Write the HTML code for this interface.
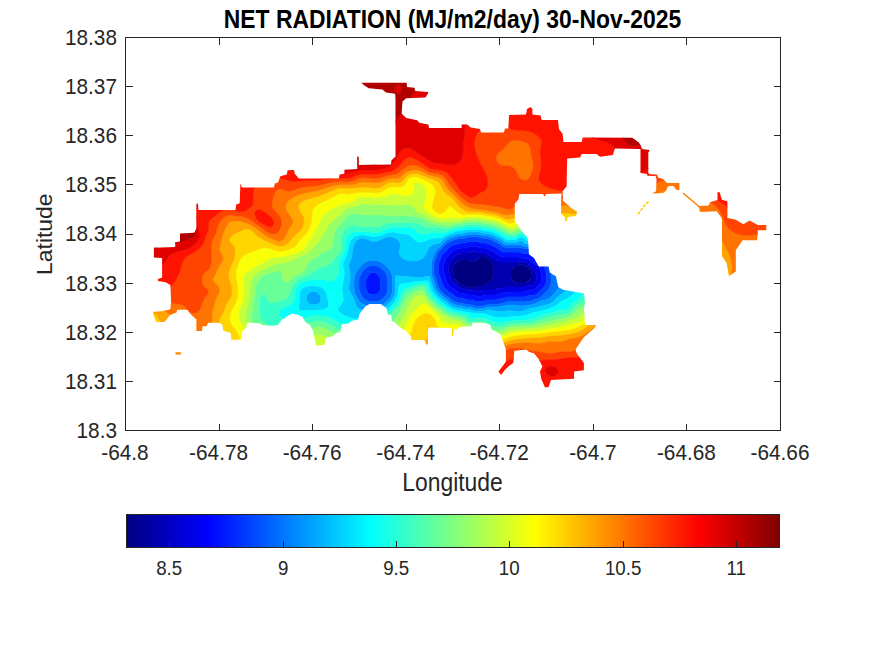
<!DOCTYPE html>
<html><head><meta charset="utf-8"><title>Net Radiation</title><style>html,body{margin:0;padding:0;background:#fff;}svg{display:block;}</style></head><body>
<svg xmlns="http://www.w3.org/2000/svg" width="875" height="656" viewBox="0 0 875 656">
<defs><clipPath id="cp"><path d="M361.4 82.8 406.6 82.8 407.1 86.9 414.4 87.8 415.3 91.0 428.1 91.9 428.1 93.3 425.4 97.4 406.2 98.3 402.5 101.5 401.6 113.4 406.2 118.0 417.2 120.2 419.0 122.5 425.0 124.0 428.4 124.6 429.0 128.0 461.6 128.0 461.6 124.6 467.3 124.6 470.7 127.4 479.9 129.1 481.0 132.6 503.9 132.6 505.0 128.6 508.4 128.6 509.0 114.9 526.0 114.6 527.0 109.1 530.6 107.0 532.4 109.1 532.4 114.6 540.7 115.5 541.6 120.1 558.0 120.1 559.0 129.3 562.6 133.8 563.5 142.1 581.8 142.1 582.7 137.5 632.3 137.7 635.5 140.0 639.1 142.7 641.4 146.9 641.9 149.1 649.7 150.1 648.3 152.8 648.3 172.9 649.7 174.3 657.4 174.8 657.9 177.5 662.9 178.9 666.6 182.5 668.4 183.0 679.4 183.0 679.4 189.9 676.7 189.9 673.0 185.7 668.0 186.2 666.6 189.4 663.9 193.1 652.0 193.5 656.1 191.2 656.5 179.3 655.6 176.1 647.4 175.7 646.9 173.9 640.5 172.9 640.5 149.1 614.7 148.5 612.9 154.9 600.1 156.7 596.5 154.0 581.8 154.0 580.0 157.6 567.2 158.5 566.7 180.0 566.7 186.2 562.6 191.3 563.0 200.6 570.8 207.8 577.0 211.4 576.0 216.0 567.8 217.0 566.7 221.2 565.2 221.2 564.7 217.0 561.1 214.0 561.1 200.6 561.6 193.4 546.2 193.9 544.6 196.5 543.0 194.0 519.4 193.9 518.4 199.5 514.8 203.7 514.8 221.2 517.3 224.2 520.4 229.4 525.6 235.6 527.8 238.5 529.0 254.4 533.9 258.0 538.8 266.6 548.5 266.6 549.8 272.7 555.9 276.3 558.3 287.3 563.2 289.8 583.9 293.4 585.1 303.2 583.9 308.0 585.1 325.1 596.1 325.1 594.9 327.6 583.9 337.3 575.4 349.5 576.6 353.2 583.9 362.9 583.9 370.2 574.1 371.5 574.1 378.8 551.0 380.0 548.5 387.3 544.9 387.3 541.2 378.8 540.0 371.5 542.4 366.6 538.8 359.3 533.9 353.2 529.0 352.0 526.6 349.5 514.4 350.7 513.2 362.9 508.3 366.6 504.6 370.2 501.0 375.1 498.5 371.5 505.9 361.7 505.9 349.5 501.0 334.9 498.3 332.7 491.4 329.3 490.3 324.7 485.7 323.0 472.0 322.4 471.4 325.9 459.4 327.0 457.1 329.3 453.7 329.3 453.1 336.1 452.0 336.1 452.0 328.1 429.7 327.6 428.0 329.3 428.0 344.1 426.3 344.7 425.1 340.7 424.0 340.1 411.4 340.1 410.9 336.1 408.6 333.9 406.9 331.6 403.4 329.3 400.0 327.6 396.8 324.0 392.0 320.8 391.2 315.2 388.0 314.4 386.4 308.0 380.8 304.0 369.6 304.0 366.0 305.8 359.6 313.8 358.0 319.4 351.6 321.0 348.4 323.4 342.0 324.2 340.4 331.4 336.4 333.0 332.4 336.2 326.0 337.8 324.4 345.0 316.4 345.8 314.8 339.4 313.2 331.4 310.0 325.0 305.2 321.8 302.8 317.0 297.2 314.6 291.6 313.8 286.8 316.2 284.4 318.6 282.0 319.4 278.0 325.0 273.2 325.8 262.0 325.0 260.4 323.4 247.6 322.6 246.0 328.2 242.4 330.4 241.7 339.3 231.4 340.0 230.7 333.1 223.2 330.4 222.5 324.9 219.8 322.8 208.1 322.8 206.7 326.2 202.6 326.2 201.9 331.0 196.4 331.0 196.4 319.4 191.6 315.3 187.5 309.8 177.2 309.8 176.5 312.5 170.0 315.0 165.6 320.8 164.2 322.1 156.0 322.1 153.9 316.6 153.2 311.8 161.5 311.2 169.0 309.8 170.4 309.1 171.1 301.6 170.4 285.1 165.6 282.3 158.0 281.0 158.0 278.9 162.1 277.5 162.1 258.1 153.9 257.4 153.9 247.8 175.2 247.1 175.2 242.3 180.0 241.6 180.0 233.4 194.4 232.7 196.4 227.9 196.4 203.9 197.8 203.2 198.5 210.1 235.5 210.1 236.2 204.6 239.7 203.2 240.4 183.4 242.0 187.4 274.0 187.4 274.8 183.4 278.0 182.6 280.4 176.2 286.8 174.6 287.6 170.3 294.0 170.3 294.8 173.8 298.8 178.6 338.8 178.6 339.6 174.6 344.4 173.8 344.4 169.8 357.2 169.0 357.2 156.2 358.8 157.0 358.8 165.0 391.0 164.6 391.4 160.5 395.5 156.4 395.5 100.0 395.2 93.7 386.1 92.4 382.4 89.6 368.7 88.3 363.7 85.1Z"/><path d="M699.0 206.0 708.5 205.5 710.6 202.1 717.5 200.0 717.5 192.2 719.5 192.2 722.0 199.8 727.4 201.4 727.4 218.1 735.8 219.7 743.4 224.2 749.5 220.4 757.9 225.0 766.3 225.0 766.3 230.3 757.9 230.3 757.1 240.3 742.6 240.3 735.8 250.2 735.8 271.5 728.9 276.1 726.6 263.1 722.0 256.3 722.0 219.7 721.3 217.4 716.7 211.3 699.9 212.0Z"/></clipPath>
<linearGradient id="jet" x1="0" y1="0" x2="1" y2="0"><stop offset="0.0000" stop-color="#000080"/><stop offset="0.0156" stop-color="#00008f"/><stop offset="0.0312" stop-color="#00009f"/><stop offset="0.0469" stop-color="#0000af"/><stop offset="0.0625" stop-color="#0000bf"/><stop offset="0.0781" stop-color="#0000cf"/><stop offset="0.0938" stop-color="#0000df"/><stop offset="0.1094" stop-color="#0000ef"/><stop offset="0.1250" stop-color="#0000ff"/><stop offset="0.1406" stop-color="#0010ff"/><stop offset="0.1562" stop-color="#0020ff"/><stop offset="0.1719" stop-color="#0030ff"/><stop offset="0.1875" stop-color="#0040ff"/><stop offset="0.2031" stop-color="#0050ff"/><stop offset="0.2188" stop-color="#0060ff"/><stop offset="0.2344" stop-color="#0070ff"/><stop offset="0.2500" stop-color="#0080ff"/><stop offset="0.2656" stop-color="#008fff"/><stop offset="0.2812" stop-color="#009fff"/><stop offset="0.2969" stop-color="#00afff"/><stop offset="0.3125" stop-color="#00bfff"/><stop offset="0.3281" stop-color="#00cfff"/><stop offset="0.3438" stop-color="#00dfff"/><stop offset="0.3594" stop-color="#00efff"/><stop offset="0.3750" stop-color="#00ffff"/><stop offset="0.3906" stop-color="#10ffef"/><stop offset="0.4062" stop-color="#20ffdf"/><stop offset="0.4219" stop-color="#30ffcf"/><stop offset="0.4375" stop-color="#40ffbf"/><stop offset="0.4531" stop-color="#50ffaf"/><stop offset="0.4688" stop-color="#60ff9f"/><stop offset="0.4844" stop-color="#70ff8f"/><stop offset="0.5000" stop-color="#80ff80"/><stop offset="0.5156" stop-color="#8fff70"/><stop offset="0.5312" stop-color="#9fff60"/><stop offset="0.5469" stop-color="#afff50"/><stop offset="0.5625" stop-color="#bfff40"/><stop offset="0.5781" stop-color="#cfff30"/><stop offset="0.5938" stop-color="#dfff20"/><stop offset="0.6094" stop-color="#efff10"/><stop offset="0.6250" stop-color="#ffff00"/><stop offset="0.6406" stop-color="#ffef00"/><stop offset="0.6562" stop-color="#ffdf00"/><stop offset="0.6719" stop-color="#ffcf00"/><stop offset="0.6875" stop-color="#ffbf00"/><stop offset="0.7031" stop-color="#ffaf00"/><stop offset="0.7188" stop-color="#ff9f00"/><stop offset="0.7344" stop-color="#ff8f00"/><stop offset="0.7500" stop-color="#ff8000"/><stop offset="0.7656" stop-color="#ff7000"/><stop offset="0.7812" stop-color="#ff6000"/><stop offset="0.7969" stop-color="#ff5000"/><stop offset="0.8125" stop-color="#ff4000"/><stop offset="0.8281" stop-color="#ff3000"/><stop offset="0.8438" stop-color="#ff2000"/><stop offset="0.8594" stop-color="#ff1000"/><stop offset="0.8750" stop-color="#ff0000"/><stop offset="0.8906" stop-color="#ef0000"/><stop offset="0.9062" stop-color="#df0000"/><stop offset="0.9219" stop-color="#cf0000"/><stop offset="0.9375" stop-color="#bf0000"/><stop offset="0.9531" stop-color="#af0000"/><stop offset="0.9688" stop-color="#9f0000"/><stop offset="0.9844" stop-color="#8f0000"/><stop offset="1.0000" stop-color="#800000"/></linearGradient></defs>
<rect width="875" height="656" fill="#fff"/>
<g clip-path="url(#cp)">
<path fill="#000080" stroke="#000080" stroke-width="0.6" fill-rule="evenodd" d="M479.0 257.5 480.5 257.0 482.0 257.0 483.5 257.0 485.0 257.0 486.5 257.5 487.0 258.0 488.0 259.0 488.5 259.5 489.5 260.5 490.0 261.0 491.0 262.0 491.5 262.5 492.0 264.0 492.5 264.9 493.0 265.5 493.5 267.0 493.5 268.5 493.5 270.0 493.5 271.5 493.5 273.0 493.5 274.5 493.5 276.0 493.0 277.5 492.5 278.1 492.0 279.0 491.5 280.5 491.0 281.0 490.0 282.0 489.5 282.5 488.0 283.0 487.1 283.5 486.5 284.0 485.0 284.5 484.1 285.0 483.5 285.5 482.0 286.0 480.5 286.0 479.0 286.0 478.1 286.5 477.5 287.0 476.0 287.5 474.5 287.5 473.0 287.5 471.5 287.5 470.0 287.5 468.5 287.5 467.0 287.0 466.4 286.5 465.5 286.0 464.0 286.0 462.5 285.5 461.9 285.0 461.0 284.5 459.5 284.0 459.0 283.5 458.0 282.5 457.5 282.0 456.5 281.0 456.0 280.5 455.0 279.5 454.5 279.0 454.0 277.5 454.0 276.0 454.0 274.5 453.5 273.6 453.0 273.0 452.5 271.5 452.5 270.0 453.0 268.5 453.5 267.9 454.0 267.0 454.0 265.5 454.5 264.0 455.0 263.5 456.0 262.5 456.5 262.0 458.0 261.5 458.9 261.0 459.5 260.5 461.0 260.0 462.5 260.0 464.0 260.0 465.5 260.0 467.0 260.0 468.5 260.0 470.0 260.5 470.6 261.0 471.5 261.5 473.0 262.0 474.5 262.0 475.5 261.0 476.0 260.5 477.0 259.5 477.5 259.0 478.5 258.0ZM519.5 265.0 521.0 264.5 522.5 264.5 524.0 265.0 524.6 265.5 525.5 266.0 527.0 266.5 527.5 267.0 528.5 268.0 529.0 268.5 530.0 269.5 530.5 270.0 531.0 271.5 531.5 272.4 532.0 273.0 532.5 274.5 532.0 276.0 531.5 276.6 531.0 277.5 530.5 279.0 530.0 279.5 529.0 280.5 528.5 281.0 527.5 282.0 527.0 282.5 525.5 283.0 524.0 283.0 522.5 283.0 521.0 283.0 519.5 283.0 518.0 283.0 516.5 283.0 515.0 282.5 514.5 282.0 513.5 281.0 513.0 280.5 512.0 279.5 511.5 279.0 511.0 277.5 511.0 276.0 511.0 274.5 511.0 273.0 511.0 271.5 511.5 270.0 512.0 269.5 513.0 268.5 513.5 268.0 514.5 267.0 515.0 266.5 516.5 266.0 518.0 266.0 518.9 265.5Z"/>
<path fill="#0000b0" stroke="#0000b0" stroke-width="0.6" fill-rule="evenodd" d="M470.0 251.6 471.5 251.6 473.0 251.6 474.5 251.6 476.0 251.6 476.4 252.0 477.5 253.1 479.0 253.1 480.5 253.1 482.0 253.1 483.5 253.1 485.0 253.1 485.4 253.5 486.5 253.9 488.0 254.6 488.4 255.0 489.5 256.1 491.0 256.1 491.4 256.5 492.5 257.6 492.9 258.0 494.0 259.1 495.5 259.1 495.9 259.5 497.0 260.6 498.5 260.6 498.9 261.0 500.0 262.1 501.5 262.1 503.0 262.1 504.5 262.1 506.0 262.1 507.5 262.1 509.0 262.1 510.5 262.1 512.0 262.1 513.5 262.1 515.0 262.1 516.5 262.1 518.0 262.1 519.5 261.6 521.0 261.7 522.5 261.7 524.0 261.7 525.1 262.5 525.5 262.9 527.0 263.1 528.0 264.0 528.5 264.5 529.6 265.5 530.0 265.9 531.1 267.0 531.5 267.4 532.6 268.5 533.0 268.9 534.5 269.6 534.9 270.0 534.9 271.5 535.6 273.0 536.0 274.1 536.4 274.5 536.4 276.0 536.4 277.5 536.4 279.0 536.4 280.5 536.0 280.9 534.9 282.0 534.5 282.4 533.4 283.5 533.0 283.9 531.9 285.0 531.5 285.4 530.0 285.4 528.5 285.4 527.0 286.1 525.5 286.1 524.4 286.5 524.0 286.9 522.5 286.9 521.0 286.9 519.5 286.9 518.0 286.9 516.5 286.9 515.0 286.9 513.5 286.9 512.0 286.9 510.5 286.9 509.0 286.9 507.5 286.9 506.0 286.9 504.5 286.9 503.0 286.9 501.9 288.0 501.5 288.4 500.0 288.4 498.5 288.4 497.0 288.4 495.9 289.5 495.5 289.9 494.0 289.9 492.5 289.9 491.0 289.9 489.5 289.9 488.0 289.9 486.5 289.9 485.0 289.9 483.5 289.9 482.0 289.9 480.9 291.0 480.5 291.4 479.0 291.4 477.5 291.4 477.1 291.0 476.0 290.6 474.5 290.6 473.0 290.6 471.5 290.6 470.0 290.6 468.5 290.6 467.0 290.4 465.9 289.5 465.5 289.1 464.0 289.1 462.5 289.1 461.0 288.4 460.6 288.0 459.5 287.6 458.4 286.5 458.0 286.1 456.9 285.0 456.5 284.6 455.0 283.9 454.6 283.5 453.5 282.4 453.1 282.0 452.0 280.9 451.6 280.5 450.9 279.0 450.9 277.5 450.5 276.4 450.1 276.0 450.1 274.5 449.4 273.0 449.0 271.9 448.6 271.5 448.6 270.0 448.6 268.5 448.6 267.0 448.6 265.5 449.0 265.1 450.1 264.0 450.1 262.5 450.1 261.0 450.5 260.6 451.6 259.5 452.0 259.1 453.1 258.0 453.5 257.6 454.6 256.5 455.0 256.1 456.1 255.0 456.5 254.6 458.0 254.6 459.5 254.6 460.6 253.5 461.0 253.1 462.5 253.1 464.0 253.1 465.5 253.1 467.0 253.1 468.5 253.1 469.6 252.0ZM478.5 258.0 477.5 259.0 477.0 259.5 476.0 260.5 475.5 261.0 474.5 262.0 473.0 262.0 471.5 261.5 470.6 261.0 470.0 260.5 468.5 260.0 467.0 260.0 465.5 260.0 464.0 260.0 462.5 260.0 461.0 260.0 459.5 260.5 458.9 261.0 458.0 261.5 456.5 262.0 456.0 262.5 455.0 263.5 454.5 264.0 454.0 265.5 454.0 267.0 453.5 267.9 453.0 268.5 452.5 270.0 452.5 271.5 453.0 273.0 453.5 273.6 454.0 274.5 454.0 276.0 454.0 277.5 454.5 279.0 455.0 279.5 456.0 280.5 456.5 281.0 457.5 282.0 458.0 282.5 459.0 283.5 459.5 284.0 461.0 284.5 461.9 285.0 462.5 285.5 464.0 286.0 465.5 286.0 466.4 286.5 467.0 287.0 468.5 287.5 470.0 287.5 471.5 287.5 473.0 287.5 474.5 287.5 476.0 287.5 477.5 287.0 478.1 286.5 479.0 286.0 480.5 286.0 482.0 286.0 483.5 285.5 484.1 285.0 485.0 284.5 486.5 284.0 487.1 283.5 488.0 283.0 489.5 282.5 490.0 282.0 491.0 281.0 491.5 280.5 492.0 279.0 492.5 278.1 493.0 277.5 493.5 276.0 493.5 274.5 493.5 273.0 493.5 271.5 493.5 270.0 493.5 268.5 493.5 267.0 493.0 265.5 492.5 264.9 492.0 264.0 491.5 262.5 491.0 262.0 490.0 261.0 489.5 260.5 488.5 259.5 488.0 259.0 487.0 258.0 486.5 257.5 485.0 257.0 483.5 257.0 482.0 257.0 480.5 257.0 479.0 257.5ZM518.9 265.5 518.0 266.0 516.5 266.0 515.0 266.5 514.5 267.0 513.5 268.0 513.0 268.5 512.0 269.5 511.5 270.0 511.0 271.5 511.0 273.0 511.0 274.5 511.0 276.0 511.0 277.5 511.5 279.0 512.0 279.5 513.0 280.5 513.5 281.0 514.5 282.0 515.0 282.5 516.5 283.0 518.0 283.0 519.5 283.0 521.0 283.0 522.5 283.0 524.0 283.0 525.5 283.0 527.0 282.5 527.5 282.0 528.5 281.0 529.0 280.5 530.0 279.5 530.5 279.0 531.0 277.5 531.5 276.6 532.0 276.0 532.5 274.5 532.0 273.0 531.5 272.4 531.0 271.5 530.5 270.0 530.0 269.5 529.0 268.5 528.5 268.0 527.5 267.0 527.0 266.5 525.5 266.0 524.6 265.5 524.0 265.0 522.5 264.5 521.0 264.5 519.5 265.0Z"/>
<path fill="#0000e1" stroke="#0000e1" stroke-width="0.6" fill-rule="evenodd" d="M468.5 246.9 470.0 246.6 471.5 246.6 473.0 246.6 474.5 246.6 476.0 246.6 477.5 246.9 478.9 247.5 479.0 247.6 480.5 248.1 482.0 248.1 483.5 248.1 485.0 248.1 486.5 248.4 487.9 249.0 488.0 249.1 489.5 249.9 490.9 250.5 491.0 250.6 492.5 251.4 493.9 252.0 494.0 252.1 495.4 253.5 495.5 253.6 497.0 254.4 498.4 255.0 498.5 255.1 500.0 255.9 501.4 256.5 501.5 256.6 503.0 257.1 504.5 257.1 506.0 257.1 507.5 257.1 509.0 257.1 510.5 257.1 512.0 257.1 513.5 257.1 515.0 257.1 516.5 257.1 518.0 257.1 519.5 257.4 520.9 258.0 521.0 258.1 522.5 258.6 524.0 258.6 525.5 258.6 527.0 258.9 528.4 259.5 528.5 259.6 529.9 261.0 530.0 261.1 531.5 261.9 532.9 262.5 533.0 262.6 534.4 264.0 534.5 264.1 536.0 264.9 537.4 265.5 537.5 265.6 538.9 267.0 539.0 267.1 539.6 268.5 539.9 270.0 540.4 271.5 540.5 271.6 541.1 273.0 541.4 274.5 541.4 276.0 541.4 277.5 541.4 279.0 541.4 280.5 541.1 282.0 540.5 283.4 540.4 283.5 539.0 284.9 538.9 285.0 537.5 286.4 537.4 286.5 536.0 287.9 535.9 288.0 534.5 289.4 534.4 289.5 533.0 290.1 531.5 290.4 530.0 290.4 528.5 290.4 527.0 290.9 526.9 291.0 525.5 291.6 524.0 291.9 522.5 291.9 521.0 291.9 519.5 291.9 518.0 291.9 516.5 291.9 515.0 291.9 513.5 291.9 512.0 291.9 510.5 291.9 509.0 292.1 507.5 292.3 506.0 292.4 504.5 292.5 504.4 292.5 503.0 293.1 501.5 293.4 500.0 293.4 498.5 293.9 498.4 294.0 497.0 294.6 495.5 294.9 494.0 294.9 492.5 294.9 491.0 294.9 489.5 294.9 488.0 294.9 486.5 294.9 485.0 294.9 483.5 295.4 483.4 295.5 482.0 296.1 480.5 296.4 479.0 296.4 477.5 296.4 476.0 296.1 474.6 295.5 474.5 295.4 473.0 294.9 471.5 294.9 470.0 294.9 468.5 294.9 467.0 294.6 465.6 294.0 465.5 293.9 464.0 293.4 462.5 293.4 461.0 293.4 459.5 293.1 458.1 292.5 458.0 292.4 456.6 291.0 456.5 290.9 455.1 289.5 455.0 289.4 453.5 288.6 452.1 288.0 452.0 287.9 450.6 286.5 450.5 286.4 449.1 285.0 449.0 284.9 447.6 283.5 447.5 283.4 446.9 282.0 446.6 280.5 446.1 279.0 446.0 278.9 445.4 277.5 445.1 276.0 444.6 274.5 444.5 274.4 443.9 273.0 443.6 271.5 443.6 270.0 443.6 268.5 443.6 267.0 443.6 265.5 443.9 264.0 444.5 262.6 444.6 262.5 445.1 261.0 445.4 259.5 446.0 258.1 446.1 258.0 447.5 256.6 447.6 256.5 449.0 255.1 449.1 255.0 450.5 253.6 450.6 253.5 452.0 252.1 452.1 252.0 453.5 250.6 453.6 250.5 455.0 249.9 456.5 249.6 458.0 249.1 458.1 249.0 459.5 248.4 461.0 248.1 462.5 248.1 464.0 248.1 465.5 248.1 467.0 247.6 467.1 247.5ZM469.6 252.0 468.5 253.1 467.0 253.1 465.5 253.1 464.0 253.1 462.5 253.1 461.0 253.1 460.6 253.5 459.5 254.6 458.0 254.6 456.5 254.6 456.1 255.0 455.0 256.1 454.6 256.5 453.5 257.6 453.1 258.0 452.0 259.1 451.6 259.5 450.5 260.6 450.1 261.0 450.1 262.5 450.1 264.0 449.0 265.1 448.6 265.5 448.6 267.0 448.6 268.5 448.6 270.0 448.6 271.5 449.0 271.9 449.4 273.0 450.1 274.5 450.1 276.0 450.5 276.4 450.9 277.5 450.9 279.0 451.6 280.5 452.0 280.9 453.1 282.0 453.5 282.4 454.6 283.5 455.0 283.9 456.5 284.6 456.9 285.0 458.0 286.1 458.4 286.5 459.5 287.6 460.6 288.0 461.0 288.4 462.5 289.1 464.0 289.1 465.5 289.1 465.9 289.5 467.0 290.4 468.5 290.6 470.0 290.6 471.5 290.6 473.0 290.6 474.5 290.6 476.0 290.6 477.1 291.0 477.5 291.4 479.0 291.4 480.5 291.4 480.9 291.0 482.0 289.9 483.5 289.9 485.0 289.9 486.5 289.9 488.0 289.9 489.5 289.9 491.0 289.9 492.5 289.9 494.0 289.9 495.5 289.9 495.9 289.5 497.0 288.4 498.5 288.4 500.0 288.4 501.5 288.4 501.9 288.0 503.0 286.9 504.5 286.9 506.0 286.9 507.5 286.9 509.0 286.9 510.5 286.9 512.0 286.9 513.5 286.9 515.0 286.9 516.5 286.9 518.0 286.9 519.5 286.9 521.0 286.9 522.5 286.9 524.0 286.9 524.4 286.5 525.5 286.1 527.0 286.1 528.5 285.4 530.0 285.4 531.5 285.4 531.9 285.0 533.0 283.9 533.4 283.5 534.5 282.4 534.9 282.0 536.0 280.9 536.4 280.5 536.4 279.0 536.4 277.5 536.4 276.0 536.4 274.5 536.0 274.1 535.6 273.0 534.9 271.5 534.9 270.0 534.5 269.6 533.0 268.9 532.6 268.5 531.5 267.4 531.1 267.0 530.0 265.9 529.6 265.5 528.5 264.5 528.0 264.0 527.0 263.1 525.5 262.9 525.1 262.5 524.0 261.7 522.5 261.7 521.0 261.7 519.5 261.6 518.0 262.1 516.5 262.1 515.0 262.1 513.5 262.1 512.0 262.1 510.5 262.1 509.0 262.1 507.5 262.1 506.0 262.1 504.5 262.1 503.0 262.1 501.5 262.1 500.0 262.1 498.9 261.0 498.5 260.6 497.0 260.6 495.9 259.5 495.5 259.1 494.0 259.1 492.9 258.0 492.5 257.6 491.4 256.5 491.0 256.1 489.5 256.1 488.4 255.0 488.0 254.6 486.5 253.9 485.4 253.5 485.0 253.1 483.5 253.1 482.0 253.1 480.5 253.1 479.0 253.1 477.5 253.1 476.4 252.0 476.0 251.6 474.5 251.6 473.0 251.6 471.5 251.6 470.0 251.6Z"/>
<path fill="#0012ff" stroke="#0012ff" stroke-width="0.6" fill-rule="evenodd" d="M465.5 242.7 467.0 242.1 468.5 241.7 470.0 241.6 471.5 241.6 473.0 241.6 474.5 241.6 476.0 241.6 477.5 241.7 479.0 242.1 480.5 242.7 481.5 243.0 482.0 243.1 483.5 243.1 485.0 243.1 486.5 243.2 488.0 243.6 489.5 244.2 490.1 244.5 491.0 245.0 492.5 245.7 493.1 246.0 494.0 246.5 495.5 247.2 496.1 247.5 497.0 248.1 498.1 249.0 498.5 249.3 500.0 250.2 500.6 250.5 501.5 251.0 503.0 251.7 504.0 252.0 504.5 252.1 506.0 252.1 507.5 252.1 509.0 252.1 510.5 252.1 512.0 252.1 513.5 252.1 515.0 252.1 516.5 252.1 518.0 252.1 519.5 252.2 521.0 252.6 522.5 253.2 523.5 253.5 524.0 253.6 525.5 253.6 527.0 253.7 528.5 254.1 530.0 254.7 530.6 255.0 531.5 255.6 532.6 256.5 533.0 256.8 534.5 257.7 535.1 258.0 536.0 258.6 537.1 259.5 537.5 259.8 539.0 260.7 539.6 261.0 540.5 261.6 541.6 262.5 542.0 262.9 542.9 264.0 543.5 264.9 543.8 265.5 544.4 267.0 544.8 268.5 545.0 269.2 545.3 270.0 545.9 271.5 546.3 273.0 546.4 274.5 546.4 276.0 546.4 277.5 546.4 279.0 546.4 280.5 546.3 282.0 545.9 283.5 545.3 285.0 545.0 285.6 544.4 286.5 543.5 287.6 543.1 288.0 542.0 289.1 541.6 289.5 540.5 290.6 540.1 291.0 539.0 292.1 538.6 292.5 537.5 293.4 536.6 294.0 536.0 294.3 534.5 294.9 533.0 295.3 531.5 295.4 530.0 295.4 529.5 295.5 528.5 295.8 527.0 296.4 525.5 296.8 524.0 296.9 522.5 296.9 521.0 296.9 519.5 296.9 518.0 296.9 516.5 296.9 515.0 296.9 513.5 296.9 512.0 296.9 510.5 296.9 509.0 296.9 507.5 296.9 507.0 297.0 506.0 297.3 504.5 297.9 503.0 298.3 501.5 298.4 501.0 298.5 500.0 298.8 498.5 299.4 497.0 299.8 495.5 299.9 494.0 299.9 492.5 299.9 491.0 299.9 489.5 299.9 488.0 299.9 486.5 299.9 486.0 300.0 485.0 300.3 483.5 300.9 482.0 301.3 480.5 301.4 479.0 301.4 477.5 301.4 476.0 301.3 474.5 300.9 473.0 300.3 472.0 300.0 471.5 299.9 470.0 299.9 468.5 299.9 467.0 299.8 465.5 299.4 464.0 298.8 463.0 298.5 462.5 298.4 461.0 298.4 459.5 298.3 458.0 297.9 456.5 297.3 455.9 297.0 455.0 296.4 453.9 295.5 453.5 295.1 452.4 294.0 452.0 293.7 450.5 292.8 449.9 292.5 449.0 291.9 447.9 291.0 447.5 290.6 446.4 289.5 446.0 289.1 444.9 288.0 444.5 287.6 443.6 286.5 443.0 285.6 442.7 285.0 442.1 283.5 441.7 282.0 441.5 281.3 441.2 280.5 440.6 279.0 440.2 277.5 440.0 276.8 439.7 276.0 439.1 274.5 438.7 273.0 438.6 271.5 438.6 270.0 438.6 268.5 438.6 267.0 438.6 265.5 438.7 264.0 439.1 262.5 439.7 261.0 440.0 260.2 440.2 259.5 440.6 258.0 441.2 256.5 441.5 255.9 442.1 255.0 443.0 253.9 443.4 253.5 444.5 252.4 444.9 252.0 446.0 250.9 446.4 250.5 447.5 249.4 447.9 249.0 449.0 247.9 449.4 247.5 450.5 246.6 451.4 246.0 452.0 245.7 453.5 245.1 455.0 244.7 455.7 244.5 456.5 244.2 458.0 243.6 459.5 243.2 461.0 243.1 462.5 243.1 464.0 243.1 464.5 243.0ZM467.1 247.5 467.0 247.6 465.5 248.1 464.0 248.1 462.5 248.1 461.0 248.1 459.5 248.4 458.1 249.0 458.0 249.1 456.5 249.6 455.0 249.9 453.6 250.5 453.5 250.6 452.1 252.0 452.0 252.1 450.6 253.5 450.5 253.6 449.1 255.0 449.0 255.1 447.6 256.5 447.5 256.6 446.1 258.0 446.0 258.1 445.4 259.5 445.1 261.0 444.6 262.5 444.5 262.6 443.9 264.0 443.6 265.5 443.6 267.0 443.6 268.5 443.6 270.0 443.6 271.5 443.9 273.0 444.5 274.4 444.6 274.5 445.1 276.0 445.4 277.5 446.0 278.9 446.1 279.0 446.6 280.5 446.9 282.0 447.5 283.4 447.6 283.5 449.0 284.9 449.1 285.0 450.5 286.4 450.6 286.5 452.0 287.9 452.1 288.0 453.5 288.6 455.0 289.4 455.1 289.5 456.5 290.9 456.6 291.0 458.0 292.4 458.1 292.5 459.5 293.1 461.0 293.4 462.5 293.4 464.0 293.4 465.5 293.9 465.6 294.0 467.0 294.6 468.5 294.9 470.0 294.9 471.5 294.9 473.0 294.9 474.5 295.4 474.6 295.5 476.0 296.1 477.5 296.4 479.0 296.4 480.5 296.4 482.0 296.1 483.4 295.5 483.5 295.4 485.0 294.9 486.5 294.9 488.0 294.9 489.5 294.9 491.0 294.9 492.5 294.9 494.0 294.9 495.5 294.9 497.0 294.6 498.4 294.0 498.5 293.9 500.0 293.4 501.5 293.4 503.0 293.1 504.4 292.5 504.5 292.5 506.0 292.4 507.5 292.3 509.0 292.1 510.5 291.9 512.0 291.9 513.5 291.9 515.0 291.9 516.5 291.9 518.0 291.9 519.5 291.9 521.0 291.9 522.5 291.9 524.0 291.9 525.5 291.6 526.9 291.0 527.0 290.9 528.5 290.4 530.0 290.4 531.5 290.4 533.0 290.1 534.4 289.5 534.5 289.4 535.9 288.0 536.0 287.9 537.4 286.5 537.5 286.4 538.9 285.0 539.0 284.9 540.4 283.5 540.5 283.4 541.1 282.0 541.4 280.5 541.4 279.0 541.4 277.5 541.4 276.0 541.4 274.5 541.1 273.0 540.5 271.6 540.4 271.5 539.9 270.0 539.6 268.5 539.0 267.1 538.9 267.0 537.5 265.6 537.4 265.5 536.0 264.9 534.5 264.1 534.4 264.0 533.0 262.6 532.9 262.5 531.5 261.9 530.0 261.1 529.9 261.0 528.5 259.6 528.4 259.5 527.0 258.9 525.5 258.6 524.0 258.6 522.5 258.6 521.0 258.1 520.9 258.0 519.5 257.4 518.0 257.1 516.5 257.1 515.0 257.1 513.5 257.1 512.0 257.1 510.5 257.1 509.0 257.1 507.5 257.1 506.0 257.1 504.5 257.1 503.0 257.1 501.5 256.6 501.4 256.5 500.0 255.9 498.5 255.1 498.4 255.0 497.0 254.4 495.5 253.6 495.4 253.5 494.0 252.1 493.9 252.0 492.5 251.4 491.0 250.6 490.9 250.5 489.5 249.9 488.0 249.1 487.9 249.0 486.5 248.4 485.0 248.1 483.5 248.1 482.0 248.1 480.5 248.1 479.0 247.6 478.9 247.5 477.5 246.9 476.0 246.6 474.5 246.6 473.0 246.6 471.5 246.6 470.0 246.6 468.5 246.9ZM371.0 272.8 372.5 272.5 374.0 272.5 375.5 272.8 375.7 273.0 377.0 274.3 377.2 274.5 378.5 275.8 378.7 276.0 380.0 277.3 380.2 277.5 380.5 279.0 380.5 280.5 380.5 282.0 380.5 283.5 380.5 285.0 380.5 286.5 380.5 288.0 380.5 289.5 380.2 291.0 380.0 291.2 378.7 292.5 378.5 292.7 377.2 294.0 377.0 294.2 375.5 294.5 374.0 294.5 372.5 294.5 371.0 294.5 369.5 294.2 369.3 294.0 368.0 292.7 367.8 292.5 367.4 291.0 366.5 289.7 366.3 289.5 366.0 288.0 366.0 286.5 366.0 285.0 366.0 283.5 366.0 282.0 366.0 280.5 366.3 279.0 366.5 278.8 367.4 277.5 367.8 276.0 368.0 275.8 369.3 274.5 369.5 274.3 370.8 273.0Z"/>
<path fill="#0043ff" stroke="#0043ff" stroke-width="0.6" fill-rule="evenodd" d="M468.5 236.9 470.0 236.8 471.5 236.8 473.0 236.8 474.5 236.8 476.0 236.8 477.5 236.9 478.2 237.0 479.0 237.2 480.5 237.7 482.0 238.1 483.5 238.3 485.0 238.3 486.5 238.4 487.2 238.5 488.0 238.7 489.5 239.2 491.0 239.6 491.8 240.0 492.5 240.5 494.0 241.1 494.8 241.5 495.5 242.0 497.0 242.6 497.8 243.0 498.5 243.5 500.0 244.3 500.3 244.5 501.5 245.6 502.3 246.0 503.0 246.5 504.5 247.1 506.0 247.3 507.5 247.3 509.0 247.3 510.5 247.3 512.0 247.3 513.5 247.3 515.0 247.3 516.5 247.3 518.0 247.3 519.5 247.4 520.2 247.5 521.0 247.7 522.5 248.2 524.0 248.6 525.5 248.8 527.0 248.9 527.7 249.0 528.5 249.2 530.0 249.7 531.5 250.1 532.3 250.5 533.0 251.0 534.5 251.8 534.8 252.0 536.0 253.1 536.0 253.5 537.5 255.0 539.0 256.5 540.5 258.0 542.0 259.5 543.5 259.5 545.0 259.5 545.4 259.5 546.5 260.7 546.7 261.0 547.5 262.5 548.0 263.2 548.4 264.0 548.8 265.5 549.3 267.0 549.5 267.4 549.9 268.5 550.3 270.0 550.8 271.5 551.0 272.3 551.1 273.0 551.2 274.5 551.2 276.0 551.2 277.5 551.3 279.0 551.3 280.5 551.2 282.0 551.0 282.7 550.8 283.5 550.7 285.0 550.3 286.5 549.5 287.9 549.4 288.0 548.6 289.5 548.0 290.1 547.3 291.0 546.5 291.6 545.6 292.5 545.0 293.0 544.0 294.0 543.5 294.4 542.4 295.5 542.0 295.9 540.8 297.0 540.5 297.2 539.0 298.0 538.3 298.5 537.5 298.9 536.0 299.3 534.5 299.8 533.7 300.0 533.0 300.2 531.5 301.0 530.0 301.5 530.0 301.5 528.5 301.5 528.4 301.5 527.0 301.3 526.2 301.5 525.5 301.6 524.0 301.7 522.5 301.7 521.0 301.7 519.5 301.7 518.0 301.7 516.5 301.7 515.0 301.7 513.5 301.7 512.0 301.7 510.5 301.7 509.0 301.7 507.5 301.9 506.0 302.3 504.5 302.8 503.7 303.0 503.0 303.1 501.5 303.4 500.0 303.8 498.5 304.3 497.7 304.5 497.0 304.6 495.5 304.7 494.0 304.7 492.5 304.7 491.0 304.7 489.5 304.7 488.0 304.7 486.5 304.9 485.0 305.3 483.5 305.8 482.7 306.0 482.0 306.1 480.5 306.2 479.0 306.2 477.5 306.2 476.0 306.1 475.3 306.0 474.5 305.8 473.0 305.3 471.5 304.9 470.0 304.7 468.5 304.7 467.0 304.6 466.3 304.5 465.5 304.3 464.0 303.8 462.5 303.4 461.0 303.2 459.5 303.1 458.8 303.0 458.0 302.8 456.5 302.3 455.0 301.9 454.2 301.5 453.5 301.0 452.0 300.2 451.7 300.0 450.5 298.9 450.1 298.5 449.0 297.4 448.2 297.0 447.5 296.5 446.0 295.7 445.7 295.5 444.5 294.4 444.1 294.0 443.0 292.9 442.6 292.5 441.5 291.4 441.1 291.0 440.0 289.8 439.8 289.5 439.0 288.0 438.5 287.3 438.1 286.5 437.7 285.0 437.2 283.5 437.0 283.1 436.6 282.0 436.2 280.5 435.7 279.0 435.5 278.6 435.1 277.5 434.7 276.0 434.2 274.5 434.0 273.7 433.9 273.0 433.8 271.5 433.8 270.0 433.8 268.5 433.8 267.0 433.8 265.5 433.9 264.0 434.0 263.3 434.2 262.5 434.7 261.0 435.1 259.5 435.5 258.4 435.7 258.0 436.2 256.5 436.6 255.0 437.0 254.2 437.5 253.5 438.3 252.0 438.5 251.7 439.6 250.5 440.0 250.1 441.1 249.0 441.5 248.6 442.6 247.5 443.0 247.1 444.1 246.0 444.5 245.6 445.6 244.5 446.0 244.1 447.2 243.0 447.5 242.8 449.0 242.0 449.7 241.5 450.5 241.1 452.0 240.7 453.5 240.2 453.9 240.0 455.0 239.6 456.5 239.2 458.0 238.7 458.8 238.5 459.5 238.4 461.0 238.3 462.5 238.3 464.0 238.1 465.5 237.7 467.0 237.2 467.8 237.0ZM464.5 243.0 464.0 243.1 462.5 243.1 461.0 243.1 459.5 243.2 458.0 243.6 456.5 244.2 455.7 244.5 455.0 244.7 453.5 245.1 452.0 245.7 451.4 246.0 450.5 246.6 449.4 247.5 449.0 247.9 447.9 249.0 447.5 249.4 446.4 250.5 446.0 250.9 444.9 252.0 444.5 252.4 443.4 253.5 443.0 253.9 442.1 255.0 441.5 255.9 441.2 256.5 440.6 258.0 440.2 259.5 440.0 260.2 439.7 261.0 439.1 262.5 438.7 264.0 438.6 265.5 438.6 267.0 438.6 268.5 438.6 270.0 438.6 271.5 438.7 273.0 439.1 274.5 439.7 276.0 440.0 276.8 440.2 277.5 440.6 279.0 441.2 280.5 441.5 281.3 441.7 282.0 442.1 283.5 442.7 285.0 443.0 285.6 443.6 286.5 444.5 287.6 444.9 288.0 446.0 289.1 446.4 289.5 447.5 290.6 447.9 291.0 449.0 291.9 449.9 292.5 450.5 292.8 452.0 293.7 452.4 294.0 453.5 295.1 453.9 295.5 455.0 296.4 455.9 297.0 456.5 297.3 458.0 297.9 459.5 298.3 461.0 298.4 462.5 298.4 463.0 298.5 464.0 298.8 465.5 299.4 467.0 299.8 468.5 299.9 470.0 299.9 471.5 299.9 472.0 300.0 473.0 300.3 474.5 300.9 476.0 301.3 477.5 301.4 479.0 301.4 480.5 301.4 482.0 301.3 483.5 300.9 485.0 300.3 486.0 300.0 486.5 299.9 488.0 299.9 489.5 299.9 491.0 299.9 492.5 299.9 494.0 299.9 495.5 299.9 497.0 299.8 498.5 299.4 500.0 298.8 501.0 298.5 501.5 298.4 503.0 298.3 504.5 297.9 506.0 297.3 507.0 297.0 507.5 296.9 509.0 296.9 510.5 296.9 512.0 296.9 513.5 296.9 515.0 296.9 516.5 296.9 518.0 296.9 519.5 296.9 521.0 296.9 522.5 296.9 524.0 296.9 525.5 296.8 527.0 296.4 528.5 295.8 529.5 295.5 530.0 295.4 531.5 295.4 533.0 295.3 534.5 294.9 536.0 294.3 536.6 294.0 537.5 293.4 538.6 292.5 539.0 292.1 540.1 291.0 540.5 290.6 541.6 289.5 542.0 289.1 543.1 288.0 543.5 287.6 544.4 286.5 545.0 285.6 545.3 285.0 545.9 283.5 546.3 282.0 546.4 280.5 546.4 279.0 546.4 277.5 546.4 276.0 546.4 274.5 546.3 273.0 545.9 271.5 545.3 270.0 545.0 269.2 544.8 268.5 544.4 267.0 543.8 265.5 543.5 264.9 542.9 264.0 542.0 262.9 541.6 262.5 540.5 261.6 539.6 261.0 539.0 260.7 537.5 259.8 537.1 259.5 536.0 258.6 535.1 258.0 534.5 257.7 533.0 256.8 532.6 256.5 531.5 255.6 530.6 255.0 530.0 254.7 528.5 254.1 527.0 253.7 525.5 253.6 524.0 253.6 523.5 253.5 522.5 253.2 521.0 252.6 519.5 252.2 518.0 252.1 516.5 252.1 515.0 252.1 513.5 252.1 512.0 252.1 510.5 252.1 509.0 252.1 507.5 252.1 506.0 252.1 504.5 252.1 504.0 252.0 503.0 251.7 501.5 251.0 500.6 250.5 500.0 250.2 498.5 249.3 498.1 249.0 497.0 248.1 496.1 247.5 495.5 247.2 494.0 246.5 493.1 246.0 492.5 245.7 491.0 245.0 490.1 244.5 489.5 244.2 488.0 243.6 486.5 243.2 485.0 243.1 483.5 243.1 482.0 243.1 481.5 243.0 480.5 242.7 479.0 242.1 477.5 241.7 476.0 241.6 474.5 241.6 473.0 241.6 471.5 241.6 470.0 241.6 468.5 241.7 467.0 242.1 465.5 242.7ZM372.5 265.5 374.0 265.5 374.0 265.5 375.5 265.6 377.0 265.9 378.5 266.5 379.4 267.0 380.0 267.4 381.3 268.5 381.5 268.7 382.8 270.0 383.0 270.2 384.3 271.5 384.5 271.7 385.6 273.0 386.0 273.6 386.5 274.5 387.1 276.0 387.4 277.5 387.5 279.0 387.5 279.0 387.5 280.5 387.5 282.0 387.5 283.5 387.5 285.0 387.5 286.5 387.5 288.0 387.5 289.5 387.5 289.5 387.4 291.0 387.1 292.5 386.5 294.0 386.0 294.9 385.6 295.5 384.5 296.8 384.3 297.0 383.0 298.3 382.8 298.5 381.5 299.6 380.9 300.0 380.0 300.5 378.5 301.1 377.0 301.4 375.5 301.5 375.5 301.5 374.0 301.5 372.5 301.5 371.0 301.5 371.0 301.5 369.5 301.4 368.0 301.1 366.5 300.5 365.6 300.0 365.0 299.6 363.7 298.5 363.5 298.3 362.4 297.0 362.0 296.4 361.5 295.5 360.9 294.0 360.5 293.4 360.0 292.5 359.4 291.0 359.1 289.5 359.0 288.0 359.0 288.0 359.0 286.5 359.0 285.0 359.0 283.5 359.0 282.0 359.0 280.5 359.0 280.5 359.1 279.0 359.4 277.5 360.0 276.0 360.5 275.1 360.9 274.5 361.5 273.0 362.0 272.1 362.4 271.5 363.5 270.2 363.7 270.0 365.0 268.7 365.2 268.5 366.5 267.4 367.1 267.0 368.0 266.5 369.5 265.9 371.0 265.6ZM370.8 273.0 369.5 274.3 369.3 274.5 368.0 275.8 367.8 276.0 367.4 277.5 366.5 278.8 366.3 279.0 366.0 280.5 366.0 282.0 366.0 283.5 366.0 285.0 366.0 286.5 366.0 288.0 366.3 289.5 366.5 289.7 367.4 291.0 367.8 292.5 368.0 292.7 369.3 294.0 369.5 294.2 371.0 294.5 372.5 294.5 374.0 294.5 375.5 294.5 377.0 294.2 377.2 294.0 378.5 292.7 378.7 292.5 380.0 291.2 380.2 291.0 380.5 289.5 380.5 288.0 380.5 286.5 380.5 285.0 380.5 283.5 380.5 282.0 380.5 280.5 380.5 279.0 380.2 277.5 380.0 277.3 378.7 276.0 378.5 275.8 377.2 274.5 377.0 274.3 375.7 273.0 375.5 272.8 374.0 272.5 372.5 272.5 371.0 272.8Z"/>
<path fill="#0073ff" stroke="#0073ff" stroke-width="0.6" fill-rule="evenodd" d="M464.0 235.4 465.5 234.9 467.0 234.6 468.5 234.4 470.0 234.3 471.5 234.3 473.0 234.3 474.5 234.3 476.0 234.3 477.5 234.4 479.0 234.6 480.5 234.9 482.0 235.4 482.4 235.5 483.5 235.8 485.0 235.8 486.5 235.9 488.0 236.1 489.5 236.4 491.0 236.9 491.3 237.0 492.5 237.5 494.0 238.3 494.5 238.5 495.5 239.0 497.0 239.8 497.5 240.0 498.5 240.5 500.0 241.3 500.3 241.5 501.5 242.3 502.4 243.0 503.0 243.4 504.5 244.3 505.1 244.5 506.0 244.8 507.5 244.8 509.0 244.8 510.5 244.8 512.0 244.8 513.5 244.8 515.0 244.8 516.5 244.8 518.0 244.8 519.5 244.9 521.0 245.1 522.5 245.4 524.0 245.9 524.4 246.0 525.5 246.3 527.0 246.4 528.5 246.6 530.0 246.9 531.5 247.4 531.8 247.5 533.0 248.0 534.5 248.8 534.8 249.0 536.0 249.8 536.0 250.5 536.0 252.0 536.0 253.1 534.8 252.0 534.5 251.8 533.0 251.0 532.3 250.5 531.5 250.1 530.0 249.7 528.5 249.2 527.7 249.0 527.0 248.9 525.5 248.8 524.0 248.6 522.5 248.2 521.0 247.7 520.2 247.5 519.5 247.4 518.0 247.3 516.5 247.3 515.0 247.3 513.5 247.3 512.0 247.3 510.5 247.3 509.0 247.3 507.5 247.3 506.0 247.3 504.5 247.1 503.0 246.5 502.3 246.0 501.5 245.6 500.3 244.5 500.0 244.3 498.5 243.5 497.8 243.0 497.0 242.6 495.5 242.0 494.8 241.5 494.0 241.1 492.5 240.5 491.8 240.0 491.0 239.6 489.5 239.2 488.0 238.7 487.2 238.5 486.5 238.4 485.0 238.3 483.5 238.3 482.0 238.1 480.5 237.7 479.0 237.2 478.2 237.0 477.5 236.9 476.0 236.8 474.5 236.8 473.0 236.8 471.5 236.8 470.0 236.8 468.5 236.9 467.8 237.0 467.0 237.2 465.5 237.7 464.0 238.1 462.5 238.3 461.0 238.3 459.5 238.4 458.8 238.5 458.0 238.7 456.5 239.2 455.0 239.6 453.9 240.0 453.5 240.2 452.0 240.7 450.5 241.1 449.7 241.5 449.0 242.0 447.5 242.8 447.2 243.0 446.0 244.1 445.6 244.5 444.5 245.6 444.1 246.0 443.0 247.1 442.6 247.5 441.5 248.6 441.1 249.0 440.0 250.1 439.6 250.5 438.5 251.7 438.3 252.0 437.5 253.5 437.0 254.2 436.6 255.0 436.2 256.5 435.7 258.0 435.5 258.4 435.1 259.5 434.7 261.0 434.2 262.5 434.0 263.3 433.9 264.0 433.8 265.5 433.8 267.0 433.8 268.5 433.8 270.0 433.8 271.5 433.9 273.0 434.0 273.7 434.2 274.5 434.7 276.0 435.1 277.5 435.5 278.6 435.7 279.0 436.2 280.5 436.6 282.0 437.0 283.1 437.2 283.5 437.7 285.0 438.1 286.5 438.5 287.3 439.0 288.0 439.8 289.5 440.0 289.8 441.1 291.0 441.5 291.4 442.6 292.5 443.0 292.9 444.1 294.0 444.5 294.4 445.7 295.5 446.0 295.7 447.5 296.5 448.2 297.0 449.0 297.4 450.1 298.5 450.5 298.9 451.7 300.0 452.0 300.2 453.5 301.0 454.2 301.5 455.0 301.9 456.5 302.3 458.0 302.8 458.8 303.0 459.5 303.1 461.0 303.2 462.5 303.4 464.0 303.8 465.5 304.3 466.3 304.5 467.0 304.6 468.5 304.7 470.0 304.7 471.5 304.9 473.0 305.3 474.5 305.8 475.3 306.0 476.0 306.1 477.5 306.2 479.0 306.2 480.5 306.2 482.0 306.1 482.7 306.0 483.5 305.8 485.0 305.3 486.5 304.9 488.0 304.7 489.5 304.7 491.0 304.7 492.5 304.7 494.0 304.7 495.5 304.7 497.0 304.6 497.7 304.5 498.5 304.3 500.0 303.8 501.5 303.4 503.0 303.1 503.7 303.0 504.5 302.8 506.0 302.3 507.5 301.9 509.0 301.7 510.5 301.7 512.0 301.7 513.5 301.7 515.0 301.7 516.5 301.7 518.0 301.7 519.5 301.7 521.0 301.7 522.5 301.7 524.0 301.7 525.5 301.6 526.2 301.5 527.0 301.3 528.4 301.5 528.5 301.5 530.0 301.5 530.0 301.5 531.5 301.0 533.0 300.2 533.7 300.0 534.5 299.8 536.0 299.3 537.5 298.9 538.3 298.5 539.0 298.0 540.5 297.2 540.8 297.0 542.0 295.9 542.4 295.5 543.5 294.4 544.0 294.0 545.0 293.0 545.6 292.5 546.5 291.6 547.3 291.0 548.0 290.1 548.6 289.5 549.4 288.0 549.5 287.9 550.3 286.5 550.7 285.0 550.8 283.5 551.0 282.7 551.2 282.0 551.3 280.5 551.3 279.0 551.2 277.5 551.2 276.0 551.2 274.5 551.1 273.0 551.0 272.3 550.8 271.5 550.3 270.0 549.9 268.5 549.5 267.4 549.3 267.0 548.8 265.5 548.4 264.0 548.0 263.2 547.5 262.5 546.7 261.0 546.5 260.7 545.4 259.5 546.5 259.5 548.0 259.5 549.5 261.0 550.0 261.5 550.5 262.5 551.0 263.7 551.1 264.0 551.6 265.5 552.0 267.0 552.5 268.2 552.7 268.5 553.2 270.0 553.7 271.5 554.0 272.5 554.4 273.0 555.5 274.4 555.6 274.5 556.6 276.0 557.0 276.8 557.4 277.5 558.2 279.0 558.5 279.9 558.7 280.5 559.1 282.0 559.3 283.5 559.3 285.0 559.1 286.5 558.6 288.0 558.5 288.1 557.7 289.5 557.0 290.3 556.5 291.0 555.5 292.1 555.1 292.5 554.0 293.7 553.7 294.0 552.5 295.4 552.4 295.5 551.0 296.9 550.9 297.0 549.5 298.2 549.0 298.5 548.0 299.0 546.5 299.5 545.0 299.9 544.4 300.0 543.5 300.2 542.0 300.6 540.5 301.1 539.7 301.5 539.0 301.8 537.5 302.6 536.8 303.0 536.0 303.3 534.5 304.0 533.0 304.5 532.8 304.5 531.5 304.8 530.0 305.1 528.5 305.3 527.0 305.5 525.5 305.6 524.0 305.7 522.5 305.8 521.0 305.9 519.5 305.8 518.0 305.6 516.5 305.5 515.0 305.3 513.5 305.1 512.0 305.1 510.5 305.1 509.0 305.2 507.5 305.3 506.0 305.5 504.5 305.8 503.0 305.9 502.3 306.0 501.5 306.2 500.0 306.7 498.5 306.9 497.0 307.1 495.5 307.2 494.0 307.2 492.5 307.2 491.0 307.2 489.5 307.2 488.0 307.2 486.9 307.5 486.5 307.6 485.0 308.1 483.5 308.4 482.0 308.6 480.5 308.7 479.0 308.7 477.5 308.7 476.0 308.6 474.5 308.4 473.0 308.1 471.5 307.6 471.1 307.5 470.0 307.2 468.5 307.2 467.0 307.1 465.5 306.9 464.0 306.6 462.5 306.1 462.1 306.0 461.0 305.7 459.5 305.6 458.0 305.4 456.5 305.1 455.0 304.6 454.7 304.5 453.5 304.0 452.0 303.2 451.7 303.0 450.5 302.2 449.6 301.5 449.0 301.0 448.0 300.0 447.5 299.6 446.0 298.7 445.7 298.5 444.5 297.7 443.6 297.0 443.0 296.5 442.0 295.5 441.5 295.0 440.5 294.0 440.0 293.5 439.0 292.5 438.5 291.9 437.8 291.0 437.0 289.8 436.8 289.5 436.0 288.0 435.5 286.8 435.4 286.5 434.9 285.0 434.5 283.5 434.0 282.3 433.9 282.0 433.4 280.5 433.0 279.0 432.5 277.8 432.4 277.5 431.9 276.0 431.6 274.5 431.4 273.0 431.3 271.5 431.3 270.0 431.3 268.5 431.3 267.0 431.3 265.5 431.4 264.0 431.6 262.5 431.9 261.0 432.3 259.5 432.5 259.2 433.0 258.0 433.4 256.5 433.8 255.0 434.0 254.7 434.5 253.5 435.1 252.0 435.5 251.6 436.2 250.5 437.0 249.6 437.5 249.0 438.5 248.0 439.0 247.5 440.0 246.5 440.5 246.0 441.5 245.0 442.0 244.5 443.0 243.5 443.5 243.0 444.5 242.0 445.1 241.5 446.0 240.8 447.2 240.0 447.5 239.8 449.0 239.0 450.2 238.5 450.5 238.4 452.0 237.9 453.5 237.5 454.7 237.0 455.0 236.9 456.5 236.4 458.0 236.1 459.5 235.9 461.0 235.8 462.5 235.8 463.6 235.5ZM369.5 260.4 371.0 260.2 372.5 260.2 374.0 260.3 375.5 260.4 377.0 260.7 377.8 261.0 378.5 261.2 380.0 261.7 381.5 262.4 381.6 262.5 383.0 263.4 383.8 264.0 384.5 264.6 385.4 265.5 386.0 266.1 386.9 267.0 387.5 267.6 388.4 268.5 389.0 269.2 389.6 270.0 390.5 271.4 390.6 271.5 391.3 273.0 391.8 274.5 392.0 275.2 392.2 276.0 392.4 277.5 392.5 279.0 392.5 280.5 392.5 282.0 392.5 283.5 392.5 285.0 392.5 286.5 392.5 288.0 392.5 289.5 392.4 291.0 392.2 292.5 392.0 293.3 391.8 294.0 391.3 295.5 390.6 297.0 390.5 297.1 389.6 298.5 389.0 299.3 388.4 300.0 387.5 300.9 386.9 301.5 386.0 302.4 385.3 303.0 384.5 303.6 383.1 304.5 383.0 304.6 381.5 305.3 380.0 305.8 379.3 306.0 378.5 306.2 377.0 306.4 375.5 306.5 374.0 306.5 372.5 306.5 371.0 306.5 369.5 306.4 368.0 306.2 367.2 306.0 366.5 305.8 365.0 305.3 363.5 304.6 363.4 304.5 362.0 303.6 361.2 303.0 360.5 302.4 359.6 301.5 359.0 300.8 358.4 300.0 357.5 298.6 357.4 298.5 356.7 297.0 356.0 295.6 355.9 295.5 355.2 294.0 354.7 292.5 354.5 291.8 354.3 291.0 354.1 289.5 354.0 288.0 354.0 286.5 354.0 285.0 354.0 283.5 354.0 282.0 354.0 280.5 354.1 279.0 354.3 277.5 354.5 276.7 354.7 276.0 355.2 274.5 355.9 273.0 356.0 272.9 356.7 271.5 357.4 270.0 357.5 269.9 358.4 268.5 359.0 267.7 359.6 267.0 360.5 266.1 361.1 265.5 362.0 264.6 362.7 264.0 363.5 263.3 364.9 262.5 365.0 262.3 366.5 261.5 368.0 261.2 368.7 261.0ZM372.5 265.5 371.0 265.6 369.5 265.9 368.0 266.5 367.1 267.0 366.5 267.4 365.2 268.5 365.0 268.7 363.7 270.0 363.5 270.2 362.4 271.5 362.0 272.1 361.5 273.0 360.9 274.5 360.5 275.1 360.0 276.0 359.4 277.5 359.1 279.0 359.0 280.5 359.0 280.5 359.0 282.0 359.0 283.5 359.0 285.0 359.0 286.5 359.0 288.0 359.0 288.0 359.1 289.5 359.4 291.0 360.0 292.5 360.5 293.4 360.9 294.0 361.5 295.5 362.0 296.4 362.4 297.0 363.5 298.3 363.7 298.5 365.0 299.6 365.6 300.0 366.5 300.5 368.0 301.1 369.5 301.4 371.0 301.5 371.0 301.5 372.5 301.5 374.0 301.5 375.5 301.5 375.5 301.5 377.0 301.4 378.5 301.1 380.0 300.5 380.9 300.0 381.5 299.6 382.8 298.5 383.0 298.3 384.3 297.0 384.5 296.8 385.6 295.5 386.0 294.9 386.5 294.0 387.1 292.5 387.4 291.0 387.5 289.5 387.5 289.5 387.5 288.0 387.5 286.5 387.5 285.0 387.5 283.5 387.5 282.0 387.5 280.5 387.5 279.0 387.5 279.0 387.4 277.5 387.1 276.0 386.5 274.5 386.0 273.6 385.6 273.0 384.5 271.7 384.3 271.5 383.0 270.2 382.8 270.0 381.5 268.7 381.3 268.5 380.0 267.4 379.4 267.0 378.5 266.5 377.0 265.9 375.5 265.6 374.0 265.5 374.0 265.5Z"/>
<path fill="#00a4ff" stroke="#00a4ff" stroke-width="0.6" fill-rule="evenodd" d="M465.5 232.3 467.0 232.0 468.5 231.9 470.0 231.8 471.5 231.8 473.0 231.8 474.5 231.8 476.0 231.8 477.5 231.9 479.0 232.0 480.5 232.3 481.2 232.5 482.0 232.7 483.5 233.3 485.0 233.3 486.5 233.4 488.0 233.5 489.5 233.8 490.2 234.0 491.0 234.2 492.5 234.8 494.0 235.4 494.1 235.5 495.5 236.2 497.0 236.9 497.1 237.0 498.5 237.7 500.0 238.4 500.1 238.5 501.5 239.3 502.6 240.0 503.0 240.3 504.5 241.4 504.6 241.5 506.0 242.2 507.5 242.3 509.0 242.3 510.5 242.3 512.0 242.3 513.5 242.3 515.0 242.3 516.5 242.3 518.0 241.9 518.5 241.5 519.5 240.5 521.0 240.2 522.5 241.0 523.1 241.5 524.0 242.6 524.3 243.0 525.5 243.7 527.0 243.9 528.5 244.0 530.0 244.3 530.7 244.5 531.5 244.7 533.0 245.3 534.5 245.9 534.5 246.0 534.5 247.5 536.0 249.0 536.0 249.8 534.8 249.0 534.5 248.8 533.0 248.0 531.8 247.5 531.5 247.4 530.0 246.9 528.5 246.6 527.0 246.4 525.5 246.3 524.4 246.0 524.0 245.9 522.5 245.4 521.0 245.1 519.5 244.9 518.0 244.8 516.5 244.8 515.0 244.8 513.5 244.8 512.0 244.8 510.5 244.8 509.0 244.8 507.5 244.8 506.0 244.8 505.1 244.5 504.5 244.3 503.0 243.4 502.4 243.0 501.5 242.3 500.3 241.5 500.0 241.3 498.5 240.5 497.5 240.0 497.0 239.8 495.5 239.0 494.5 238.5 494.0 238.3 492.5 237.5 491.3 237.0 491.0 236.9 489.5 236.4 488.0 236.1 486.5 235.9 485.0 235.8 483.5 235.8 482.4 235.5 482.0 235.4 480.5 234.9 479.0 234.6 477.5 234.4 476.0 234.3 474.5 234.3 473.0 234.3 471.5 234.3 470.0 234.3 468.5 234.4 467.0 234.6 465.5 234.9 464.0 235.4 463.6 235.5 462.5 235.8 461.0 235.8 459.5 235.9 458.0 236.1 456.5 236.4 455.0 236.9 454.7 237.0 453.5 237.5 452.0 237.9 450.5 238.4 450.2 238.5 449.0 239.0 447.5 239.8 447.2 240.0 446.0 240.8 445.1 241.5 444.5 242.0 443.5 243.0 443.0 243.5 442.0 244.5 441.5 245.0 440.5 246.0 440.0 246.5 439.0 247.5 438.5 248.0 437.5 249.0 437.0 249.6 436.2 250.5 435.5 251.6 435.1 252.0 434.5 253.5 434.0 254.7 433.8 255.0 433.4 256.5 433.0 258.0 432.5 259.2 432.3 259.5 431.9 261.0 431.6 262.5 431.4 264.0 431.3 265.5 431.3 267.0 431.3 268.5 431.3 270.0 431.3 271.5 431.4 273.0 431.6 274.5 431.9 276.0 432.4 277.5 432.5 277.8 433.0 279.0 433.4 280.5 433.9 282.0 434.0 282.3 434.5 283.5 434.9 285.0 435.4 286.5 435.5 286.8 436.0 288.0 436.8 289.5 437.0 289.8 437.8 291.0 438.5 291.9 439.0 292.5 440.0 293.5 440.5 294.0 441.5 295.0 442.0 295.5 443.0 296.5 443.6 297.0 444.5 297.7 445.7 298.5 446.0 298.7 447.5 299.6 448.0 300.0 449.0 301.0 449.6 301.5 450.5 302.2 451.7 303.0 452.0 303.2 453.5 304.0 454.7 304.5 455.0 304.6 456.5 305.1 458.0 305.4 459.5 305.6 461.0 305.7 462.1 306.0 462.5 306.1 464.0 306.6 465.5 306.9 467.0 307.1 468.5 307.2 470.0 307.2 471.1 307.5 471.5 307.6 473.0 308.1 474.5 308.4 476.0 308.6 477.5 308.7 479.0 308.7 480.5 308.7 482.0 308.6 483.5 308.4 485.0 308.1 486.5 307.6 486.9 307.5 488.0 307.2 489.5 307.2 491.0 307.2 492.5 307.2 494.0 307.2 495.5 307.2 497.0 307.1 498.5 306.9 500.0 306.7 501.5 306.2 502.3 306.0 503.0 305.9 504.5 305.8 506.0 305.5 507.5 305.3 509.0 305.2 510.5 305.1 512.0 305.1 513.5 305.1 515.0 305.3 516.5 305.5 518.0 305.6 519.5 305.8 521.0 305.9 522.5 305.8 524.0 305.7 525.5 305.6 527.0 305.5 528.5 305.3 530.0 305.1 531.5 304.8 532.8 304.5 533.0 304.5 534.5 304.0 536.0 303.3 536.8 303.0 537.5 302.6 539.0 301.8 539.7 301.5 540.5 301.1 542.0 300.6 543.5 300.2 544.4 300.0 545.0 299.9 546.5 299.5 548.0 299.0 549.0 298.5 549.5 298.2 550.9 297.0 551.0 296.9 552.4 295.5 552.5 295.4 553.7 294.0 554.0 293.7 555.1 292.5 555.5 292.1 556.5 291.0 557.0 290.3 557.7 289.5 558.5 288.1 558.6 288.0 559.1 286.5 559.3 285.0 559.3 283.5 559.1 282.0 558.7 280.5 558.5 279.9 558.2 279.0 557.4 277.5 557.0 276.8 556.6 276.0 555.6 274.5 555.5 274.4 554.4 273.0 554.0 272.5 553.7 271.5 553.2 270.0 552.7 268.5 552.5 268.2 552.0 267.0 551.6 265.5 551.1 264.0 551.0 263.7 550.5 262.5 550.0 261.5 551.0 262.5 552.5 264.0 554.0 265.5 555.5 267.0 555.5 268.5 555.5 270.0 557.0 271.5 558.5 273.0 560.0 274.5 561.5 276.0 563.0 277.5 563.0 279.0 563.0 280.5 564.5 282.0 566.0 283.5 567.5 283.5 568.5 283.5 568.4 285.0 568.0 286.5 567.5 287.8 567.4 288.0 566.6 289.5 566.0 290.2 565.4 291.0 564.5 291.8 563.8 292.5 563.0 293.1 561.8 294.0 561.5 294.2 560.0 295.3 559.7 295.5 558.5 296.4 557.8 297.0 557.0 297.7 556.3 298.5 555.5 299.3 554.9 300.0 554.0 300.9 553.4 301.5 552.5 302.2 551.4 303.0 551.0 303.2 549.5 303.9 548.0 304.4 547.8 304.5 546.5 304.9 545.0 305.2 543.5 305.6 542.0 306.0 542.0 306.0 540.5 306.4 539.0 306.8 537.5 307.2 536.2 307.5 536.0 307.6 534.5 307.8 533.0 308.1 531.5 308.3 530.0 308.5 528.5 308.9 528.2 309.0 527.0 309.5 525.5 310.1 524.5 310.5 524.0 310.7 522.5 311.2 521.0 311.6 519.5 311.8 518.0 311.8 516.5 311.6 515.0 311.4 513.5 311.2 512.0 311.0 510.5 310.8 509.0 310.8 507.5 311.0 506.0 311.2 504.5 311.4 503.0 311.5 501.5 311.6 500.0 311.6 498.5 311.6 497.0 311.4 495.5 311.2 494.0 310.9 492.5 310.5 492.3 310.5 491.0 310.2 489.5 310.0 488.0 309.8 486.5 310.3 485.7 310.5 485.0 310.7 483.5 311.0 482.0 311.1 480.5 311.2 479.0 311.2 477.5 311.2 476.0 311.1 474.5 311.0 473.0 310.7 472.3 310.5 471.5 310.3 470.0 309.7 468.5 309.7 467.0 309.6 465.5 309.5 464.0 309.2 463.3 309.0 462.5 308.8 461.0 308.2 459.5 308.1 458.0 308.0 456.5 307.7 455.8 307.5 455.0 307.3 453.5 306.7 452.0 306.1 451.9 306.0 450.5 305.2 449.4 304.5 449.0 304.2 447.5 303.0 447.5 303.0 446.0 301.6 445.9 301.5 444.5 300.7 443.4 300.0 443.0 299.7 441.5 298.5 441.5 298.5 440.0 297.0 440.0 297.0 438.5 295.5 438.5 295.5 437.0 294.0 437.0 294.0 435.8 292.5 435.5 292.1 434.8 291.0 434.0 289.6 433.9 289.5 433.3 288.0 432.7 286.5 432.5 285.7 432.3 285.0 431.8 283.5 431.2 282.0 431.0 281.2 430.8 280.5 430.3 279.0 429.7 277.5 429.5 276.7 428.0 276.2 426.5 276.3 425.0 276.5 423.5 276.9 422.0 277.3 421.4 277.5 420.5 277.7 419.0 277.8 417.5 277.7 416.0 277.5 415.8 277.5 414.5 277.3 413.0 277.1 411.5 277.0 410.0 276.8 408.5 276.8 407.0 276.7 405.5 276.6 404.0 276.5 402.5 276.3 401.0 276.1 400.1 276.0 399.5 275.9 398.0 275.7 396.5 275.7 396.0 276.0 395.5 277.5 395.5 279.0 395.5 280.5 395.5 282.0 395.5 283.5 395.5 285.0 395.5 286.5 395.5 288.0 395.5 289.5 395.4 291.0 395.3 292.5 395.0 293.7 394.9 294.0 394.5 295.5 393.9 297.0 393.5 297.8 393.2 298.5 392.2 300.0 392.0 300.3 391.1 301.5 390.5 302.1 389.6 303.0 389.0 303.6 388.1 304.5 387.5 305.1 386.3 306.0 386.0 306.2 384.5 307.2 383.8 307.5 383.0 307.9 381.5 308.5 380.0 308.9 379.7 309.0 378.5 309.3 377.0 309.4 375.5 309.5 374.0 309.5 372.5 309.5 371.0 309.5 369.5 309.4 368.0 309.3 366.8 309.0 366.5 308.9 366.0 309.0 365.0 309.3 363.5 309.7 362.0 309.8 360.5 309.7 359.0 309.2 358.7 309.0 357.5 307.9 357.2 307.5 356.3 306.0 356.0 305.3 355.7 304.5 355.2 303.0 354.8 301.5 354.5 300.7 354.3 300.0 353.6 298.5 353.0 297.2 352.9 297.0 352.0 295.5 351.5 294.6 351.2 294.0 350.3 292.5 350.0 291.9 349.6 291.0 349.1 289.5 348.9 288.0 348.9 286.5 349.1 285.0 349.3 283.5 349.5 282.0 349.7 280.5 349.9 279.0 350.0 277.5 350.0 277.5 350.1 276.0 350.1 274.5 350.0 273.2 350.0 273.0 349.8 271.5 349.6 270.0 349.3 268.5 348.9 267.0 348.8 265.5 349.0 264.0 349.6 262.5 350.0 261.6 350.3 261.0 350.9 259.5 351.4 258.0 351.5 257.6 351.8 256.5 352.0 255.0 352.2 253.5 352.4 252.0 352.5 250.5 352.8 249.0 353.0 247.8 353.1 247.5 353.5 246.0 354.0 244.5 354.5 243.4 354.7 243.0 355.7 241.5 356.0 241.1 357.1 240.0 357.5 239.7 359.0 238.9 359.8 238.5 360.5 238.3 362.0 238.1 363.5 238.2 364.9 238.5 365.0 238.5 366.5 239.1 368.0 239.7 368.6 240.0 369.5 240.4 371.0 241.0 372.5 241.4 373.6 241.5 374.0 241.5 374.6 241.5 375.5 241.5 377.0 241.1 378.5 240.6 379.7 240.0 380.0 239.9 381.5 239.1 382.6 238.5 383.0 238.3 384.5 237.7 386.0 237.3 387.4 237.0 387.5 237.0 389.0 236.8 390.5 236.9 391.5 237.0 392.0 237.1 393.5 237.5 395.0 238.1 395.6 238.5 396.5 239.0 397.7 240.0 398.0 240.3 399.2 241.5 399.5 242.1 400.1 243.0 400.5 244.5 400.5 246.0 400.2 247.5 399.8 249.0 399.5 250.4 399.5 250.5 399.3 252.0 399.3 253.5 399.5 254.1 399.8 255.0 400.7 256.5 401.0 256.8 402.3 258.0 402.5 258.1 404.0 259.0 405.0 259.5 405.5 259.7 407.0 260.3 408.5 260.6 410.0 260.9 411.3 261.0 411.5 261.0 413.0 261.0 413.4 261.0 414.5 260.9 416.0 260.7 417.5 260.4 419.0 260.0 420.5 259.5 420.5 259.5 422.0 258.7 423.1 258.0 423.5 257.6 424.6 256.5 425.0 255.9 425.5 255.0 426.2 253.5 426.5 252.7 426.8 252.0 427.4 250.5 428.0 249.3 428.2 249.0 429.3 247.5 429.5 247.3 430.9 246.0 431.0 245.9 432.5 245.0 433.5 244.5 434.0 244.3 435.5 243.9 437.0 243.6 438.5 243.4 440.0 243.0 440.0 243.0 441.5 241.5 441.5 241.5 443.0 240.0 443.0 240.0 444.5 238.8 444.9 238.5 446.0 237.8 447.4 237.0 447.5 236.9 449.0 236.3 450.5 235.7 451.3 235.5 452.0 235.3 453.5 234.8 455.0 234.2 455.8 234.0 456.5 233.8 458.0 233.5 459.5 233.4 461.0 233.3 462.5 233.3 464.0 232.7 464.8 232.5ZM368.7 261.0 368.0 261.2 366.5 261.5 365.0 262.3 364.9 262.5 363.5 263.3 362.7 264.0 362.0 264.6 361.1 265.5 360.5 266.1 359.6 267.0 359.0 267.7 358.4 268.5 357.5 269.9 357.4 270.0 356.7 271.5 356.0 272.9 355.9 273.0 355.2 274.5 354.7 276.0 354.5 276.7 354.3 277.5 354.1 279.0 354.0 280.5 354.0 282.0 354.0 283.5 354.0 285.0 354.0 286.5 354.0 288.0 354.1 289.5 354.3 291.0 354.5 291.8 354.7 292.5 355.2 294.0 355.9 295.5 356.0 295.6 356.7 297.0 357.4 298.5 357.5 298.6 358.4 300.0 359.0 300.8 359.6 301.5 360.5 302.4 361.2 303.0 362.0 303.6 363.4 304.5 363.5 304.6 365.0 305.3 366.5 305.8 367.2 306.0 368.0 306.2 369.5 306.4 371.0 306.5 372.5 306.5 374.0 306.5 375.5 306.5 377.0 306.4 378.5 306.2 379.3 306.0 380.0 305.8 381.5 305.3 383.0 304.6 383.1 304.5 384.5 303.6 385.3 303.0 386.0 302.4 386.9 301.5 387.5 300.9 388.4 300.0 389.0 299.3 389.6 298.5 390.5 297.1 390.6 297.0 391.3 295.5 391.8 294.0 392.0 293.3 392.2 292.5 392.4 291.0 392.5 289.5 392.5 288.0 392.5 286.5 392.5 285.0 392.5 283.5 392.5 282.0 392.5 280.5 392.5 279.0 392.4 277.5 392.2 276.0 392.0 275.2 391.8 274.5 391.3 273.0 390.6 271.5 390.5 271.4 389.6 270.0 389.0 269.2 388.4 268.5 387.5 267.6 386.9 267.0 386.0 266.1 385.4 265.5 384.5 264.6 383.8 264.0 383.0 263.4 381.6 262.5 381.5 262.4 380.0 261.7 378.5 261.2 377.8 261.0 377.0 260.7 375.5 260.4 374.0 260.3 372.5 260.2 371.0 260.2 369.5 260.4ZM311.0 291.9 312.5 291.6 314.0 291.5 315.5 291.7 317.0 292.3 317.5 292.5 318.5 293.2 319.3 294.0 320.0 295.1 320.2 295.5 320.7 297.0 320.9 298.5 320.8 300.0 320.3 301.5 320.0 302.1 319.3 303.0 318.5 303.6 317.0 304.4 316.5 304.5 315.5 304.7 314.0 304.8 312.5 304.7 311.3 304.5 311.0 304.4 309.5 303.7 308.5 303.0 308.0 302.5 307.2 301.5 306.5 300.0 306.5 299.9 306.3 298.5 306.4 297.0 306.5 296.7 306.9 295.5 307.9 294.0 308.0 293.9 309.5 292.6 309.7 292.5Z"/>
<path fill="#00d4ff" stroke="#00d4ff" stroke-width="0.6" fill-rule="evenodd" d="M468.5 229.4 470.0 229.3 471.5 229.3 473.0 229.3 474.5 229.3 476.0 229.3 477.5 229.4 478.8 229.5 479.0 229.5 480.5 229.8 482.0 230.1 483.5 230.6 485.0 230.8 486.5 230.9 487.8 231.0 488.0 231.0 489.5 231.3 491.0 231.6 492.5 232.1 493.6 232.5 494.0 232.7 495.5 233.4 496.6 234.0 497.0 234.2 498.5 234.9 499.6 235.5 500.0 235.7 501.5 236.4 502.6 237.0 503.0 237.3 504.5 238.3 504.8 238.5 506.0 239.4 507.5 239.8 509.0 239.8 510.5 239.8 512.0 239.8 513.5 239.8 515.0 239.8 516.5 239.6 517.6 238.5 518.0 238.2 519.5 237.5 521.0 237.2 522.5 237.4 524.0 238.0 524.7 238.5 525.5 239.1 526.4 240.0 527.0 240.7 528.4 241.5 528.5 241.5 530.0 241.8 531.5 242.1 533.0 242.6 534.1 243.0 534.5 243.2 534.5 244.5 534.5 245.9 533.0 245.3 531.5 244.7 530.7 244.5 530.0 244.3 528.5 244.0 527.0 243.9 525.5 243.7 524.3 243.0 524.0 242.6 523.1 241.5 522.5 241.0 521.0 240.2 519.5 240.5 518.5 241.5 518.0 241.9 516.5 242.3 515.0 242.3 513.5 242.3 512.0 242.3 510.5 242.3 509.0 242.3 507.5 242.3 506.0 242.2 504.6 241.5 504.5 241.4 503.0 240.3 502.6 240.0 501.5 239.3 500.1 238.5 500.0 238.4 498.5 237.7 497.1 237.0 497.0 236.9 495.5 236.2 494.1 235.5 494.0 235.4 492.5 234.8 491.0 234.2 490.2 234.0 489.5 233.8 488.0 233.5 486.5 233.4 485.0 233.3 483.5 233.3 482.0 232.7 481.2 232.5 480.5 232.3 479.0 232.0 477.5 231.9 476.0 231.8 474.5 231.8 473.0 231.8 471.5 231.8 470.0 231.8 468.5 231.9 467.0 232.0 465.5 232.3 464.8 232.5 464.0 232.7 462.5 233.3 461.0 233.3 459.5 233.4 458.0 233.5 456.5 233.8 455.8 234.0 455.0 234.2 453.5 234.8 452.0 235.3 451.3 235.5 450.5 235.7 449.0 236.3 447.5 236.9 447.4 237.0 446.0 237.8 444.9 238.5 444.5 238.8 443.0 240.0 443.0 240.0 441.5 241.5 441.5 241.5 440.0 243.0 440.0 243.0 438.5 243.4 437.0 243.6 435.5 243.9 434.0 244.3 433.5 244.5 432.5 245.0 431.0 245.9 430.9 246.0 429.5 247.3 429.3 247.5 428.2 249.0 428.0 249.3 427.4 250.5 426.8 252.0 426.5 252.7 426.2 253.5 425.5 255.0 425.0 255.9 424.6 256.5 423.5 257.6 423.1 258.0 422.0 258.7 420.5 259.5 420.5 259.5 419.0 260.0 417.5 260.4 416.0 260.7 414.5 260.9 413.4 261.0 413.0 261.0 411.5 261.0 411.3 261.0 410.0 260.9 408.5 260.6 407.0 260.3 405.5 259.7 405.0 259.5 404.0 259.0 402.5 258.1 402.3 258.0 401.0 256.8 400.7 256.5 399.8 255.0 399.5 254.1 399.3 253.5 399.3 252.0 399.5 250.5 399.5 250.4 399.8 249.0 400.2 247.5 400.5 246.0 400.5 244.5 400.1 243.0 399.5 242.1 399.2 241.5 398.0 240.3 397.7 240.0 396.5 239.0 395.6 238.5 395.0 238.1 393.5 237.5 392.0 237.1 391.5 237.0 390.5 236.9 389.0 236.8 387.5 237.0 387.4 237.0 386.0 237.3 384.5 237.7 383.0 238.3 382.6 238.5 381.5 239.1 380.0 239.9 379.7 240.0 378.5 240.6 377.0 241.1 375.5 241.5 374.6 241.5 374.0 241.5 373.6 241.5 372.5 241.4 371.0 241.0 369.5 240.4 368.6 240.0 368.0 239.7 366.5 239.1 365.0 238.5 364.9 238.5 363.5 238.2 362.0 238.1 360.5 238.3 359.8 238.5 359.0 238.9 357.5 239.7 357.1 240.0 356.0 241.1 355.7 241.5 354.7 243.0 354.5 243.4 354.0 244.5 353.5 246.0 353.1 247.5 353.0 247.8 352.8 249.0 352.5 250.5 352.4 252.0 352.2 253.5 352.0 255.0 351.8 256.5 351.5 257.6 351.4 258.0 350.9 259.5 350.3 261.0 350.0 261.6 349.6 262.5 349.0 264.0 348.8 265.5 348.9 267.0 349.3 268.5 349.6 270.0 349.8 271.5 350.0 273.0 350.0 273.2 350.1 274.5 350.1 276.0 350.0 277.5 350.0 277.5 349.9 279.0 349.7 280.5 349.5 282.0 349.3 283.5 349.1 285.0 348.9 286.5 348.9 288.0 349.1 289.5 349.6 291.0 350.0 291.9 350.3 292.5 351.2 294.0 351.5 294.6 352.0 295.5 352.9 297.0 353.0 297.2 353.6 298.5 354.3 300.0 354.5 300.7 354.8 301.5 355.2 303.0 355.7 304.5 356.0 305.3 356.3 306.0 357.2 307.5 357.5 307.9 358.7 309.0 359.0 309.2 360.5 309.7 362.0 309.8 363.5 309.7 365.0 309.3 366.0 309.0 366.5 308.9 366.8 309.0 368.0 309.3 369.5 309.4 371.0 309.5 372.5 309.5 374.0 309.5 375.5 309.5 377.0 309.4 378.5 309.3 379.7 309.0 380.0 308.9 381.5 308.5 383.0 307.9 383.8 307.5 384.5 307.2 386.0 306.2 386.3 306.0 387.5 305.1 388.1 304.5 389.0 303.6 389.6 303.0 390.5 302.1 391.1 301.5 392.0 300.3 392.2 300.0 393.2 298.5 393.5 297.8 393.9 297.0 394.5 295.5 394.9 294.0 395.0 293.7 395.3 292.5 395.4 291.0 395.5 289.5 395.5 288.0 395.5 286.5 395.5 285.0 395.5 283.5 395.5 282.0 395.5 280.5 395.5 279.0 395.5 277.5 396.0 276.0 396.5 275.7 398.0 275.7 399.5 275.9 400.1 276.0 401.0 276.1 402.5 276.3 404.0 276.5 405.5 276.6 407.0 276.7 408.5 276.8 410.0 276.8 411.5 277.0 413.0 277.1 414.5 277.3 415.8 277.5 416.0 277.5 417.5 277.7 419.0 277.8 420.5 277.7 421.4 277.5 422.0 277.3 423.5 276.9 425.0 276.5 426.5 276.3 428.0 276.2 429.5 276.7 429.7 277.5 430.3 279.0 430.8 280.5 431.0 281.2 431.2 282.0 431.8 283.5 432.3 285.0 432.5 285.7 432.7 286.5 433.3 288.0 433.9 289.5 434.0 289.6 434.8 291.0 435.5 292.1 435.8 292.5 437.0 294.0 437.0 294.0 438.5 295.5 438.5 295.5 440.0 297.0 440.0 297.0 441.5 298.5 441.5 298.5 443.0 299.7 443.4 300.0 444.5 300.7 445.9 301.5 446.0 301.6 447.5 303.0 447.5 303.0 449.0 304.2 449.4 304.5 450.5 305.2 451.9 306.0 452.0 306.1 453.5 306.7 455.0 307.3 455.8 307.5 456.5 307.7 458.0 308.0 459.5 308.1 461.0 308.2 462.5 308.8 463.3 309.0 464.0 309.2 465.5 309.5 467.0 309.6 468.5 309.7 470.0 309.7 471.5 310.3 472.3 310.5 473.0 310.7 474.5 311.0 476.0 311.1 477.5 311.2 479.0 311.2 480.5 311.2 482.0 311.1 483.5 311.0 485.0 310.7 485.7 310.5 486.5 310.3 488.0 309.8 489.5 310.0 491.0 310.2 492.3 310.5 492.5 310.5 494.0 310.9 495.5 311.2 497.0 311.4 498.5 311.6 500.0 311.6 501.5 311.6 503.0 311.5 504.5 311.4 506.0 311.2 507.5 311.0 509.0 310.8 510.5 310.8 512.0 311.0 513.5 311.2 515.0 311.4 516.5 311.6 518.0 311.8 519.5 311.8 521.0 311.6 522.5 311.2 524.0 310.7 524.5 310.5 525.5 310.1 527.0 309.5 528.2 309.0 528.5 308.9 530.0 308.5 531.5 308.3 533.0 308.1 534.5 307.8 536.0 307.6 536.2 307.5 537.5 307.2 539.0 306.8 540.5 306.4 542.0 306.0 542.0 306.0 543.5 305.6 545.0 305.2 546.5 304.9 547.8 304.5 548.0 304.4 549.5 303.9 551.0 303.2 551.4 303.0 552.5 302.2 553.4 301.5 554.0 300.9 554.9 300.0 555.5 299.3 556.3 298.5 557.0 297.7 557.8 297.0 558.5 296.4 559.7 295.5 560.0 295.3 561.5 294.2 561.8 294.0 563.0 293.1 563.8 292.5 564.5 291.8 565.4 291.0 566.0 290.2 566.6 289.5 567.4 288.0 567.5 287.8 568.0 286.5 568.4 285.0 568.5 283.5 569.0 283.5 570.5 285.0 572.0 285.0 573.5 285.0 575.0 285.0 576.5 285.0 578.0 285.0 578.1 285.1 578.0 286.1 577.9 286.5 577.5 288.0 576.9 289.5 576.5 290.4 576.2 291.0 575.1 292.5 575.0 292.6 573.7 294.0 573.5 294.2 572.0 295.4 571.9 295.5 570.5 296.5 569.8 297.0 569.0 297.5 567.5 298.4 567.3 298.5 566.0 299.2 564.5 299.9 564.3 300.0 563.0 300.6 561.5 301.3 561.2 301.5 560.0 302.5 559.5 303.0 558.5 303.8 557.8 304.5 557.0 305.1 555.6 306.0 555.5 306.0 554.0 306.8 552.6 307.5 552.5 307.5 551.0 308.1 549.5 308.6 548.2 309.0 548.0 309.1 546.5 309.5 545.0 309.9 543.5 310.3 542.7 310.5 542.0 310.7 540.5 311.1 539.0 311.4 537.5 311.8 536.4 312.0 536.0 312.1 534.5 312.4 533.0 312.7 531.5 313.1 530.5 313.5 530.0 313.7 528.5 314.4 527.0 315.0 527.0 315.0 525.5 315.5 524.0 315.8 522.5 316.0 521.0 316.2 519.5 316.4 518.0 316.5 517.1 316.5 516.5 316.5 515.0 316.6 513.5 316.7 512.0 316.8 510.5 317.0 509.0 317.2 507.5 317.3 506.0 317.4 504.5 317.5 503.0 317.6 501.5 317.7 500.0 317.7 498.5 317.6 497.0 317.4 495.5 317.2 494.0 316.9 492.7 316.5 492.5 316.4 491.0 316.0 489.5 315.5 488.2 315.0 488.0 314.9 486.5 314.4 485.0 313.9 483.5 313.5 482.0 313.7 480.5 313.7 479.0 313.7 477.5 313.7 476.0 313.7 474.7 313.5 474.5 313.5 473.0 313.2 471.5 312.9 470.0 312.4 468.5 312.2 467.0 312.1 465.7 312.0 465.5 312.0 464.0 311.7 462.5 311.4 461.0 310.9 459.5 310.6 458.2 310.5 458.0 310.5 456.5 310.2 455.0 309.9 453.5 309.4 452.4 309.0 452.0 308.8 450.5 308.1 449.4 307.5 449.0 307.2 447.5 306.2 447.2 306.0 446.0 305.0 445.4 304.5 444.5 303.7 443.4 303.0 443.0 302.7 441.5 301.7 441.2 301.5 440.0 300.5 439.4 300.0 438.5 299.1 437.9 298.5 437.0 297.6 436.4 297.0 435.5 296.1 435.0 295.5 434.0 294.3 433.8 294.0 432.8 292.5 432.5 292.1 431.9 291.0 431.2 289.5 431.0 289.1 430.6 288.0 430.1 286.5 429.7 285.0 429.5 284.6 429.1 283.5 428.6 282.0 428.0 281.0 426.5 280.8 425.0 280.9 423.5 281.0 422.0 281.1 420.5 281.3 419.0 281.4 417.5 281.5 416.0 281.6 414.5 281.8 413.1 282.0 413.0 282.0 411.5 282.3 410.0 282.6 408.5 282.9 407.0 283.2 405.5 283.4 404.8 283.5 404.0 283.6 402.5 283.9 401.0 284.2 399.5 284.9 399.5 285.0 398.9 286.5 398.6 288.0 398.5 289.5 398.4 291.0 398.3 292.5 398.0 294.0 398.0 294.1 397.6 295.5 397.1 297.0 396.5 298.5 396.5 298.6 395.8 300.0 395.0 301.2 394.8 301.5 393.7 303.0 393.5 303.3 392.4 304.5 392.0 304.9 390.9 306.0 390.5 306.4 389.3 307.5 389.0 307.7 387.5 308.8 387.2 309.0 386.0 309.8 384.6 310.5 384.5 310.5 383.0 311.1 381.5 311.6 380.1 312.0 380.0 312.0 380.0 312.0 378.5 310.5 377.0 310.5 375.5 310.5 374.0 310.5 372.5 310.5 371.0 310.5 369.5 310.5 368.0 312.0 366.5 313.5 366.5 315.0 365.0 316.5 365.0 317.7 364.2 318.0 363.5 318.2 362.0 318.6 360.5 318.8 359.0 319.0 357.5 319.0 356.0 318.9 354.5 318.8 353.0 318.5 351.5 318.2 350.9 318.0 350.0 317.7 348.5 317.2 347.0 316.7 346.6 316.5 345.5 316.0 344.0 315.3 343.4 315.0 342.5 314.4 341.0 313.5 341.0 313.5 339.5 312.3 339.2 312.0 338.2 310.5 338.0 309.5 337.9 309.0 338.0 308.7 338.4 307.5 339.5 306.2 339.6 306.0 341.0 304.5 341.0 304.5 342.1 303.0 342.5 302.3 342.9 301.5 343.2 300.0 343.3 298.5 343.1 297.0 342.8 295.5 342.6 294.0 342.5 293.6 342.3 292.5 342.2 291.0 342.1 289.5 342.1 288.0 342.2 286.5 342.4 285.0 342.5 284.4 342.6 283.5 342.9 282.0 343.3 280.5 343.6 279.0 343.8 277.5 344.0 276.5 344.1 276.0 344.2 274.5 344.2 273.0 344.1 271.5 344.0 271.0 343.8 270.0 343.5 268.5 343.1 267.0 342.9 265.5 342.9 264.0 343.3 262.5 343.9 261.0 344.0 260.7 344.6 259.5 345.3 258.0 345.5 257.7 346.1 256.5 346.7 255.0 347.0 254.0 347.2 253.5 347.6 252.0 347.9 250.5 348.2 249.0 348.5 247.5 348.5 247.5 348.9 246.0 349.3 244.5 349.7 243.0 350.0 242.3 350.3 241.5 351.2 240.0 351.5 239.5 352.3 238.5 353.0 237.9 354.1 237.0 354.5 236.8 356.0 236.1 357.5 235.6 357.8 235.5 359.0 235.3 360.5 235.0 362.0 234.9 363.5 235.0 365.0 235.1 366.5 235.3 367.4 235.5 368.0 235.6 369.5 235.9 371.0 236.2 372.5 236.5 374.0 236.6 375.5 236.5 377.0 236.3 378.5 236.0 380.0 235.6 380.2 235.5 381.5 235.1 383.0 234.5 384.2 234.0 384.5 233.9 386.0 233.3 387.5 232.8 388.7 232.5 389.0 232.4 390.5 232.2 392.0 232.1 393.5 232.1 395.0 232.3 396.2 232.5 396.5 232.6 398.0 232.9 399.5 233.3 401.0 233.6 402.5 233.8 404.0 233.9 405.5 234.0 405.7 234.0 407.0 234.2 408.5 234.6 409.9 235.5 410.0 235.6 411.5 236.9 411.6 237.0 413.0 238.4 413.1 238.5 414.5 239.8 414.8 240.0 416.0 240.9 417.2 241.5 417.5 241.7 419.0 242.1 420.5 242.2 422.0 242.0 423.5 241.5 423.6 241.5 425.0 241.0 426.5 240.4 427.6 240.0 428.0 239.8 429.5 239.3 431.0 238.8 432.0 238.5 432.5 238.4 434.0 238.0 435.5 237.8 437.0 237.7 438.5 237.7 440.0 237.8 441.5 237.8 442.6 237.0 443.0 236.8 444.5 235.8 444.9 235.5 446.0 234.9 447.5 234.2 447.9 234.0 449.0 233.6 450.5 233.1 452.0 232.7 452.4 232.5 453.5 232.1 455.0 231.6 456.5 231.3 458.0 231.0 458.2 231.0 459.5 230.9 461.0 230.8 462.5 230.6 464.0 230.1 465.5 229.8 467.0 229.5 467.2 229.5ZM308.0 286.2 309.5 286.0 311.0 285.8 312.5 285.8 314.0 285.8 315.5 285.9 317.0 286.0 318.5 286.3 319.3 286.5 320.0 286.7 321.5 287.4 322.5 288.0 323.0 288.4 324.2 289.5 324.5 289.8 325.3 291.0 326.0 292.3 326.1 292.5 326.6 294.0 327.0 295.5 327.3 297.0 327.5 297.9 327.6 298.5 327.9 300.0 328.3 301.5 328.6 303.0 328.7 304.5 328.5 306.0 327.5 307.4 327.4 307.5 326.0 308.5 325.0 309.0 324.5 309.2 323.0 309.6 321.5 309.9 320.0 310.1 318.5 310.3 317.0 310.3 315.5 310.4 314.0 310.4 312.5 310.5 311.6 310.5 311.0 310.5 309.5 310.6 308.0 310.7 306.5 310.7 305.0 310.7 303.5 310.8 302.0 310.7 300.5 310.6 300.4 310.5 299.0 309.3 298.8 309.0 298.7 307.5 298.8 306.0 299.0 304.5 299.0 304.4 299.2 303.0 299.3 301.5 299.4 300.0 299.5 298.5 299.6 297.0 299.8 295.5 299.9 294.0 300.1 292.5 300.5 291.0 300.5 291.0 301.5 289.5 302.0 289.0 303.3 288.0 303.5 287.9 305.0 287.2 306.5 286.6 306.9 286.5ZM309.7 292.5 309.5 292.6 308.0 293.9 307.9 294.0 306.9 295.5 306.5 296.7 306.4 297.0 306.3 298.5 306.5 299.9 306.5 300.0 307.2 301.5 308.0 302.5 308.5 303.0 309.5 303.7 311.0 304.4 311.3 304.5 312.5 304.7 314.0 304.8 315.5 304.7 316.5 304.5 317.0 304.4 318.5 303.6 319.3 303.0 320.0 302.1 320.3 301.5 320.8 300.0 320.9 298.5 320.7 297.0 320.2 295.5 320.0 295.1 319.3 294.0 318.5 293.2 317.5 292.5 317.0 292.3 315.5 291.7 314.0 291.5 312.5 291.6 311.0 291.9Z"/>
<path fill="#06fff9" stroke="#06fff9" stroke-width="0.6" fill-rule="evenodd" d="M390.5 227.7 392.0 227.6 393.5 227.5 395.0 227.4 396.5 227.4 398.0 227.4 399.5 227.4 401.0 227.4 402.5 227.4 404.0 227.3 405.5 227.2 407.0 227.1 408.5 227.1 410.0 227.3 411.5 227.7 412.2 228.0 413.0 228.4 414.5 229.5 414.5 229.5 416.0 231.0 416.0 231.0 417.5 232.4 417.7 232.5 419.0 233.4 420.5 233.9 421.1 234.0 422.0 234.1 423.5 234.1 424.0 234.0 425.0 233.9 426.5 233.6 428.0 233.3 429.5 233.0 431.0 232.7 432.5 232.5 432.9 232.5 434.0 232.4 435.5 232.3 437.0 232.2 438.5 232.2 440.0 232.3 441.5 232.5 441.5 232.5 443.0 232.8 444.5 232.8 445.2 232.5 446.0 232.1 447.5 231.5 448.9 231.0 449.0 231.0 450.5 230.5 452.0 230.0 453.4 229.5 453.5 229.5 455.0 229.0 456.5 228.7 458.0 228.5 459.5 228.4 461.0 228.3 462.3 228.0 462.5 228.0 464.0 227.5 465.5 227.2 467.0 227.0 468.5 226.9 470.0 226.8 471.5 226.8 473.0 226.8 474.5 226.8 476.0 226.8 477.5 226.9 479.0 227.0 480.5 227.2 482.0 227.5 483.5 228.0 483.7 228.0 485.0 228.3 486.5 228.4 488.0 228.5 489.5 228.7 491.0 229.0 492.5 229.5 492.6 229.5 494.0 230.0 495.5 230.6 496.3 231.0 497.0 231.4 498.5 232.1 499.3 232.5 500.0 232.9 501.5 233.6 502.3 234.0 503.0 234.4 504.5 235.2 504.9 235.5 506.0 236.3 507.0 237.0 507.5 237.3 509.0 237.3 510.5 237.3 512.0 237.3 513.5 237.3 515.0 237.3 515.7 237.0 516.5 236.7 518.0 235.7 518.4 235.5 519.5 235.1 521.0 234.7 522.5 234.7 524.0 235.0 525.3 235.5 525.5 235.6 527.0 236.5 527.7 237.0 528.5 237.8 529.3 238.5 530.0 239.0 531.5 239.5 533.0 240.0 533.1 240.0 534.5 240.5 534.5 241.5 534.5 243.0 534.5 243.2 534.1 243.0 533.0 242.6 531.5 242.1 530.0 241.8 528.5 241.5 528.4 241.5 527.0 240.7 526.4 240.0 525.5 239.1 524.7 238.5 524.0 238.0 522.5 237.4 521.0 237.2 519.5 237.5 518.0 238.2 517.6 238.5 516.5 239.6 515.0 239.8 513.5 239.8 512.0 239.8 510.5 239.8 509.0 239.8 507.5 239.8 506.0 239.4 504.8 238.5 504.5 238.3 503.0 237.3 502.6 237.0 501.5 236.4 500.0 235.7 499.6 235.5 498.5 234.9 497.0 234.2 496.6 234.0 495.5 233.4 494.0 232.7 493.6 232.5 492.5 232.1 491.0 231.6 489.5 231.3 488.0 231.0 487.8 231.0 486.5 230.9 485.0 230.8 483.5 230.6 482.0 230.1 480.5 229.8 479.0 229.5 478.8 229.5 477.5 229.4 476.0 229.3 474.5 229.3 473.0 229.3 471.5 229.3 470.0 229.3 468.5 229.4 467.2 229.5 467.0 229.5 465.5 229.8 464.0 230.1 462.5 230.6 461.0 230.8 459.5 230.9 458.2 231.0 458.0 231.0 456.5 231.3 455.0 231.6 453.5 232.1 452.4 232.5 452.0 232.7 450.5 233.1 449.0 233.6 447.9 234.0 447.5 234.2 446.0 234.9 444.9 235.5 444.5 235.8 443.0 236.8 442.6 237.0 441.5 237.8 440.0 237.8 438.5 237.7 437.0 237.7 435.5 237.8 434.0 238.0 432.5 238.4 432.0 238.5 431.0 238.8 429.5 239.3 428.0 239.8 427.6 240.0 426.5 240.4 425.0 241.0 423.6 241.5 423.5 241.5 422.0 242.0 420.5 242.2 419.0 242.1 417.5 241.7 417.2 241.5 416.0 240.9 414.8 240.0 414.5 239.8 413.1 238.5 413.0 238.4 411.6 237.0 411.5 236.9 410.0 235.6 409.9 235.5 408.5 234.6 407.0 234.2 405.7 234.0 405.5 234.0 404.0 233.9 402.5 233.8 401.0 233.6 399.5 233.3 398.0 232.9 396.5 232.6 396.2 232.5 395.0 232.3 393.5 232.1 392.0 232.1 390.5 232.2 389.0 232.4 388.7 232.5 387.5 232.8 386.0 233.3 384.5 233.9 384.2 234.0 383.0 234.5 381.5 235.1 380.2 235.5 380.0 235.6 378.5 236.0 377.0 236.3 375.5 236.5 374.0 236.6 372.5 236.5 371.0 236.2 369.5 235.9 368.0 235.6 367.4 235.5 366.5 235.3 365.0 235.1 363.5 235.0 362.0 234.9 360.5 235.0 359.0 235.3 357.8 235.5 357.5 235.6 356.0 236.1 354.5 236.8 354.1 237.0 353.0 237.9 352.3 238.5 351.5 239.5 351.2 240.0 350.3 241.5 350.0 242.3 349.7 243.0 349.3 244.5 348.9 246.0 348.5 247.5 348.5 247.5 348.2 249.0 347.9 250.5 347.6 252.0 347.2 253.5 347.0 254.0 346.7 255.0 346.1 256.5 345.5 257.7 345.3 258.0 344.6 259.5 344.0 260.7 343.9 261.0 343.3 262.5 342.9 264.0 342.9 265.5 343.1 267.0 343.5 268.5 343.8 270.0 344.0 271.0 344.1 271.5 344.2 273.0 344.2 274.5 344.1 276.0 344.0 276.5 343.8 277.5 343.6 279.0 343.3 280.5 342.9 282.0 342.6 283.5 342.5 284.4 342.4 285.0 342.2 286.5 342.1 288.0 342.1 289.5 342.2 291.0 342.3 292.5 342.5 293.6 342.6 294.0 342.8 295.5 343.1 297.0 343.3 298.5 343.2 300.0 342.9 301.5 342.5 302.3 342.1 303.0 341.0 304.5 341.0 304.5 339.6 306.0 339.5 306.2 338.4 307.5 338.0 308.7 337.9 309.0 338.0 309.5 338.2 310.5 339.2 312.0 339.5 312.3 341.0 313.5 341.0 313.5 342.5 314.4 343.4 315.0 344.0 315.3 345.5 316.0 346.6 316.5 347.0 316.7 348.5 317.2 350.0 317.7 350.9 318.0 351.5 318.2 353.0 318.5 354.5 318.8 356.0 318.9 357.5 319.0 359.0 319.0 360.5 318.8 362.0 318.6 363.5 318.2 364.2 318.0 365.0 317.7 365.0 318.0 365.0 319.5 363.5 321.0 362.0 322.5 360.5 324.0 359.0 325.5 357.9 326.6 357.5 326.6 356.0 326.6 354.5 326.6 353.0 326.5 351.5 326.3 350.0 326.1 348.5 325.8 347.1 325.5 347.0 325.5 345.5 325.1 344.0 324.6 342.5 324.1 342.3 324.0 341.0 323.5 339.5 322.8 338.8 322.5 338.0 322.1 336.5 321.3 336.0 321.0 335.0 320.4 333.5 319.6 333.3 319.5 332.0 318.8 330.5 318.1 330.1 318.0 329.0 317.5 327.5 317.1 326.0 316.7 325.0 316.5 324.5 316.4 323.0 316.2 321.5 316.0 320.0 315.9 318.5 315.8 317.0 315.8 315.5 315.8 314.0 315.9 312.5 316.1 311.0 316.5 310.8 316.5 309.5 316.8 308.0 317.3 306.5 317.7 305.7 318.0 305.0 318.2 303.5 318.7 302.0 319.1 300.7 319.5 300.5 319.6 299.0 319.9 297.5 320.2 296.0 320.5 294.5 320.7 293.0 320.8 291.5 320.8 290.0 320.8 288.5 320.6 287.0 320.2 285.5 319.8 284.8 319.5 284.0 319.1 282.5 318.3 282.1 318.0 281.0 317.1 280.3 316.5 279.5 315.3 279.3 315.0 278.9 313.5 279.0 312.0 279.5 310.8 279.7 310.5 281.0 309.5 281.8 309.0 282.5 308.7 284.0 308.0 285.1 307.5 285.5 307.3 287.0 306.6 288.1 306.0 288.5 305.8 290.0 304.8 290.4 304.5 291.5 303.5 292.0 303.0 293.0 301.5 293.0 301.5 293.7 300.0 294.1 298.5 294.4 297.0 294.5 296.2 294.6 295.5 294.8 294.0 295.1 292.5 295.4 291.0 295.9 289.5 296.0 289.3 296.5 288.0 297.4 286.5 297.5 286.4 298.5 285.0 299.0 284.4 300.0 283.5 300.5 283.1 302.0 282.1 302.3 282.0 303.5 281.6 305.0 281.1 306.5 280.8 308.0 280.5 308.2 280.5 309.5 280.3 311.0 280.1 312.5 279.9 314.0 279.7 315.5 279.5 317.0 279.3 318.5 279.2 320.0 279.1 321.5 279.2 323.0 279.4 324.5 279.7 326.0 280.1 327.4 280.5 327.5 280.5 329.0 280.9 330.5 281.1 332.0 281.1 333.3 280.5 333.5 280.4 335.0 279.1 335.1 279.0 336.2 277.5 336.5 277.2 337.1 276.0 338.0 274.5 338.0 274.4 338.5 273.0 338.9 271.5 339.1 270.0 338.9 268.5 338.6 267.0 338.5 265.5 338.5 264.0 338.8 262.5 339.3 261.0 339.5 260.6 339.9 259.5 340.7 258.0 341.0 257.6 341.6 256.5 342.4 255.0 342.5 254.9 343.2 253.5 343.8 252.0 344.0 251.2 344.2 250.5 344.5 249.0 344.8 247.5 345.0 246.0 345.2 244.5 345.4 243.0 345.5 242.4 345.7 241.5 346.1 240.0 346.6 238.5 347.0 237.6 347.3 237.0 348.3 235.5 348.5 235.2 349.7 234.0 350.0 233.8 351.5 232.9 352.5 232.5 353.0 232.3 354.5 232.0 356.0 231.9 357.5 231.9 359.0 231.9 360.5 231.9 362.0 231.8 363.5 231.7 365.0 231.7 366.5 231.8 368.0 231.9 369.5 232.1 371.0 232.3 372.5 232.5 373.2 232.5 374.0 232.5 375.5 232.6 377.0 232.5 377.1 232.5 378.5 232.3 380.0 232.0 381.5 231.5 382.5 231.0 383.0 230.7 384.5 229.9 385.4 229.5 386.0 229.2 387.5 228.6 389.0 228.1 389.4 228.0ZM306.9 286.5 306.5 286.6 305.0 287.2 303.5 287.9 303.3 288.0 302.0 289.0 301.5 289.5 300.5 291.0 300.5 291.0 300.1 292.5 299.9 294.0 299.8 295.5 299.6 297.0 299.5 298.5 299.4 300.0 299.3 301.5 299.2 303.0 299.0 304.4 299.0 304.5 298.8 306.0 298.7 307.5 298.8 309.0 299.0 309.3 300.4 310.5 300.5 310.6 302.0 310.7 303.5 310.8 305.0 310.7 306.5 310.7 308.0 310.7 309.5 310.6 311.0 310.5 311.6 310.5 312.5 310.5 314.0 310.4 315.5 310.4 317.0 310.3 318.5 310.3 320.0 310.1 321.5 309.9 323.0 309.6 324.5 309.2 325.0 309.0 326.0 308.5 327.4 307.5 327.5 307.4 328.5 306.0 328.7 304.5 328.6 303.0 328.3 301.5 327.9 300.0 327.6 298.5 327.5 297.9 327.3 297.0 327.0 295.5 326.6 294.0 326.1 292.5 326.0 292.3 325.3 291.0 324.5 289.8 324.2 289.5 323.0 288.4 322.5 288.0 321.5 287.4 320.0 286.7 319.3 286.5 318.5 286.3 317.0 286.0 315.5 285.9 314.0 285.8 312.5 285.8 311.0 285.8 309.5 286.0 308.0 286.2ZM414.5 281.8 416.0 281.6 417.5 281.5 419.0 281.4 420.5 281.3 422.0 281.1 423.5 281.0 425.0 280.9 426.5 280.8 428.0 281.0 428.6 282.0 429.1 283.5 429.5 284.6 429.7 285.0 430.1 286.5 430.6 288.0 431.0 289.1 431.2 289.5 431.9 291.0 432.5 292.1 432.8 292.5 433.8 294.0 434.0 294.3 435.0 295.5 435.5 296.1 436.4 297.0 437.0 297.6 437.9 298.5 438.5 299.1 439.4 300.0 440.0 300.5 441.2 301.5 441.5 301.7 443.0 302.7 443.4 303.0 444.5 303.7 445.4 304.5 446.0 305.0 447.2 306.0 447.5 306.2 449.0 307.2 449.4 307.5 450.5 308.1 452.0 308.8 452.4 309.0 453.5 309.4 455.0 309.9 456.5 310.2 458.0 310.5 458.2 310.5 459.5 310.6 461.0 310.9 462.5 311.4 464.0 311.7 465.5 312.0 465.7 312.0 467.0 312.1 468.5 312.2 470.0 312.4 471.5 312.9 473.0 313.2 474.5 313.5 474.7 313.5 476.0 313.7 477.5 313.7 479.0 313.7 480.5 313.7 482.0 313.7 483.5 313.5 485.0 313.9 486.5 314.4 488.0 314.9 488.2 315.0 489.5 315.5 491.0 316.0 492.5 316.4 492.7 316.5 494.0 316.9 495.5 317.2 497.0 317.4 498.5 317.6 500.0 317.7 501.5 317.7 503.0 317.6 504.5 317.5 506.0 317.4 507.5 317.3 509.0 317.2 510.5 317.0 512.0 316.8 513.5 316.7 515.0 316.6 516.5 316.5 517.1 316.5 518.0 316.5 519.5 316.4 521.0 316.2 522.5 316.0 524.0 315.8 525.5 315.5 527.0 315.0 527.0 315.0 528.5 314.4 530.0 313.7 530.5 313.5 531.5 313.1 533.0 312.7 534.5 312.4 536.0 312.1 536.4 312.0 537.5 311.8 539.0 311.4 540.5 311.1 542.0 310.7 542.7 310.5 543.5 310.3 545.0 309.9 546.5 309.5 548.0 309.1 548.2 309.0 549.5 308.6 551.0 308.1 552.5 307.5 552.6 307.5 554.0 306.8 555.5 306.0 555.6 306.0 557.0 305.1 557.8 304.5 558.5 303.8 559.5 303.0 560.0 302.5 561.2 301.5 561.5 301.3 563.0 300.6 564.3 300.0 564.5 299.9 566.0 299.2 567.3 298.5 567.5 298.4 569.0 297.5 569.8 297.0 570.5 296.5 571.9 295.5 572.0 295.4 573.5 294.2 573.7 294.0 575.0 292.6 575.1 292.5 576.2 291.0 576.5 290.4 576.9 289.5 577.5 288.0 577.9 286.5 578.0 286.1 578.1 285.1 579.5 286.5 581.0 286.5 582.5 286.5 584.0 288.0 585.5 289.5 585.8 289.8 585.5 290.4 585.3 291.0 584.5 292.5 584.0 293.4 583.6 294.0 582.6 295.5 582.5 295.6 581.4 297.0 581.0 297.4 579.8 298.5 579.5 298.8 578.0 299.7 577.6 300.0 576.5 300.6 575.0 301.5 575.0 301.5 573.5 302.6 573.0 303.0 572.0 304.0 571.5 304.5 570.5 306.0 570.5 306.0 569.5 307.5 569.0 308.2 567.9 309.0 567.5 309.2 566.0 309.6 564.5 309.8 563.0 310.0 561.5 310.2 560.0 310.5 559.9 310.5 558.5 310.8 557.0 311.1 555.5 311.5 554.0 311.9 553.6 312.0 552.5 312.3 551.0 312.7 549.5 313.1 548.0 313.5 548.0 313.5 546.5 313.9 545.0 314.3 543.5 314.8 542.7 315.0 542.0 315.2 540.5 315.7 539.0 316.1 538.0 316.5 537.5 316.7 536.0 317.2 534.5 317.9 534.2 318.0 533.0 318.5 531.5 319.1 530.5 319.5 530.0 319.6 528.5 319.8 527.0 319.9 525.5 320.0 524.0 320.0 522.5 320.0 521.0 320.1 519.5 320.2 518.0 320.2 516.5 320.3 515.0 320.5 513.5 320.7 512.0 320.9 511.7 321.0 510.5 321.2 509.0 321.4 507.5 321.6 506.0 321.9 504.5 322.2 503.0 322.5 502.7 322.5 501.5 322.7 500.0 322.8 498.5 322.9 497.0 322.7 495.8 322.5 495.5 322.4 494.0 322.0 492.5 321.6 491.0 321.0 490.9 321.0 489.5 320.4 488.0 319.8 487.2 319.5 486.5 319.2 485.0 318.7 483.5 318.3 482.1 318.0 482.0 318.0 480.5 317.8 479.0 317.8 477.5 317.9 476.5 318.0 476.0 318.1 474.5 318.3 473.0 318.4 471.5 318.4 470.3 318.0 470.0 317.8 468.8 316.5 468.5 316.1 467.8 315.0 467.0 314.7 465.5 314.5 464.0 314.3 462.5 314.0 461.0 313.5 460.9 313.5 459.5 313.1 458.0 313.0 456.5 312.8 455.0 312.5 453.5 312.0 453.4 312.0 452.0 311.5 450.5 310.9 449.7 310.5 449.0 310.1 447.5 309.3 447.1 309.0 446.0 308.2 445.1 307.5 444.5 307.0 443.4 306.0 443.0 305.7 441.5 304.8 441.1 304.5 440.0 303.7 439.1 303.0 438.5 302.5 437.4 301.5 437.0 301.1 435.9 300.0 435.5 299.6 434.4 298.5 434.0 298.1 433.0 297.0 432.5 296.4 431.8 295.5 431.0 294.4 430.7 294.0 429.9 292.5 429.5 291.8 429.1 291.0 428.5 289.5 428.0 288.1 428.0 288.0 427.5 286.5 427.0 285.0 426.5 284.3 425.0 284.0 423.5 283.8 422.0 283.7 420.5 283.7 419.0 283.9 417.5 284.2 416.0 284.6 414.8 285.0 414.5 285.1 413.0 285.7 411.5 286.3 411.1 286.5 410.0 287.0 408.5 287.6 407.5 288.0 407.0 288.2 405.5 289.0 404.6 289.5 404.0 289.9 402.6 291.0 402.5 291.1 401.5 292.5 401.1 294.0 401.0 294.4 400.8 295.5 400.3 297.0 399.8 298.5 399.5 299.2 399.1 300.0 398.4 301.5 398.0 302.1 397.4 303.0 396.5 304.3 396.4 304.5 395.1 306.0 395.0 306.1 393.6 307.5 393.5 307.6 392.1 309.0 392.0 309.1 390.5 310.4 390.3 310.5 389.0 311.4 388.1 312.0 387.5 312.4 386.0 313.1 385.2 313.5 384.5 313.8 383.0 314.3 382.5 314.5 381.5 313.5 380.0 312.0 380.1 312.0 381.5 311.6 383.0 311.1 384.5 310.5 384.6 310.5 386.0 309.8 387.2 309.0 387.5 308.8 389.0 307.7 389.3 307.5 390.5 306.4 390.9 306.0 392.0 304.9 392.4 304.5 393.5 303.3 393.7 303.0 394.8 301.5 395.0 301.2 395.8 300.0 396.5 298.6 396.5 298.5 397.1 297.0 397.6 295.5 398.0 294.1 398.0 294.0 398.3 292.5 398.4 291.0 398.5 289.5 398.6 288.0 398.9 286.5 399.5 285.0 399.5 284.9 401.0 284.2 402.5 283.9 404.0 283.6 404.8 283.5 405.5 283.4 407.0 283.2 408.5 282.9 410.0 282.6 411.5 282.3 413.0 282.0 413.1 282.0Z"/>
<path fill="#37ffc8" stroke="#37ffc8" stroke-width="0.6" fill-rule="evenodd" d="M387.5 223.4 389.0 223.1 390.5 223.0 392.0 222.8 393.5 222.7 395.0 222.7 396.5 222.7 398.0 222.7 399.5 222.7 401.0 222.6 402.5 222.6 404.0 222.5 405.5 222.5 407.0 222.5 408.5 222.5 410.0 222.6 411.5 222.6 413.0 222.6 414.5 222.7 416.0 222.9 417.5 223.2 418.6 223.5 419.0 223.6 420.5 224.5 421.4 225.0 422.0 225.3 423.5 226.0 425.0 226.4 425.2 226.5 426.5 226.8 428.0 227.0 429.5 227.2 431.0 227.4 432.5 227.6 434.0 227.7 435.5 227.9 437.0 228.0 437.9 228.0 438.5 228.0 440.0 228.1 441.5 228.3 443.0 228.5 444.5 228.6 446.0 228.8 447.5 228.7 449.0 228.4 450.1 228.0 450.5 227.9 452.0 227.3 453.5 226.9 454.9 226.5 455.0 226.5 456.5 226.2 458.0 226.0 459.5 225.9 461.0 225.8 462.5 225.4 463.9 225.0 464.0 225.0 465.5 224.7 467.0 224.5 468.5 224.4 470.0 224.3 471.5 224.3 473.0 224.3 474.5 224.3 476.0 224.3 477.5 224.4 479.0 224.5 480.5 224.7 482.0 225.0 482.1 225.0 483.5 225.4 485.0 225.8 486.5 225.9 488.0 226.0 489.5 226.2 491.0 226.5 491.1 226.5 492.5 226.9 494.0 227.3 495.5 227.9 495.8 228.0 497.0 228.6 498.5 229.3 498.8 229.5 500.0 230.1 501.5 230.8 501.8 231.0 503.0 231.6 504.5 232.3 504.8 232.5 506.0 233.2 507.1 234.0 507.5 234.3 509.0 234.8 510.5 234.8 512.0 234.8 513.5 234.8 515.0 234.8 516.5 234.1 516.6 234.0 518.0 233.2 519.5 232.6 520.1 232.5 521.0 232.3 522.5 232.2 524.0 232.2 525.4 232.5 525.5 232.5 527.0 233.0 528.5 233.7 529.1 234.0 530.0 234.6 531.4 235.5 531.5 235.6 533.0 236.6 533.0 237.0 534.5 238.5 534.5 240.0 534.5 240.5 533.1 240.0 533.0 240.0 531.5 239.5 530.0 239.0 529.3 238.5 528.5 237.8 527.7 237.0 527.0 236.5 525.5 235.6 525.3 235.5 524.0 235.0 522.5 234.7 521.0 234.7 519.5 235.1 518.4 235.5 518.0 235.7 516.5 236.7 515.7 237.0 515.0 237.3 513.5 237.3 512.0 237.3 510.5 237.3 509.0 237.3 507.5 237.3 507.0 237.0 506.0 236.3 504.9 235.5 504.5 235.2 503.0 234.4 502.3 234.0 501.5 233.6 500.0 232.9 499.3 232.5 498.5 232.1 497.0 231.4 496.3 231.0 495.5 230.6 494.0 230.0 492.6 229.5 492.5 229.5 491.0 229.0 489.5 228.7 488.0 228.5 486.5 228.4 485.0 228.3 483.7 228.0 483.5 228.0 482.0 227.5 480.5 227.2 479.0 227.0 477.5 226.9 476.0 226.8 474.5 226.8 473.0 226.8 471.5 226.8 470.0 226.8 468.5 226.9 467.0 227.0 465.5 227.2 464.0 227.5 462.5 228.0 462.3 228.0 461.0 228.3 459.5 228.4 458.0 228.5 456.5 228.7 455.0 229.0 453.5 229.5 453.4 229.5 452.0 230.0 450.5 230.5 449.0 231.0 448.9 231.0 447.5 231.5 446.0 232.1 445.2 232.5 444.5 232.8 443.0 232.8 441.5 232.5 441.5 232.5 440.0 232.3 438.5 232.2 437.0 232.2 435.5 232.3 434.0 232.4 432.9 232.5 432.5 232.5 431.0 232.7 429.5 233.0 428.0 233.3 426.5 233.6 425.0 233.9 424.0 234.0 423.5 234.1 422.0 234.1 421.1 234.0 420.5 233.9 419.0 233.4 417.7 232.5 417.5 232.4 416.0 231.0 416.0 231.0 414.5 229.5 414.5 229.5 413.0 228.4 412.2 228.0 411.5 227.7 410.0 227.3 408.5 227.1 407.0 227.1 405.5 227.2 404.0 227.3 402.5 227.4 401.0 227.4 399.5 227.4 398.0 227.4 396.5 227.4 395.0 227.4 393.5 227.5 392.0 227.6 390.5 227.7 389.4 228.0 389.0 228.1 387.5 228.6 386.0 229.2 385.4 229.5 384.5 229.9 383.0 230.7 382.5 231.0 381.5 231.5 380.0 232.0 378.5 232.3 377.1 232.5 377.0 232.5 375.5 232.6 374.0 232.5 373.2 232.5 372.5 232.5 371.0 232.3 369.5 232.1 368.0 231.9 366.5 231.8 365.0 231.7 363.5 231.7 362.0 231.8 360.5 231.9 359.0 231.9 357.5 231.9 356.0 231.9 354.5 232.0 353.0 232.3 352.5 232.5 351.5 232.9 350.0 233.8 349.7 234.0 348.5 235.2 348.3 235.5 347.3 237.0 347.0 237.6 346.6 238.5 346.1 240.0 345.7 241.5 345.5 242.4 345.4 243.0 345.2 244.5 345.0 246.0 344.8 247.5 344.5 249.0 344.2 250.5 344.0 251.2 343.8 252.0 343.2 253.5 342.5 254.9 342.4 255.0 341.6 256.5 341.0 257.6 340.7 258.0 339.9 259.5 339.5 260.6 339.3 261.0 338.8 262.5 338.5 264.0 338.5 265.5 338.6 267.0 338.9 268.5 339.1 270.0 338.9 271.5 338.5 273.0 338.0 274.4 338.0 274.5 337.1 276.0 336.5 277.2 336.2 277.5 335.1 279.0 335.0 279.1 333.5 280.4 333.3 280.5 332.0 281.1 330.5 281.1 329.0 280.9 327.5 280.5 327.4 280.5 326.0 280.1 324.5 279.7 323.0 279.4 321.5 279.2 320.0 279.1 318.5 279.2 317.0 279.3 315.5 279.5 314.0 279.7 312.5 279.9 311.0 280.1 309.5 280.3 308.2 280.5 308.0 280.5 306.5 280.8 305.0 281.1 303.5 281.6 302.3 282.0 302.0 282.1 300.5 283.1 300.0 283.5 299.0 284.4 298.5 285.0 297.5 286.4 297.4 286.5 296.5 288.0 296.0 289.3 295.9 289.5 295.4 291.0 295.1 292.5 294.8 294.0 294.6 295.5 294.5 296.2 294.4 297.0 294.1 298.5 293.7 300.0 293.0 301.5 293.0 301.5 292.0 303.0 291.5 303.5 290.4 304.5 290.0 304.8 288.5 305.8 288.1 306.0 287.0 306.6 285.5 307.3 285.1 307.5 284.0 308.0 282.5 308.7 281.8 309.0 281.0 309.5 279.7 310.5 279.5 310.8 279.0 312.0 278.9 313.5 279.3 315.0 279.5 315.3 280.3 316.5 281.0 317.1 282.1 318.0 282.5 318.3 284.0 319.1 284.8 319.5 285.5 319.8 287.0 320.2 288.5 320.6 290.0 320.8 291.5 320.8 293.0 320.8 294.5 320.7 296.0 320.5 297.5 320.2 299.0 319.9 300.5 319.6 300.7 319.5 302.0 319.1 303.5 318.7 305.0 318.2 305.7 318.0 306.5 317.7 308.0 317.3 309.5 316.8 310.8 316.5 311.0 316.5 312.5 316.1 314.0 315.9 315.5 315.8 317.0 315.8 318.5 315.8 320.0 315.9 321.5 316.0 323.0 316.2 324.5 316.4 325.0 316.5 326.0 316.7 327.5 317.1 329.0 317.5 330.1 318.0 330.5 318.1 332.0 318.8 333.3 319.5 333.5 319.6 335.0 320.4 336.0 321.0 336.5 321.3 338.0 322.1 338.8 322.5 339.5 322.8 341.0 323.5 342.3 324.0 342.5 324.1 344.0 324.6 345.5 325.1 347.0 325.5 347.1 325.5 348.5 325.8 350.0 326.1 351.5 326.3 353.0 326.5 354.5 326.6 356.0 326.6 357.5 326.6 357.9 326.6 357.5 327.0 356.0 327.0 354.5 327.0 353.0 327.0 351.5 328.5 350.0 328.5 348.5 330.0 347.0 331.5 346.3 332.2 345.5 331.9 344.1 331.5 344.0 331.5 342.5 330.9 341.0 330.3 340.2 330.0 339.5 329.7 338.0 329.0 337.0 328.5 336.5 328.2 335.0 327.4 334.2 327.0 333.5 326.6 332.0 325.8 331.5 325.5 330.5 325.0 329.0 324.2 328.5 324.0 327.5 323.6 326.0 323.0 324.6 322.5 324.5 322.5 323.0 322.1 321.5 321.8 320.0 321.6 318.5 321.5 317.0 321.5 315.5 321.6 314.0 321.9 312.5 322.2 311.4 322.5 311.0 322.6 309.5 323.1 308.0 323.6 307.0 324.0 306.5 324.2 305.0 324.8 303.5 325.4 303.2 325.5 302.3 325.8 302.0 325.5 300.5 324.0 299.0 322.5 297.5 321.0 296.0 321.0 294.5 321.0 293.0 321.0 291.5 321.0 290.0 321.0 288.5 322.5 287.0 322.5 285.5 324.0 284.0 325.5 282.5 327.0 281.0 328.5 280.3 329.2 279.5 329.0 278.0 328.8 276.6 328.5 276.5 328.5 275.0 328.1 273.5 327.7 272.0 327.2 271.6 327.0 270.5 326.6 269.0 325.9 268.2 325.5 267.5 325.1 266.0 324.2 265.7 324.0 264.5 323.1 263.7 322.5 263.0 321.8 262.2 321.0 261.5 320.1 261.1 319.5 260.4 318.0 260.0 316.7 259.9 316.5 259.7 315.0 259.6 313.5 259.5 312.0 259.5 310.5 259.6 309.0 259.7 307.5 259.7 306.0 259.7 304.5 259.6 303.0 259.6 301.5 259.6 300.0 260.0 298.7 260.1 298.5 261.1 297.0 261.5 296.3 262.3 295.5 263.0 294.6 264.1 294.0 264.5 293.7 265.3 294.0 266.0 294.5 266.4 295.5 266.7 297.0 267.1 298.5 267.5 299.7 267.6 300.0 268.6 301.5 269.0 301.9 270.5 302.5 272.0 302.6 273.5 302.4 275.0 302.1 276.5 301.8 278.0 301.5 278.1 301.5 279.5 301.2 281.0 300.8 282.5 300.3 283.3 300.0 284.0 299.7 285.5 298.9 286.1 298.5 287.0 297.7 287.5 297.0 288.3 295.5 288.5 295.1 288.9 294.0 289.5 292.5 290.0 291.6 290.2 291.0 290.9 289.5 291.5 288.3 291.6 288.0 292.4 286.5 293.0 285.6 293.3 285.0 294.4 283.5 294.5 283.3 295.5 282.0 296.0 281.4 296.8 280.5 297.5 279.9 298.6 279.0 299.0 278.7 300.5 277.9 301.6 277.5 302.0 277.3 303.5 276.8 305.0 276.2 305.6 276.0 306.5 275.6 308.0 274.9 308.9 274.5 309.5 274.1 311.0 273.3 311.5 273.0 312.5 272.3 313.7 271.5 314.0 271.3 315.5 270.2 315.9 270.0 317.0 269.2 318.3 268.5 318.5 268.4 320.0 267.7 321.5 267.2 322.4 267.0 323.0 266.8 324.5 266.5 326.0 266.0 327.4 265.5 327.5 265.5 329.0 264.6 329.7 264.0 330.5 263.3 331.1 262.5 332.0 261.5 332.4 261.0 333.5 259.5 333.5 259.5 334.7 258.0 335.0 257.6 335.9 256.5 336.5 255.8 337.2 255.0 338.0 254.0 338.4 253.5 339.5 252.0 339.5 252.0 340.2 250.5 340.6 249.0 340.8 247.5 340.8 246.0 340.8 244.5 340.7 243.0 340.7 241.5 340.8 240.0 340.9 238.5 341.0 238.1 341.2 237.0 341.5 235.5 342.0 234.0 342.5 232.9 342.7 232.5 343.6 231.0 344.0 230.5 344.8 229.5 345.5 228.8 346.4 228.0 347.0 227.5 348.5 226.5 348.5 226.5 350.0 225.7 351.5 225.3 353.0 225.1 354.5 225.3 356.0 225.6 357.5 226.0 359.0 226.4 359.8 226.5 360.5 226.6 362.0 226.6 363.5 226.5 364.3 226.5 365.0 226.5 366.5 226.4 368.0 226.5 368.3 226.5 369.5 226.6 371.0 226.7 372.5 226.8 374.0 226.9 375.5 227.0 377.0 227.0 378.5 226.8 379.6 226.5 380.0 226.4 381.5 225.6 382.7 225.0 383.0 224.8 384.5 224.2 386.0 223.7 387.1 223.5ZM416.0 284.6 417.5 284.2 419.0 283.9 420.5 283.7 422.0 283.7 423.5 283.8 425.0 284.0 426.5 284.3 427.0 285.0 427.5 286.5 428.0 288.0 428.0 288.1 428.5 289.5 429.1 291.0 429.5 291.8 429.9 292.5 430.7 294.0 431.0 294.4 431.8 295.5 432.5 296.4 433.0 297.0 434.0 298.1 434.4 298.5 435.5 299.6 435.9 300.0 437.0 301.1 437.4 301.5 438.5 302.5 439.1 303.0 440.0 303.7 441.1 304.5 441.5 304.8 443.0 305.7 443.4 306.0 444.5 307.0 445.1 307.5 446.0 308.2 447.1 309.0 447.5 309.3 449.0 310.1 449.7 310.5 450.5 310.9 452.0 311.5 453.4 312.0 453.5 312.0 455.0 312.5 456.5 312.8 458.0 313.0 459.5 313.1 460.9 313.5 461.0 313.5 462.5 314.0 464.0 314.3 465.5 314.5 467.0 314.7 467.8 315.0 468.5 316.1 468.8 316.5 470.0 317.8 470.3 318.0 471.5 318.4 473.0 318.4 474.5 318.3 476.0 318.1 476.5 318.0 477.5 317.9 479.0 317.8 480.5 317.8 482.0 318.0 482.1 318.0 483.5 318.3 485.0 318.7 486.5 319.2 487.2 319.5 488.0 319.8 489.5 320.4 490.9 321.0 491.0 321.0 492.5 321.6 494.0 322.0 495.5 322.4 495.8 322.5 497.0 322.7 498.5 322.9 500.0 322.8 501.5 322.7 502.7 322.5 503.0 322.5 504.5 322.2 506.0 321.9 507.5 321.6 509.0 321.4 510.5 321.2 511.7 321.0 512.0 320.9 513.5 320.7 515.0 320.5 516.5 320.3 518.0 320.2 519.5 320.2 521.0 320.1 522.5 320.0 524.0 320.0 525.5 320.0 527.0 319.9 528.5 319.8 530.0 319.6 530.5 319.5 531.5 319.1 533.0 318.5 534.2 318.0 534.5 317.9 536.0 317.2 537.5 316.7 538.0 316.5 539.0 316.1 540.5 315.7 542.0 315.2 542.7 315.0 543.5 314.8 545.0 314.3 546.5 313.9 548.0 313.5 548.0 313.5 549.5 313.1 551.0 312.7 552.5 312.3 553.6 312.0 554.0 311.9 555.5 311.5 557.0 311.1 558.5 310.8 559.9 310.5 560.0 310.5 561.5 310.2 563.0 310.0 564.5 309.8 566.0 309.6 567.5 309.2 567.9 309.0 569.0 308.2 569.5 307.5 570.5 306.0 570.5 306.0 571.5 304.5 572.0 304.0 573.0 303.0 573.5 302.6 575.0 301.5 575.0 301.5 576.5 300.6 577.6 300.0 578.0 299.7 579.5 298.8 579.8 298.5 581.0 297.4 581.4 297.0 582.5 295.6 582.6 295.5 583.6 294.0 584.0 293.4 584.5 292.5 585.3 291.0 585.5 290.4 585.8 289.8 587.0 291.0 588.5 292.5 590.0 294.0 590.7 294.7 590.2 295.5 590.0 295.7 589.0 297.0 588.5 297.5 587.6 298.5 587.0 299.1 586.1 300.0 585.5 300.5 584.3 301.5 584.0 301.7 582.5 302.7 582.0 303.0 581.0 303.5 579.5 304.3 579.0 304.5 578.0 305.0 576.5 305.8 576.2 306.0 575.0 306.8 574.3 307.5 573.5 308.4 573.1 309.0 572.1 310.5 572.0 310.6 570.8 312.0 570.5 312.2 569.0 313.1 567.8 313.5 567.5 313.6 566.0 314.0 564.5 314.3 563.0 314.6 561.5 314.9 560.9 315.0 560.0 315.2 558.5 315.4 557.0 315.7 555.5 316.0 554.0 316.3 553.1 316.5 552.5 316.6 551.0 317.0 549.5 317.3 548.0 317.7 546.9 318.0 546.5 318.1 545.0 318.5 543.5 319.0 542.0 319.4 541.8 319.5 540.5 319.9 539.0 320.4 537.5 320.9 537.3 321.0 536.0 321.4 534.5 321.9 533.0 322.4 532.6 322.5 531.5 322.8 530.0 323.0 528.5 323.2 527.0 323.2 525.5 323.3 524.0 323.3 522.5 323.3 521.0 323.3 519.5 323.4 518.0 323.4 516.5 323.5 515.0 323.6 513.5 323.8 512.1 324.0 512.0 324.0 510.5 324.3 509.0 324.6 507.5 324.9 506.0 325.4 505.7 325.5 504.5 325.9 503.0 326.4 501.5 327.0 501.3 327.0 500.0 327.3 498.5 327.4 497.0 327.3 495.7 327.0 495.5 327.0 494.0 326.5 492.5 326.0 491.4 325.5 491.0 325.3 489.5 324.7 488.1 324.0 488.0 324.0 486.5 323.3 485.0 322.6 484.6 322.5 483.5 322.1 482.0 321.7 480.5 321.5 479.0 321.5 477.5 321.7 476.0 321.9 474.5 322.1 473.0 322.3 471.5 322.3 470.0 322.0 468.5 321.4 467.9 321.0 467.0 320.2 466.2 319.5 465.5 318.7 464.8 318.0 464.0 317.1 462.5 316.5 462.4 316.5 461.0 316.1 459.5 315.7 458.0 315.5 456.5 315.3 455.0 315.0 454.9 315.0 453.5 314.6 452.0 314.2 450.5 313.6 450.2 313.5 449.0 312.9 447.5 312.2 447.2 312.0 446.0 311.3 444.9 310.5 444.5 310.2 443.0 309.0 443.0 309.0 441.5 307.7 441.2 307.5 440.0 306.8 438.9 306.0 438.5 305.7 437.0 304.5 437.0 304.5 435.5 303.1 435.4 303.0 434.0 301.6 433.9 301.5 432.5 300.1 432.4 300.0 431.0 298.5 431.0 298.5 429.8 297.0 429.5 296.6 428.7 295.5 428.0 294.3 427.8 294.0 427.1 292.5 426.5 291.3 426.4 291.0 425.8 289.5 425.4 288.0 425.0 287.3 423.5 286.8 422.0 286.6 420.5 286.5 419.0 286.8 417.5 287.3 416.0 287.9 415.7 288.0 414.5 288.6 413.0 289.3 412.6 289.5 411.5 290.0 410.0 290.8 409.7 291.0 408.5 291.7 407.4 292.5 407.0 292.8 405.5 294.0 405.5 294.0 404.0 295.5 404.0 295.5 403.5 297.0 403.0 298.5 402.5 299.8 402.4 300.0 401.7 301.5 401.0 302.9 401.0 303.0 400.0 304.5 399.5 305.3 399.0 306.0 398.0 307.3 397.8 307.5 396.5 308.9 396.4 309.0 395.0 310.4 394.9 310.5 393.5 311.8 393.3 312.0 392.0 313.1 391.4 313.5 390.5 314.5 389.9 315.0 389.0 316.0 388.5 316.5 387.5 317.6 387.1 318.0 386.0 319.2 385.7 319.5 385.1 320.1 384.5 319.5 384.5 318.0 384.5 316.5 383.0 315.0 382.5 314.5 383.0 314.3 384.5 313.8 385.2 313.5 386.0 313.1 387.5 312.4 388.1 312.0 389.0 311.4 390.3 310.5 390.5 310.4 392.0 309.1 392.1 309.0 393.5 307.6 393.6 307.5 395.0 306.1 395.1 306.0 396.4 304.5 396.5 304.3 397.4 303.0 398.0 302.1 398.4 301.5 399.1 300.0 399.5 299.2 399.8 298.5 400.3 297.0 400.8 295.5 401.0 294.4 401.1 294.0 401.5 292.5 402.5 291.1 402.6 291.0 404.0 289.9 404.6 289.5 405.5 289.0 407.0 288.2 407.5 288.0 408.5 287.6 410.0 287.0 411.1 286.5 411.5 286.3 413.0 285.7 414.5 285.1 414.8 285.0Z"/>
<path fill="#67ff98" stroke="#67ff98" stroke-width="0.6" fill-rule="evenodd" d="M350.0 214.4 351.5 213.8 353.0 213.6 354.5 213.6 356.0 213.8 357.5 214.1 359.0 214.4 359.8 214.5 360.5 214.6 362.0 214.8 363.5 214.9 365.0 214.9 366.5 214.9 368.0 214.9 369.5 214.9 371.0 214.9 372.5 214.9 374.0 214.9 375.5 214.9 377.0 214.9 378.5 214.9 380.0 215.0 381.5 215.0 383.0 215.1 384.5 215.2 386.0 215.3 387.5 215.5 389.0 215.6 390.5 215.7 392.0 215.7 393.5 215.8 395.0 215.8 396.5 215.9 398.0 215.9 399.5 215.9 401.0 215.8 402.5 215.7 404.0 215.6 405.5 215.6 407.0 215.6 408.5 215.8 410.0 216.0 410.2 216.0 411.5 216.2 413.0 216.4 414.5 216.6 416.0 216.8 417.5 217.0 419.0 217.3 419.6 217.5 420.5 217.8 422.0 218.4 423.3 219.0 423.5 219.1 425.0 219.9 426.2 220.5 426.5 220.7 428.0 221.4 429.3 222.0 429.5 222.1 431.0 222.7 432.5 223.3 433.3 223.5 434.0 223.7 435.5 224.1 437.0 224.4 438.5 224.7 440.0 224.8 441.5 225.0 441.7 225.0 443.0 225.1 444.5 225.2 446.0 225.3 447.5 225.4 449.0 225.5 450.5 225.2 451.1 225.0 452.0 224.7 453.5 224.3 455.0 223.9 456.5 223.7 457.7 223.5 458.0 223.5 459.5 223.4 461.0 223.2 462.5 222.8 464.0 222.4 465.5 222.2 466.7 222.0 467.0 222.0 468.5 221.9 470.0 221.8 471.5 221.8 473.0 221.8 474.5 221.8 476.0 221.8 477.5 221.9 479.0 222.0 479.3 222.0 480.5 222.2 482.0 222.4 483.5 222.8 485.0 223.2 486.5 223.4 488.0 223.5 488.3 223.5 489.5 223.7 491.0 223.9 492.5 224.3 494.0 224.7 494.9 225.0 495.5 225.2 497.0 225.8 498.5 226.5 498.5 226.5 500.0 227.3 501.5 228.0 501.5 228.0 503.0 228.8 504.5 229.5 504.5 229.5 506.0 230.3 507.1 231.0 507.5 231.2 509.0 232.3 510.5 232.3 512.0 232.3 513.5 232.3 515.0 232.3 516.5 231.4 517.3 231.0 518.0 230.6 519.5 230.1 521.0 229.7 522.3 229.5 522.5 229.5 524.0 229.4 525.5 229.5 525.6 229.5 527.0 229.7 527.3 229.8 528.5 231.0 530.0 232.5 531.5 234.0 533.0 235.5 533.0 236.6 531.5 235.6 531.4 235.5 530.0 234.6 529.1 234.0 528.5 233.7 527.0 233.0 525.5 232.5 525.4 232.5 524.0 232.2 522.5 232.2 521.0 232.3 520.1 232.5 519.5 232.6 518.0 233.2 516.6 234.0 516.5 234.1 515.0 234.8 513.5 234.8 512.0 234.8 510.5 234.8 509.0 234.8 507.5 234.3 507.1 234.0 506.0 233.2 504.8 232.5 504.5 232.3 503.0 231.6 501.8 231.0 501.5 230.8 500.0 230.1 498.8 229.5 498.5 229.3 497.0 228.6 495.8 228.0 495.5 227.9 494.0 227.3 492.5 226.9 491.1 226.5 491.0 226.5 489.5 226.2 488.0 226.0 486.5 225.9 485.0 225.8 483.5 225.4 482.1 225.0 482.0 225.0 480.5 224.7 479.0 224.5 477.5 224.4 476.0 224.3 474.5 224.3 473.0 224.3 471.5 224.3 470.0 224.3 468.5 224.4 467.0 224.5 465.5 224.7 464.0 225.0 463.9 225.0 462.5 225.4 461.0 225.8 459.5 225.9 458.0 226.0 456.5 226.2 455.0 226.5 454.9 226.5 453.5 226.9 452.0 227.3 450.5 227.9 450.1 228.0 449.0 228.4 447.5 228.7 446.0 228.8 444.5 228.6 443.0 228.5 441.5 228.3 440.0 228.1 438.5 228.0 437.9 228.0 437.0 228.0 435.5 227.9 434.0 227.7 432.5 227.6 431.0 227.4 429.5 227.2 428.0 227.0 426.5 226.8 425.2 226.5 425.0 226.4 423.5 226.0 422.0 225.3 421.4 225.0 420.5 224.5 419.0 223.6 418.6 223.5 417.5 223.2 416.0 222.9 414.5 222.7 413.0 222.6 411.5 222.6 410.0 222.6 408.5 222.5 407.0 222.5 405.5 222.5 404.0 222.5 402.5 222.6 401.0 222.6 399.5 222.7 398.0 222.7 396.5 222.7 395.0 222.7 393.5 222.7 392.0 222.8 390.5 223.0 389.0 223.1 387.5 223.4 387.1 223.5 386.0 223.7 384.5 224.2 383.0 224.8 382.7 225.0 381.5 225.6 380.0 226.4 379.6 226.5 378.5 226.8 377.0 227.0 375.5 227.0 374.0 226.9 372.5 226.8 371.0 226.7 369.5 226.6 368.3 226.5 368.0 226.5 366.5 226.4 365.0 226.5 364.3 226.5 363.5 226.5 362.0 226.6 360.5 226.6 359.8 226.5 359.0 226.4 357.5 226.0 356.0 225.6 354.5 225.3 353.0 225.1 351.5 225.3 350.0 225.7 348.5 226.5 348.5 226.5 347.0 227.5 346.4 228.0 345.5 228.8 344.8 229.5 344.0 230.5 343.6 231.0 342.7 232.5 342.5 232.9 342.0 234.0 341.5 235.5 341.2 237.0 341.0 238.1 340.9 238.5 340.8 240.0 340.7 241.5 340.7 243.0 340.8 244.5 340.8 246.0 340.8 247.5 340.6 249.0 340.2 250.5 339.5 252.0 339.5 252.0 338.4 253.5 338.0 254.0 337.2 255.0 336.5 255.8 335.9 256.5 335.0 257.6 334.7 258.0 333.5 259.5 333.5 259.5 332.4 261.0 332.0 261.5 331.1 262.5 330.5 263.3 329.7 264.0 329.0 264.6 327.5 265.5 327.4 265.5 326.0 266.0 324.5 266.5 323.0 266.8 322.4 267.0 321.5 267.2 320.0 267.7 318.5 268.4 318.3 268.5 317.0 269.2 315.9 270.0 315.5 270.2 314.0 271.3 313.7 271.5 312.5 272.3 311.5 273.0 311.0 273.3 309.5 274.1 308.9 274.5 308.0 274.9 306.5 275.6 305.6 276.0 305.0 276.2 303.5 276.8 302.0 277.3 301.6 277.5 300.5 277.9 299.0 278.7 298.6 279.0 297.5 279.9 296.8 280.5 296.0 281.4 295.5 282.0 294.5 283.3 294.4 283.5 293.3 285.0 293.0 285.6 292.4 286.5 291.6 288.0 291.5 288.3 290.9 289.5 290.2 291.0 290.0 291.6 289.5 292.5 288.9 294.0 288.5 295.1 288.3 295.5 287.5 297.0 287.0 297.7 286.1 298.5 285.5 298.9 284.0 299.7 283.3 300.0 282.5 300.3 281.0 300.8 279.5 301.2 278.1 301.5 278.0 301.5 276.5 301.8 275.0 302.1 273.5 302.4 272.0 302.6 270.5 302.5 269.0 301.9 268.6 301.5 267.6 300.0 267.5 299.7 267.1 298.5 266.7 297.0 266.4 295.5 266.0 294.5 265.3 294.0 264.5 293.7 264.1 294.0 263.0 294.6 262.3 295.5 261.5 296.3 261.1 297.0 260.1 298.5 260.0 298.7 259.6 300.0 259.6 301.5 259.6 303.0 259.7 304.5 259.7 306.0 259.7 307.5 259.6 309.0 259.5 310.5 259.5 312.0 259.6 313.5 259.7 315.0 259.9 316.5 260.0 316.7 260.4 318.0 261.1 319.5 261.5 320.1 262.2 321.0 263.0 321.8 263.7 322.5 264.5 323.1 265.7 324.0 266.0 324.2 267.5 325.1 268.2 325.5 269.0 325.9 270.5 326.6 271.6 327.0 272.0 327.2 273.5 327.7 275.0 328.1 276.5 328.5 276.6 328.5 278.0 328.8 279.5 329.0 280.3 329.2 279.5 330.0 278.0 331.5 276.5 331.5 275.0 333.0 273.5 333.0 272.0 333.0 270.5 333.0 269.0 333.0 267.5 331.5 266.0 331.5 264.5 331.5 263.0 331.5 261.5 331.5 260.0 330.0 259.4 330.0 258.5 329.2 257.8 328.5 257.0 327.7 256.4 327.0 255.5 326.0 255.1 325.5 254.0 324.0 254.0 324.0 253.0 322.5 252.5 321.4 252.3 321.0 251.8 319.5 251.6 318.0 251.5 316.5 251.6 315.0 251.8 313.5 252.1 312.0 252.4 310.5 252.5 309.5 252.6 309.0 252.8 307.5 253.0 306.0 253.2 304.5 253.4 303.0 253.6 301.5 253.8 300.0 253.9 298.5 254.0 298.1 254.2 297.0 254.4 295.5 254.7 294.0 254.9 292.5 255.2 291.0 255.4 289.5 255.5 288.9 255.7 288.0 255.9 286.5 256.3 285.0 256.8 283.5 257.0 282.9 257.4 282.0 258.2 280.5 258.5 280.1 259.4 279.0 260.0 278.4 261.1 277.5 261.5 277.2 263.0 276.2 263.3 276.0 264.5 275.3 266.0 274.6 266.2 274.5 267.5 274.0 269.0 273.5 270.4 273.0 270.5 273.0 272.0 272.5 273.5 272.1 275.0 271.7 275.8 271.5 276.5 271.3 278.0 271.0 279.5 270.9 281.0 271.5 281.0 271.5 281.8 273.0 282.1 274.5 282.2 276.0 282.3 277.5 282.5 278.3 282.7 279.0 283.8 280.5 284.0 280.6 285.5 281.5 287.0 281.7 288.5 281.3 290.0 280.6 290.1 280.5 291.4 279.0 291.5 278.9 292.7 277.5 293.0 277.2 294.5 276.1 294.6 276.0 296.0 275.2 297.5 274.6 297.8 274.5 299.0 274.0 300.5 273.4 301.4 273.0 302.0 272.7 303.5 271.6 303.6 271.5 304.9 270.0 305.0 269.8 305.8 268.5 306.4 267.0 306.5 266.7 307.0 265.5 307.7 264.0 308.0 263.5 308.8 262.5 309.5 261.9 310.5 261.0 311.0 260.6 312.5 259.5 312.5 259.5 314.0 258.4 314.6 258.0 315.5 257.4 316.7 256.5 317.0 256.3 318.5 255.2 318.8 255.0 320.0 254.1 321.1 253.5 321.5 253.2 323.0 252.5 324.0 252.0 324.5 251.8 326.0 251.2 327.5 250.5 327.5 250.5 329.0 249.7 330.1 249.0 330.5 248.6 331.5 247.5 332.0 246.8 332.3 246.0 332.7 244.5 333.0 243.0 333.1 241.5 333.2 240.0 333.4 238.5 333.5 237.5 333.6 237.0 333.8 235.5 334.2 234.0 334.7 232.5 335.0 231.8 335.3 231.0 336.1 229.5 336.5 228.9 337.1 228.0 338.0 226.8 338.3 226.5 339.5 225.2 339.7 225.0 341.0 223.7 341.2 223.5 342.5 222.1 342.6 222.0 343.9 220.5 344.0 220.4 345.2 219.0 345.5 218.6 346.5 217.5 347.0 217.0 348.0 216.0 348.5 215.5 349.9 214.5ZM416.0 287.9 417.5 287.3 419.0 286.8 420.5 286.5 422.0 286.6 423.5 286.8 425.0 287.3 425.4 288.0 425.8 289.5 426.4 291.0 426.5 291.3 427.1 292.5 427.8 294.0 428.0 294.3 428.7 295.5 429.5 296.6 429.8 297.0 431.0 298.5 431.0 298.5 432.4 300.0 432.5 300.1 433.9 301.5 434.0 301.6 435.4 303.0 435.5 303.1 437.0 304.5 437.0 304.5 438.5 305.7 438.9 306.0 440.0 306.8 441.2 307.5 441.5 307.7 443.0 309.0 443.0 309.0 444.5 310.2 444.9 310.5 446.0 311.3 447.2 312.0 447.5 312.2 449.0 312.9 450.2 313.5 450.5 313.6 452.0 314.2 453.5 314.6 454.9 315.0 455.0 315.0 456.5 315.3 458.0 315.5 459.5 315.7 461.0 316.1 462.4 316.5 462.5 316.5 464.0 317.1 464.8 318.0 465.5 318.7 466.2 319.5 467.0 320.2 467.9 321.0 468.5 321.4 470.0 322.0 471.5 322.3 473.0 322.3 474.5 322.1 476.0 321.9 477.5 321.7 479.0 321.5 480.5 321.5 482.0 321.7 483.5 322.1 484.6 322.5 485.0 322.6 486.5 323.3 488.0 324.0 488.1 324.0 489.5 324.7 491.0 325.3 491.4 325.5 492.5 326.0 494.0 326.5 495.5 327.0 495.7 327.0 497.0 327.3 498.5 327.4 500.0 327.3 501.3 327.0 501.5 327.0 503.0 326.4 504.5 325.9 505.7 325.5 506.0 325.4 507.5 324.9 509.0 324.6 510.5 324.3 512.0 324.0 512.1 324.0 513.5 323.8 515.0 323.6 516.5 323.5 518.0 323.4 519.5 323.4 521.0 323.3 522.5 323.3 524.0 323.3 525.5 323.3 527.0 323.2 528.5 323.2 530.0 323.0 531.5 322.8 532.6 322.5 533.0 322.4 534.5 321.9 536.0 321.4 537.3 321.0 537.5 320.9 539.0 320.4 540.5 319.9 541.8 319.5 542.0 319.4 543.5 319.0 545.0 318.5 546.5 318.1 546.9 318.0 548.0 317.7 549.5 317.3 551.0 317.0 552.5 316.6 553.1 316.5 554.0 316.3 555.5 316.0 557.0 315.7 558.5 315.4 560.0 315.2 560.9 315.0 561.5 314.9 563.0 314.6 564.5 314.3 566.0 314.0 567.5 313.6 567.8 313.5 569.0 313.1 570.5 312.2 570.8 312.0 572.0 310.6 572.1 310.5 573.1 309.0 573.5 308.4 574.3 307.5 575.0 306.8 576.2 306.0 576.5 305.8 578.0 305.0 579.0 304.5 579.5 304.3 581.0 303.5 582.0 303.0 582.5 302.7 584.0 301.7 584.3 301.5 585.5 300.5 586.1 300.0 587.0 299.1 587.6 298.5 588.5 297.5 589.0 297.0 590.0 295.7 590.2 295.5 590.7 294.7 591.5 295.5 591.5 297.0 591.5 298.5 591.5 300.0 591.5 301.5 591.5 302.0 590.3 303.0 590.0 303.2 588.5 304.3 588.2 304.5 587.0 305.3 585.9 306.0 585.5 306.2 584.0 307.0 583.0 307.5 582.5 307.8 581.0 308.4 579.6 309.0 579.5 309.0 578.0 309.7 576.6 310.5 576.5 310.6 575.2 312.0 575.0 312.3 574.0 313.5 573.5 314.0 572.3 315.0 572.0 315.2 570.5 316.0 569.2 316.5 569.0 316.6 567.5 317.1 566.0 317.6 564.7 318.0 564.5 318.1 563.0 318.5 561.5 318.8 560.0 319.2 558.5 319.5 558.5 319.5 557.0 319.8 555.5 320.1 554.0 320.4 552.5 320.7 551.2 321.0 551.0 321.0 549.5 321.4 548.0 321.8 546.5 322.1 545.0 322.5 545.0 322.5 543.5 322.9 542.0 323.3 540.5 323.7 539.2 324.0 539.0 324.1 537.5 324.4 536.0 324.8 534.5 325.1 533.0 325.4 532.5 325.5 531.5 325.7 530.0 325.8 528.5 326.0 527.0 326.1 525.5 326.1 524.0 326.2 522.5 326.2 521.0 326.2 519.5 326.3 518.0 326.3 516.5 326.4 515.0 326.5 513.5 326.6 512.0 326.8 510.8 327.0 510.5 327.0 509.0 327.4 507.5 328.0 506.2 328.5 506.0 328.6 504.5 329.3 503.1 330.0 503.0 330.0 501.5 330.6 500.0 331.0 498.5 331.1 497.0 331.0 495.5 330.8 494.0 330.4 492.6 330.0 492.5 330.0 491.0 329.4 489.5 328.7 489.0 328.5 488.0 328.0 486.5 327.3 486.0 327.0 485.0 326.5 483.5 325.9 482.6 325.5 482.0 325.3 480.5 324.9 479.0 324.8 477.5 325.0 476.0 325.1 474.5 325.3 473.0 325.3 471.5 325.2 470.0 324.9 468.5 324.4 467.8 324.0 467.0 323.6 465.5 322.5 465.5 322.5 464.0 321.3 463.7 321.0 462.5 320.0 461.8 319.5 461.0 318.9 459.5 318.3 458.0 318.0 457.7 318.0 456.5 317.8 455.0 317.6 453.5 317.2 452.0 316.8 451.1 316.5 450.5 316.3 449.0 315.7 447.5 315.0 447.5 315.0 446.0 314.2 444.9 313.5 444.5 313.3 443.0 312.2 442.7 312.0 441.5 311.0 440.9 310.5 440.0 309.8 438.9 309.0 438.5 308.8 437.0 307.7 436.7 307.5 435.5 306.5 434.9 306.0 434.0 305.2 433.3 304.5 432.5 303.7 431.8 303.0 431.0 302.2 430.3 301.5 429.5 300.6 429.0 300.0 428.0 298.8 427.8 298.5 426.7 297.0 426.5 296.6 425.8 295.5 425.0 294.0 425.0 294.0 424.3 292.5 423.7 291.0 423.5 290.6 422.0 290.3 420.5 290.4 419.0 290.7 417.9 291.0 417.5 291.1 416.0 291.8 414.5 292.5 414.5 292.5 413.0 293.3 411.8 294.0 411.5 294.2 410.0 295.2 409.6 295.5 408.5 296.5 408.0 297.0 407.0 298.2 406.8 298.5 405.8 300.0 405.5 300.6 405.2 301.5 404.5 303.0 404.0 303.8 403.7 304.5 402.9 306.0 402.5 306.8 402.2 307.5 401.5 309.0 401.0 310.0 400.8 310.5 399.9 312.0 399.5 312.6 398.9 313.5 398.0 314.9 397.9 315.0 396.9 316.5 396.5 317.1 395.8 318.0 395.0 319.1 394.7 319.5 393.5 321.0 393.5 321.0 392.2 322.5 392.0 322.8 390.9 324.0 390.5 324.4 390.0 325.0 389.0 324.0 387.5 322.5 386.0 321.0 385.1 320.1 385.7 319.5 386.0 319.2 387.1 318.0 387.5 317.6 388.5 316.5 389.0 316.0 389.9 315.0 390.5 314.5 391.4 313.5 392.0 313.1 393.3 312.0 393.5 311.8 394.9 310.5 395.0 310.4 396.4 309.0 396.5 308.9 397.8 307.5 398.0 307.3 399.0 306.0 399.5 305.3 400.0 304.5 401.0 303.0 401.0 302.9 401.7 301.5 402.4 300.0 402.5 299.8 403.0 298.5 403.5 297.0 404.0 295.5 404.0 295.5 405.5 294.0 405.5 294.0 407.0 292.8 407.4 292.5 408.5 291.7 409.7 291.0 410.0 290.8 411.5 290.0 412.6 289.5 413.0 289.3 414.5 288.6 415.7 288.0ZM312.5 322.2 314.0 321.9 315.5 321.6 317.0 321.5 318.5 321.5 320.0 321.6 321.5 321.8 323.0 322.1 324.5 322.5 324.6 322.5 326.0 323.0 327.5 323.6 328.5 324.0 329.0 324.2 330.5 325.0 331.5 325.5 332.0 325.8 333.5 326.6 334.2 327.0 335.0 327.4 336.5 328.2 337.0 328.5 338.0 329.0 339.5 329.7 340.2 330.0 341.0 330.3 342.5 330.9 344.0 331.5 344.1 331.5 345.5 331.9 346.3 332.2 345.5 333.0 344.0 334.5 342.5 336.0 341.2 337.3 341.0 337.2 339.5 336.6 338.3 336.0 338.0 335.9 336.5 335.1 335.3 334.5 335.0 334.3 333.5 333.5 332.7 333.0 332.0 332.6 330.5 331.7 330.1 331.5 329.0 330.9 327.5 330.0 327.5 330.0 326.0 329.2 324.5 328.5 324.4 328.5 323.0 328.0 321.5 327.6 320.0 327.3 318.5 327.3 317.0 327.4 315.5 327.7 314.0 328.0 312.5 328.5 312.5 328.5 311.0 329.1 309.5 329.7 308.8 330.0 308.0 330.4 306.5 331.1 306.2 331.2 305.0 330.0 305.0 328.5 303.5 327.0 302.3 325.8 303.2 325.5 303.5 325.4 305.0 324.8 306.5 324.2 307.0 324.0 308.0 323.6 309.5 323.1 311.0 322.6 311.4 322.5Z"/>
<path fill="#98ff67" stroke="#98ff67" stroke-width="0.6" fill-rule="evenodd" d="M363.5 203.9 365.0 203.9 366.5 203.9 367.9 204.0 368.0 204.0 369.5 204.1 371.0 204.2 372.5 204.3 374.0 204.4 375.5 204.4 377.0 204.4 378.5 204.3 380.0 204.4 381.5 204.4 383.0 204.5 384.5 204.6 386.0 204.7 387.5 204.8 389.0 204.8 390.5 204.9 392.0 204.9 393.5 204.9 395.0 204.9 396.5 204.9 398.0 204.9 399.5 204.8 401.0 204.8 402.5 204.7 404.0 204.7 405.5 204.7 407.0 204.7 408.5 204.8 410.0 205.1 411.2 205.5 411.5 205.6 413.0 206.7 413.3 207.0 414.5 208.4 414.6 208.5 415.8 210.0 416.0 210.2 417.4 211.5 417.5 211.6 419.0 212.5 419.9 213.0 420.5 213.3 422.0 213.9 423.3 214.5 423.5 214.6 425.0 215.3 426.3 216.0 426.5 216.1 428.0 216.9 429.2 217.5 429.5 217.7 431.0 218.4 432.1 219.0 432.5 219.2 434.0 219.9 435.5 220.5 435.5 220.5 437.0 221.0 438.5 221.4 440.0 221.7 441.5 221.8 443.0 221.9 444.5 221.9 446.0 221.9 447.5 222.0 448.5 222.0 449.0 222.0 450.5 222.1 452.0 222.1 452.3 222.0 453.5 221.7 455.0 221.4 456.5 221.1 458.0 221.0 459.5 220.9 461.0 220.6 461.3 220.5 462.5 220.2 464.0 219.9 465.5 219.6 467.0 219.5 468.5 219.4 470.0 219.3 471.5 219.3 473.0 219.3 474.5 219.3 476.0 219.3 477.5 219.4 479.0 219.5 480.5 219.6 482.0 219.9 483.5 220.2 484.7 220.5 485.0 220.6 486.5 220.9 488.0 221.0 489.5 221.1 491.0 221.4 492.5 221.7 493.7 222.0 494.0 222.1 495.5 222.6 497.0 223.1 498.0 223.5 498.5 223.7 500.0 224.5 501.0 225.0 501.5 225.2 503.0 226.0 504.0 226.5 504.5 226.7 506.0 227.5 507.0 228.0 507.5 228.3 509.0 229.2 509.6 229.5 510.5 229.8 512.0 229.8 513.5 229.8 514.5 229.5 515.0 229.3 516.5 228.4 517.5 228.0 518.0 227.7 519.5 227.2 521.0 226.8 522.5 226.5 522.8 226.5 524.0 226.4 525.3 226.3 525.5 226.5 527.0 228.0 527.0 229.5 527.3 229.8 527.0 229.7 525.6 229.5 525.5 229.5 524.0 229.4 522.5 229.5 522.3 229.5 521.0 229.7 519.5 230.1 518.0 230.6 517.3 231.0 516.5 231.4 515.0 232.3 513.5 232.3 512.0 232.3 510.5 232.3 509.0 232.3 507.5 231.2 507.1 231.0 506.0 230.3 504.5 229.5 504.5 229.5 503.0 228.8 501.5 228.0 501.5 228.0 500.0 227.3 498.5 226.5 498.5 226.5 497.0 225.8 495.5 225.2 494.9 225.0 494.0 224.7 492.5 224.3 491.0 223.9 489.5 223.7 488.3 223.5 488.0 223.5 486.5 223.4 485.0 223.2 483.5 222.8 482.0 222.4 480.5 222.2 479.3 222.0 479.0 222.0 477.5 221.9 476.0 221.8 474.5 221.8 473.0 221.8 471.5 221.8 470.0 221.8 468.5 221.9 467.0 222.0 466.7 222.0 465.5 222.2 464.0 222.4 462.5 222.8 461.0 223.2 459.5 223.4 458.0 223.5 457.7 223.5 456.5 223.7 455.0 223.9 453.5 224.3 452.0 224.7 451.1 225.0 450.5 225.2 449.0 225.5 447.5 225.4 446.0 225.3 444.5 225.2 443.0 225.1 441.7 225.0 441.5 225.0 440.0 224.8 438.5 224.7 437.0 224.4 435.5 224.1 434.0 223.7 433.3 223.5 432.5 223.3 431.0 222.7 429.5 222.1 429.3 222.0 428.0 221.4 426.5 220.7 426.2 220.5 425.0 219.9 423.5 219.1 423.3 219.0 422.0 218.4 420.5 217.8 419.6 217.5 419.0 217.3 417.5 217.0 416.0 216.8 414.5 216.6 413.0 216.4 411.5 216.2 410.2 216.0 410.0 216.0 408.5 215.8 407.0 215.6 405.5 215.6 404.0 215.6 402.5 215.7 401.0 215.8 399.5 215.9 398.0 215.9 396.5 215.9 395.0 215.8 393.5 215.8 392.0 215.7 390.5 215.7 389.0 215.6 387.5 215.5 386.0 215.3 384.5 215.2 383.0 215.1 381.5 215.0 380.0 215.0 378.5 214.9 377.0 214.9 375.5 214.9 374.0 214.9 372.5 214.9 371.0 214.9 369.5 214.9 368.0 214.9 366.5 214.9 365.0 214.9 363.5 214.9 362.0 214.8 360.5 214.6 359.8 214.5 359.0 214.4 357.5 214.1 356.0 213.8 354.5 213.6 353.0 213.6 351.5 213.8 350.0 214.4 349.9 214.5 348.5 215.5 348.0 216.0 347.0 217.0 346.5 217.5 345.5 218.6 345.2 219.0 344.0 220.4 343.9 220.5 342.6 222.0 342.5 222.1 341.2 223.5 341.0 223.7 339.7 225.0 339.5 225.2 338.3 226.5 338.0 226.8 337.1 228.0 336.5 228.9 336.1 229.5 335.3 231.0 335.0 231.8 334.7 232.5 334.2 234.0 333.8 235.5 333.6 237.0 333.5 237.5 333.4 238.5 333.2 240.0 333.1 241.5 333.0 243.0 332.7 244.5 332.3 246.0 332.0 246.8 331.5 247.5 330.5 248.6 330.1 249.0 329.0 249.7 327.5 250.5 327.5 250.5 326.0 251.2 324.5 251.8 324.0 252.0 323.0 252.5 321.5 253.2 321.1 253.5 320.0 254.1 318.8 255.0 318.5 255.2 317.0 256.3 316.7 256.5 315.5 257.4 314.6 258.0 314.0 258.4 312.5 259.5 312.5 259.5 311.0 260.6 310.5 261.0 309.5 261.9 308.8 262.5 308.0 263.5 307.7 264.0 307.0 265.5 306.5 266.7 306.4 267.0 305.8 268.5 305.0 269.8 304.9 270.0 303.6 271.5 303.5 271.6 302.0 272.7 301.4 273.0 300.5 273.4 299.0 274.0 297.8 274.5 297.5 274.6 296.0 275.2 294.6 276.0 294.5 276.1 293.0 277.2 292.7 277.5 291.5 278.9 291.4 279.0 290.1 280.5 290.0 280.6 288.5 281.3 287.0 281.7 285.5 281.5 284.0 280.6 283.8 280.5 282.7 279.0 282.5 278.3 282.3 277.5 282.2 276.0 282.1 274.5 281.8 273.0 281.0 271.5 281.0 271.5 279.5 270.9 278.0 271.0 276.5 271.3 275.8 271.5 275.0 271.7 273.5 272.1 272.0 272.5 270.5 273.0 270.4 273.0 269.0 273.5 267.5 274.0 266.2 274.5 266.0 274.6 264.5 275.3 263.3 276.0 263.0 276.2 261.5 277.2 261.1 277.5 260.0 278.4 259.4 279.0 258.5 280.1 258.2 280.5 257.4 282.0 257.0 282.9 256.8 283.5 256.3 285.0 255.9 286.5 255.7 288.0 255.5 288.9 255.4 289.5 255.2 291.0 254.9 292.5 254.7 294.0 254.4 295.5 254.2 297.0 254.0 298.1 253.9 298.5 253.8 300.0 253.6 301.5 253.4 303.0 253.2 304.5 253.0 306.0 252.8 307.5 252.6 309.0 252.5 309.5 252.4 310.5 252.1 312.0 251.8 313.5 251.6 315.0 251.5 316.5 251.6 318.0 251.8 319.5 252.3 321.0 252.5 321.4 253.0 322.5 254.0 324.0 254.0 324.0 255.1 325.5 255.5 326.0 256.4 327.0 257.0 327.7 257.8 328.5 258.5 329.2 259.4 330.0 258.5 330.0 257.0 330.0 255.5 330.0 254.0 330.0 252.5 330.0 251.0 330.0 250.9 330.1 250.9 330.0 249.9 328.5 249.5 327.9 248.9 327.0 248.0 325.5 248.0 325.4 247.2 324.0 246.5 322.5 246.5 322.5 245.9 321.0 245.5 319.5 245.3 318.0 245.2 316.5 245.2 315.0 245.4 313.5 245.7 312.0 246.1 310.5 246.5 309.1 246.5 309.0 246.9 307.5 247.3 306.0 247.8 304.5 248.0 303.6 248.1 303.0 248.5 301.5 248.8 300.0 249.1 298.5 249.2 297.0 249.4 295.5 249.5 294.8 249.6 294.0 249.8 292.5 249.9 291.0 250.0 289.5 250.0 288.0 250.0 286.5 250.1 285.0 250.2 283.5 250.5 282.0 250.9 280.5 251.0 280.3 251.6 279.0 252.5 277.7 252.6 277.5 253.9 276.0 254.0 275.9 255.4 274.5 255.5 274.4 257.0 273.2 257.2 273.0 258.5 272.0 259.3 271.5 260.0 271.0 261.5 270.1 261.8 270.0 263.0 269.4 264.5 268.6 264.8 268.5 266.0 267.9 267.5 267.2 268.0 267.0 269.0 266.6 270.5 265.9 271.5 265.5 272.0 265.3 273.5 264.7 275.0 264.2 275.8 264.0 276.5 263.8 278.0 263.5 279.5 263.2 281.0 263.0 282.5 262.8 284.0 262.6 284.6 262.5 285.5 262.4 287.0 262.1 288.5 261.8 290.0 261.3 290.7 261.0 291.5 260.7 293.0 260.0 293.7 259.5 294.5 259.1 296.0 258.1 296.2 258.0 297.5 257.3 299.0 256.6 299.4 256.5 300.5 256.1 302.0 255.6 303.5 255.1 303.8 255.0 305.0 254.5 306.5 253.7 306.8 253.5 308.0 252.7 308.9 252.0 309.5 251.5 310.6 250.5 311.0 250.1 312.0 249.0 312.5 248.5 313.4 247.5 314.0 246.8 314.8 246.0 315.5 245.2 316.1 244.5 317.0 243.5 317.4 243.0 318.5 241.7 318.7 241.5 319.9 240.0 320.0 239.8 320.9 238.5 321.5 237.5 321.8 237.0 322.6 235.5 323.0 234.8 323.4 234.0 324.2 232.5 324.5 231.9 325.0 231.0 325.8 229.5 326.0 229.2 326.7 228.0 327.5 226.9 327.7 226.5 328.9 225.0 329.0 224.8 330.1 223.5 330.5 223.1 331.6 222.0 332.0 221.6 333.3 220.5 333.5 220.3 335.0 219.1 335.1 219.0 336.5 217.9 336.9 217.5 338.0 216.6 338.6 216.0 339.5 215.1 340.1 214.5 341.0 213.7 341.7 213.0 342.5 212.2 343.2 211.5 344.0 210.8 345.0 210.0 345.5 209.6 347.0 208.6 347.3 208.5 348.5 207.9 350.0 207.4 351.5 207.0 351.6 207.0 353.0 206.7 354.5 206.4 356.0 206.0 357.4 205.5 357.5 205.5 359.0 204.9 360.5 204.4 362.0 204.0 362.0 204.0ZM419.0 290.7 420.5 290.4 422.0 290.3 423.5 290.6 423.7 291.0 424.3 292.5 425.0 294.0 425.0 294.0 425.8 295.5 426.5 296.6 426.7 297.0 427.8 298.5 428.0 298.8 429.0 300.0 429.5 300.6 430.3 301.5 431.0 302.2 431.8 303.0 432.5 303.7 433.3 304.5 434.0 305.2 434.9 306.0 435.5 306.5 436.7 307.5 437.0 307.7 438.5 308.8 438.9 309.0 440.0 309.8 440.9 310.5 441.5 311.0 442.7 312.0 443.0 312.2 444.5 313.3 444.9 313.5 446.0 314.2 447.5 315.0 447.5 315.0 449.0 315.7 450.5 316.3 451.1 316.5 452.0 316.8 453.5 317.2 455.0 317.6 456.5 317.8 457.7 318.0 458.0 318.0 459.5 318.3 461.0 318.9 461.8 319.5 462.5 320.0 463.7 321.0 464.0 321.3 465.5 322.5 465.5 322.5 467.0 323.6 467.8 324.0 468.5 324.4 470.0 324.9 471.5 325.2 473.0 325.3 474.5 325.3 476.0 325.1 477.5 325.0 479.0 324.8 480.5 324.9 482.0 325.3 482.6 325.5 483.5 325.9 485.0 326.5 486.0 327.0 486.5 327.3 488.0 328.0 489.0 328.5 489.5 328.7 491.0 329.4 492.5 330.0 492.6 330.0 494.0 330.4 495.5 330.8 497.0 331.0 498.5 331.1 500.0 331.0 501.5 330.6 503.0 330.0 503.1 330.0 504.5 329.3 506.0 328.6 506.2 328.5 507.5 328.0 509.0 327.4 510.5 327.0 510.8 327.0 512.0 326.8 513.5 326.6 515.0 326.5 516.5 326.4 518.0 326.3 519.5 326.3 521.0 326.2 522.5 326.2 524.0 326.2 525.5 326.1 527.0 326.1 528.5 326.0 530.0 325.8 531.5 325.7 532.5 325.5 533.0 325.4 534.5 325.1 536.0 324.8 537.5 324.4 539.0 324.1 539.2 324.0 540.5 323.7 542.0 323.3 543.5 322.9 545.0 322.5 545.0 322.5 546.5 322.1 548.0 321.8 549.5 321.4 551.0 321.0 551.2 321.0 552.5 320.7 554.0 320.4 555.5 320.1 557.0 319.8 558.5 319.5 558.5 319.5 560.0 319.2 561.5 318.8 563.0 318.5 564.5 318.1 564.7 318.0 566.0 317.6 567.5 317.1 569.0 316.6 569.2 316.5 570.5 316.0 572.0 315.2 572.3 315.0 573.5 314.0 574.0 313.5 575.0 312.3 575.2 312.0 576.5 310.6 576.6 310.5 578.0 309.7 579.5 309.0 579.6 309.0 581.0 308.4 582.5 307.8 583.0 307.5 584.0 307.0 585.5 306.2 585.9 306.0 587.0 305.3 588.2 304.5 588.5 304.3 590.0 303.2 590.3 303.0 591.5 302.0 591.5 303.0 591.5 304.5 591.5 306.0 591.5 307.5 590.0 309.0 590.1 309.1 590.0 309.1 588.5 310.1 587.8 310.5 587.0 311.0 585.5 312.0 585.4 312.0 584.0 313.0 583.2 313.5 582.5 314.1 581.3 315.0 581.0 315.2 579.5 316.5 579.5 316.5 578.0 317.5 576.9 318.0 576.5 318.2 575.0 318.7 573.5 319.1 572.0 319.5 571.9 319.5 570.5 319.9 569.0 320.4 567.5 321.0 567.4 321.0 566.0 321.5 564.5 322.0 563.0 322.4 562.8 322.5 561.5 322.8 560.0 323.2 558.5 323.5 557.0 323.8 556.1 324.0 555.5 324.1 554.0 324.4 552.5 324.7 551.0 325.1 549.5 325.4 548.8 325.5 548.0 325.7 546.5 325.9 545.0 326.2 543.5 326.5 542.0 326.8 540.9 327.0 540.5 327.1 539.0 327.4 537.5 327.6 536.0 327.9 534.5 328.1 533.0 328.3 531.5 328.4 530.7 328.5 530.0 328.6 528.5 328.7 527.0 328.8 525.5 328.9 524.0 329.0 522.5 329.0 521.0 329.1 519.5 329.1 518.0 329.2 516.5 329.3 515.0 329.3 513.5 329.5 512.0 329.6 510.5 329.9 510.1 330.0 509.0 330.4 507.5 331.1 506.7 331.5 506.0 331.9 504.5 332.6 503.6 333.0 503.0 333.2 501.5 333.7 500.0 334.1 498.5 334.2 497.0 334.3 495.5 334.2 494.0 333.9 492.5 333.6 491.0 333.2 490.5 333.0 489.5 332.6 488.9 332.4 488.0 331.5 486.5 330.0 485.0 330.0 483.5 330.0 483.3 330.0 482.0 329.5 480.5 329.0 479.0 328.8 477.5 328.6 476.0 328.6 474.5 328.5 473.9 328.5 473.0 328.4 471.5 328.2 470.0 327.9 468.5 327.4 467.8 327.0 467.0 326.6 465.5 325.7 465.2 325.5 464.0 324.7 463.1 324.0 462.5 323.5 461.1 322.5 461.0 322.5 459.5 321.6 458.0 321.0 458.0 321.0 456.5 320.6 455.0 320.3 453.5 320.0 452.0 319.5 451.7 319.5 450.5 319.3 449.0 318.8 447.6 318.0 447.5 317.9 446.0 317.3 445.0 316.5 444.5 316.2 443.0 315.4 442.6 315.0 441.5 314.2 440.6 313.5 440.0 313.0 438.8 312.0 438.5 311.7 437.0 310.8 436.6 310.5 435.5 309.7 434.6 309.0 434.0 308.5 432.8 307.5 432.5 307.2 431.3 306.0 431.0 305.7 429.8 304.5 429.5 304.2 428.3 303.0 428.0 302.7 427.0 301.5 426.5 300.9 425.8 300.0 425.0 298.9 424.7 298.5 423.8 297.0 423.5 296.5 422.4 295.5 422.0 295.1 420.5 295.3 419.6 295.5 419.0 295.6 417.5 296.2 416.0 296.9 415.9 297.0 414.5 297.9 413.6 298.5 413.0 299.1 412.1 300.0 411.5 300.7 411.0 301.5 410.2 303.0 410.0 303.4 409.5 304.5 408.9 306.0 408.5 306.8 408.2 307.5 407.6 309.0 407.0 310.2 406.9 310.5 406.2 312.0 405.5 313.3 405.4 313.5 404.6 315.0 404.0 316.1 403.8 316.5 403.0 318.0 402.5 318.8 402.1 319.5 401.3 321.0 401.0 321.5 400.4 322.5 399.5 324.0 399.5 324.0 398.5 325.5 398.0 326.1 397.3 327.0 396.5 328.1 396.1 328.5 395.0 329.8 394.9 329.9 393.5 328.5 392.0 327.0 390.5 325.5 390.0 325.0 390.5 324.4 390.9 324.0 392.0 322.8 392.2 322.5 393.5 321.0 393.5 321.0 394.7 319.5 395.0 319.1 395.8 318.0 396.5 317.1 396.9 316.5 397.9 315.0 398.0 314.9 398.9 313.5 399.5 312.6 399.9 312.0 400.8 310.5 401.0 310.0 401.5 309.0 402.2 307.5 402.5 306.8 402.9 306.0 403.7 304.5 404.0 303.8 404.5 303.0 405.2 301.5 405.5 300.6 405.8 300.0 406.8 298.5 407.0 298.2 408.0 297.0 408.5 296.5 409.6 295.5 410.0 295.2 411.5 294.2 411.8 294.0 413.0 293.3 414.5 292.5 414.5 292.5 416.0 291.8 417.5 291.1 417.9 291.0ZM314.0 328.0 315.5 327.7 317.0 327.4 318.5 327.3 320.0 327.3 321.5 327.6 323.0 328.0 324.4 328.5 324.5 328.5 326.0 329.2 327.5 330.0 327.5 330.0 329.0 330.9 330.1 331.5 330.5 331.7 332.0 332.6 332.7 333.0 333.5 333.5 335.0 334.3 335.3 334.5 336.5 335.1 338.0 335.9 338.3 336.0 339.5 336.6 341.0 337.2 341.2 337.3 341.0 337.5 339.5 339.0 338.0 339.0 336.5 339.0 335.0 340.5 333.8 341.7 333.5 341.5 332.0 340.7 331.6 340.5 330.5 339.9 329.0 339.0 328.9 339.0 327.5 338.2 326.2 337.5 326.0 337.4 324.5 336.7 323.0 336.0 323.0 336.0 321.5 335.5 320.0 335.2 318.5 335.1 317.0 335.3 315.5 335.6 314.2 336.0 314.0 336.1 312.5 336.6 311.0 337.3 310.5 337.5 309.5 337.9 308.0 338.6 308.0 337.5 308.0 336.0 306.5 334.5 306.5 333.0 306.5 331.5 306.2 331.2 306.5 331.1 308.0 330.4 308.8 330.0 309.5 329.7 311.0 329.1 312.5 328.5 312.5 328.5Z"/>
<path fill="#c8ff37" stroke="#c8ff37" stroke-width="0.6" fill-rule="evenodd" d="M416.0 182.6 417.5 182.6 419.0 182.9 419.4 183.0 420.5 183.4 422.0 184.2 422.4 184.5 423.5 185.4 424.2 186.0 425.0 187.2 425.2 187.5 425.8 189.0 426.2 190.5 426.5 192.0 426.5 192.1 426.6 193.5 426.6 195.0 426.5 196.5 426.5 196.7 426.3 198.0 425.9 199.5 425.4 201.0 425.0 202.0 424.8 202.5 424.3 204.0 423.9 205.5 424.0 207.0 424.6 208.5 425.0 209.0 425.8 210.0 426.5 210.6 427.5 211.5 428.0 211.9 429.5 213.0 429.5 213.0 431.0 214.0 431.7 214.5 432.5 215.0 434.0 215.9 434.2 216.0 435.5 216.6 437.0 217.3 437.7 217.5 438.5 217.8 440.0 218.1 441.5 218.2 443.0 218.2 444.5 218.1 446.0 217.9 447.5 217.7 449.0 217.6 449.9 217.5 450.5 217.4 452.0 217.4 453.5 217.4 454.3 217.5 455.0 217.6 456.5 217.9 458.0 218.1 459.5 218.2 461.0 218.0 462.5 217.6 463.1 217.5 464.0 217.3 465.5 217.1 467.0 216.9 468.5 216.8 470.0 216.8 471.5 216.8 473.0 216.8 474.5 216.8 476.0 216.8 477.5 216.8 479.0 216.9 480.5 217.1 482.0 217.3 482.9 217.5 483.5 217.6 485.0 218.0 486.5 218.3 488.0 218.4 489.5 218.6 491.0 218.8 491.9 219.0 492.5 219.1 494.0 219.5 495.5 219.9 497.0 220.4 497.2 220.5 498.5 221.0 500.0 221.7 500.7 222.0 501.5 222.4 503.0 223.2 503.7 223.5 504.5 223.9 506.0 224.7 506.7 225.0 507.5 225.4 509.0 226.3 509.4 226.5 510.5 227.2 512.0 227.2 513.5 226.6 513.7 226.5 515.0 225.8 516.5 225.1 516.7 225.0 518.0 224.5 519.5 224.0 521.0 223.6 521.5 223.5 522.5 223.3 523.6 223.1 524.0 223.5 524.0 225.0 525.3 226.3 524.0 226.4 522.8 226.5 522.5 226.5 521.0 226.8 519.5 227.2 518.0 227.7 517.5 228.0 516.5 228.4 515.0 229.3 514.5 229.5 513.5 229.8 512.0 229.8 510.5 229.8 509.6 229.5 509.0 229.2 507.5 228.3 507.0 228.0 506.0 227.5 504.5 226.7 504.0 226.5 503.0 226.0 501.5 225.2 501.0 225.0 500.0 224.5 498.5 223.7 498.0 223.5 497.0 223.1 495.5 222.6 494.0 222.1 493.7 222.0 492.5 221.7 491.0 221.4 489.5 221.1 488.0 221.0 486.5 220.9 485.0 220.6 484.7 220.5 483.5 220.2 482.0 219.9 480.5 219.6 479.0 219.5 477.5 219.4 476.0 219.3 474.5 219.3 473.0 219.3 471.5 219.3 470.0 219.3 468.5 219.4 467.0 219.5 465.5 219.6 464.0 219.9 462.5 220.2 461.3 220.5 461.0 220.6 459.5 220.9 458.0 221.0 456.5 221.1 455.0 221.4 453.5 221.7 452.3 222.0 452.0 222.1 450.5 222.1 449.0 222.0 448.5 222.0 447.5 222.0 446.0 221.9 444.5 221.9 443.0 221.9 441.5 221.8 440.0 221.7 438.5 221.4 437.0 221.0 435.5 220.5 435.5 220.5 434.0 219.9 432.5 219.2 432.1 219.0 431.0 218.4 429.5 217.7 429.2 217.5 428.0 216.9 426.5 216.1 426.3 216.0 425.0 215.3 423.5 214.6 423.3 214.5 422.0 213.9 420.5 213.3 419.9 213.0 419.0 212.5 417.5 211.6 417.4 211.5 416.0 210.2 415.8 210.0 414.6 208.5 414.5 208.4 413.3 207.0 413.0 206.7 411.5 205.6 411.2 205.5 410.0 205.1 408.5 204.8 407.0 204.7 405.5 204.7 404.0 204.7 402.5 204.7 401.0 204.8 399.5 204.8 398.0 204.9 396.5 204.9 395.0 204.9 393.5 204.9 392.0 204.9 390.5 204.9 389.0 204.8 387.5 204.8 386.0 204.7 384.5 204.6 383.0 204.5 381.5 204.4 380.0 204.4 378.5 204.3 377.0 204.4 375.5 204.4 374.0 204.4 372.5 204.3 371.0 204.2 369.5 204.1 368.0 204.0 367.9 204.0 366.5 203.9 365.0 203.9 363.5 203.9 362.0 204.0 362.0 204.0 360.5 204.4 359.0 204.9 357.5 205.5 357.4 205.5 356.0 206.0 354.5 206.4 353.0 206.7 351.6 207.0 351.5 207.0 350.0 207.4 348.5 207.9 347.3 208.5 347.0 208.6 345.5 209.6 345.0 210.0 344.0 210.8 343.2 211.5 342.5 212.2 341.7 213.0 341.0 213.7 340.1 214.5 339.5 215.1 338.6 216.0 338.0 216.6 336.9 217.5 336.5 217.9 335.1 219.0 335.0 219.1 333.5 220.3 333.3 220.5 332.0 221.6 331.6 222.0 330.5 223.1 330.1 223.5 329.0 224.8 328.9 225.0 327.7 226.5 327.5 226.9 326.7 228.0 326.0 229.2 325.8 229.5 325.0 231.0 324.5 231.9 324.2 232.5 323.4 234.0 323.0 234.8 322.6 235.5 321.8 237.0 321.5 237.5 320.9 238.5 320.0 239.8 319.9 240.0 318.7 241.5 318.5 241.7 317.4 243.0 317.0 243.5 316.1 244.5 315.5 245.2 314.8 246.0 314.0 246.8 313.4 247.5 312.5 248.5 312.0 249.0 311.0 250.1 310.6 250.5 309.5 251.5 308.9 252.0 308.0 252.7 306.8 253.5 306.5 253.7 305.0 254.5 303.8 255.0 303.5 255.1 302.0 255.6 300.5 256.1 299.4 256.5 299.0 256.6 297.5 257.3 296.2 258.0 296.0 258.1 294.5 259.1 293.7 259.5 293.0 260.0 291.5 260.7 290.7 261.0 290.0 261.3 288.5 261.8 287.0 262.1 285.5 262.4 284.6 262.5 284.0 262.6 282.5 262.8 281.0 263.0 279.5 263.2 278.0 263.5 276.5 263.8 275.8 264.0 275.0 264.2 273.5 264.7 272.0 265.3 271.5 265.5 270.5 265.9 269.0 266.6 268.0 267.0 267.5 267.2 266.0 267.9 264.8 268.5 264.5 268.6 263.0 269.4 261.8 270.0 261.5 270.1 260.0 271.0 259.3 271.5 258.5 272.0 257.2 273.0 257.0 273.2 255.5 274.4 255.4 274.5 254.0 275.9 253.9 276.0 252.6 277.5 252.5 277.7 251.6 279.0 251.0 280.3 250.9 280.5 250.5 282.0 250.2 283.5 250.1 285.0 250.0 286.5 250.0 288.0 250.0 289.5 249.9 291.0 249.8 292.5 249.6 294.0 249.5 294.8 249.4 295.5 249.2 297.0 249.1 298.5 248.8 300.0 248.5 301.5 248.1 303.0 248.0 303.6 247.8 304.5 247.3 306.0 246.9 307.5 246.5 309.0 246.5 309.1 246.1 310.5 245.7 312.0 245.4 313.5 245.2 315.0 245.2 316.5 245.3 318.0 245.5 319.5 245.9 321.0 246.5 322.5 246.5 322.5 247.2 324.0 248.0 325.4 248.0 325.5 248.9 327.0 249.5 327.9 249.9 328.5 250.9 330.0 250.9 330.1 249.5 331.5 249.5 333.0 249.5 334.5 248.0 336.0 248.0 337.0 247.4 336.0 246.6 334.5 246.5 334.2 245.9 333.0 245.1 331.5 245.0 331.3 244.3 330.0 243.5 328.5 243.5 328.4 242.7 327.0 242.0 325.9 241.8 325.5 240.9 324.0 240.5 323.2 240.1 322.5 239.5 321.0 239.0 319.6 239.0 319.5 238.6 318.0 238.4 316.5 238.3 315.0 238.4 313.5 238.6 312.0 239.0 310.5 239.0 310.5 239.5 309.0 240.1 307.5 240.5 306.7 240.8 306.0 241.4 304.5 242.0 303.0 242.0 302.9 242.5 301.5 242.9 300.0 243.3 298.5 243.5 297.1 243.5 297.0 243.7 295.5 243.8 294.0 243.9 292.5 243.9 291.0 243.8 289.5 243.8 288.0 243.7 286.5 243.6 285.0 243.5 283.5 243.5 283.5 243.4 282.0 243.4 280.5 243.5 279.0 243.5 279.0 243.7 277.5 244.0 276.0 244.6 274.5 245.0 273.7 245.6 273.0 246.5 272.2 247.7 271.5 248.0 271.3 249.5 270.6 250.4 270.0 251.0 269.6 252.3 268.5 252.5 268.4 254.0 267.3 254.5 267.0 255.5 266.4 257.0 265.6 257.2 265.5 258.5 264.8 260.0 264.2 260.3 264.0 261.5 263.4 263.0 262.6 263.2 262.5 264.5 261.7 265.8 261.0 266.0 260.9 267.5 260.0 268.7 259.5 269.0 259.3 270.5 258.6 272.0 258.1 272.3 258.0 273.5 257.7 275.0 257.4 276.5 257.3 278.0 257.1 279.5 257.0 281.0 256.8 282.5 256.6 283.0 256.5 284.0 256.3 285.5 256.0 287.0 255.6 288.5 255.2 289.0 255.0 290.0 254.7 291.5 254.2 293.0 253.7 293.5 253.5 294.5 253.2 296.0 252.7 297.5 252.3 298.4 252.0 299.0 251.8 300.5 251.2 301.6 250.5 302.0 250.2 303.2 249.0 303.5 248.7 304.5 247.5 305.0 246.8 305.6 246.0 306.5 244.7 306.6 244.5 307.7 243.0 308.0 242.6 308.8 241.5 309.5 240.5 309.9 240.0 311.0 238.5 311.0 238.5 312.0 237.0 312.5 236.3 313.0 235.5 313.9 234.0 314.0 233.8 314.7 232.5 315.4 231.0 315.5 230.8 316.1 229.5 316.8 228.0 317.0 227.5 317.5 226.5 318.1 225.0 318.5 224.1 318.8 223.5 319.4 222.0 320.0 220.8 320.1 220.5 320.9 219.0 321.5 217.8 321.7 217.5 322.6 216.0 323.0 215.5 323.8 214.5 324.5 213.8 325.3 213.0 326.0 212.4 327.3 211.5 327.5 211.4 329.0 210.5 329.9 210.0 330.5 209.7 332.0 208.9 332.9 208.5 333.5 208.2 335.0 207.5 336.1 207.0 336.5 206.8 338.0 206.1 339.4 205.5 339.5 205.5 341.0 204.8 342.5 204.3 343.6 204.0 344.0 203.9 345.5 203.6 347.0 203.3 348.5 203.1 350.0 202.7 350.7 202.5 351.5 202.2 353.0 201.3 353.5 201.0 354.5 200.2 355.5 199.5 356.0 199.1 357.5 198.1 357.8 198.0 359.0 197.5 360.5 197.1 362.0 196.9 363.5 196.9 365.0 196.9 366.5 196.9 368.0 197.0 369.5 197.1 371.0 197.2 372.5 197.3 374.0 197.4 375.5 197.4 377.0 197.4 378.5 197.3 380.0 197.1 381.5 196.9 383.0 196.7 383.9 196.5 384.5 196.4 386.0 196.0 387.5 195.4 388.6 195.0 389.0 194.8 390.5 194.3 392.0 193.9 393.5 193.8 395.0 193.8 396.5 194.0 398.0 194.2 399.5 194.6 401.0 194.9 401.2 195.0 402.5 195.3 404.0 195.6 405.5 195.8 407.0 195.9 408.5 195.7 410.0 195.3 410.6 195.0 411.5 194.5 412.5 193.5 413.0 192.8 413.4 192.0 413.8 190.5 414.0 189.0 413.9 187.5 413.8 186.0 413.8 184.5 414.5 183.0 414.6 183.0ZM566.0 227.9 566.1 227.9 566.0 228.0 565.9 227.9ZM420.5 295.3 422.0 295.1 422.4 295.5 423.5 296.5 423.8 297.0 424.7 298.5 425.0 298.9 425.8 300.0 426.5 300.9 427.0 301.5 428.0 302.7 428.3 303.0 429.5 304.2 429.8 304.5 431.0 305.7 431.3 306.0 432.5 307.2 432.8 307.5 434.0 308.5 434.6 309.0 435.5 309.7 436.6 310.5 437.0 310.8 438.5 311.7 438.8 312.0 440.0 313.0 440.6 313.5 441.5 314.2 442.6 315.0 443.0 315.4 444.5 316.2 445.0 316.5 446.0 317.3 447.5 317.9 447.6 318.0 449.0 318.8 450.5 319.3 451.7 319.5 452.0 319.5 453.5 320.0 455.0 320.3 456.5 320.6 458.0 321.0 458.0 321.0 459.5 321.6 461.0 322.5 461.1 322.5 462.5 323.5 463.1 324.0 464.0 324.7 465.2 325.5 465.5 325.7 467.0 326.6 467.8 327.0 468.5 327.4 470.0 327.9 471.5 328.2 473.0 328.4 473.9 328.5 474.5 328.5 476.0 328.6 477.5 328.6 479.0 328.8 480.5 329.0 482.0 329.5 483.3 330.0 482.0 330.0 480.5 330.0 479.0 330.0 477.5 330.0 476.0 330.0 474.5 330.0 473.0 330.0 471.5 331.5 471.3 331.7 470.8 331.5 470.0 331.3 468.5 330.8 467.0 330.1 466.7 330.0 465.5 329.3 464.2 328.5 464.0 328.4 462.5 327.3 462.1 327.0 461.0 326.2 459.9 325.5 459.5 325.3 458.0 324.8 456.5 324.6 455.0 324.5 453.5 324.4 452.0 324.4 450.5 324.4 449.0 324.3 447.5 324.0 447.4 324.0 446.0 323.6 444.5 323.0 443.5 322.5 443.0 322.2 441.7 321.0 441.5 320.8 440.4 319.5 440.0 319.0 439.3 318.0 438.5 317.0 438.1 316.5 437.0 315.2 436.8 315.0 435.5 313.5 435.5 313.5 434.0 312.0 434.0 312.0 432.5 310.6 432.4 310.5 431.0 309.4 430.6 309.0 429.5 307.9 429.0 307.5 428.0 306.5 427.4 306.0 426.5 305.1 425.6 304.5 425.0 303.8 423.5 303.7 422.0 304.2 421.5 304.5 420.5 305.3 419.8 306.0 419.0 306.8 418.4 307.5 417.5 308.3 416.9 309.0 416.0 309.7 415.2 310.5 414.5 311.2 413.8 312.0 413.0 312.9 412.5 313.5 411.5 314.9 411.4 315.0 410.5 316.5 410.0 317.3 409.6 318.0 408.8 319.5 408.5 320.0 408.0 321.0 407.3 322.5 407.0 323.1 406.6 324.0 405.9 325.5 405.5 326.3 405.2 327.0 404.4 328.5 404.0 329.2 403.5 330.0 402.6 331.5 402.5 331.7 401.6 333.0 401.0 333.8 400.5 334.5 399.5 334.5 398.0 333.0 396.5 331.5 395.0 330.0 394.9 329.9 395.0 329.8 396.1 328.5 396.5 328.1 397.3 327.0 398.0 326.1 398.5 325.5 399.5 324.0 399.5 324.0 400.4 322.5 401.0 321.5 401.3 321.0 402.1 319.5 402.5 318.8 403.0 318.0 403.8 316.5 404.0 316.1 404.6 315.0 405.4 313.5 405.5 313.3 406.2 312.0 406.9 310.5 407.0 310.2 407.6 309.0 408.2 307.5 408.5 306.8 408.9 306.0 409.5 304.5 410.0 303.4 410.2 303.0 411.0 301.5 411.5 300.7 412.1 300.0 413.0 299.1 413.6 298.5 414.5 297.9 415.9 297.0 416.0 296.9 417.5 296.2 419.0 295.6 419.6 295.5ZM588.5 310.1 590.0 309.1 590.1 309.1 591.5 310.5 591.5 312.0 591.5 313.5 591.5 313.8 590.0 314.8 589.7 315.0 588.5 315.8 587.6 316.5 587.0 317.0 585.8 318.0 585.5 318.2 584.0 319.5 584.0 319.5 582.5 320.8 582.2 321.0 581.0 321.8 579.6 322.5 579.5 322.5 578.0 323.1 576.5 323.5 575.0 323.8 574.3 324.0 573.5 324.2 572.0 324.5 570.5 324.9 569.0 325.3 568.4 325.5 567.5 325.7 566.0 326.1 564.5 326.4 563.0 326.7 561.5 327.0 561.4 327.0 560.0 327.3 558.5 327.5 557.0 327.8 555.5 328.1 554.0 328.3 553.2 328.5 552.5 328.6 551.0 328.9 549.5 329.2 548.0 329.4 546.5 329.5 545.0 329.7 543.5 330.0 543.2 330.0 542.0 330.2 540.5 330.4 539.0 330.6 537.5 330.8 536.0 330.9 534.5 331.1 533.0 331.2 531.5 331.3 530.0 331.4 528.9 331.5 528.5 331.5 527.0 331.7 525.5 331.8 524.0 331.9 522.5 332.0 521.0 332.0 519.5 332.1 518.0 332.2 516.5 332.3 515.0 332.5 513.5 332.6 512.0 332.9 511.7 333.0 510.5 333.4 509.0 333.9 507.7 334.5 507.5 334.6 506.0 335.3 504.5 335.9 504.1 336.0 503.0 336.4 501.5 336.8 500.0 337.1 498.5 337.3 497.0 337.4 495.5 337.4 494.0 337.3 493.8 337.3 492.5 336.0 491.0 334.5 489.5 333.0 488.9 332.4 489.5 332.6 490.5 333.0 491.0 333.2 492.5 333.6 494.0 333.9 495.5 334.2 497.0 334.3 498.5 334.2 500.0 334.1 501.5 333.7 503.0 333.2 503.6 333.0 504.5 332.6 506.0 331.9 506.7 331.5 507.5 331.1 509.0 330.4 510.1 330.0 510.5 329.9 512.0 329.6 513.5 329.5 515.0 329.3 516.5 329.3 518.0 329.2 519.5 329.1 521.0 329.1 522.5 329.0 524.0 329.0 525.5 328.9 527.0 328.8 528.5 328.7 530.0 328.6 530.7 328.5 531.5 328.4 533.0 328.3 534.5 328.1 536.0 327.9 537.5 327.6 539.0 327.4 540.5 327.1 540.9 327.0 542.0 326.8 543.5 326.5 545.0 326.2 546.5 325.9 548.0 325.7 548.8 325.5 549.5 325.4 551.0 325.1 552.5 324.7 554.0 324.4 555.5 324.1 556.1 324.0 557.0 323.8 558.5 323.5 560.0 323.2 561.5 322.8 562.8 322.5 563.0 322.4 564.5 322.0 566.0 321.5 567.4 321.0 567.5 321.0 569.0 320.4 570.5 319.9 571.9 319.5 572.0 319.5 573.5 319.1 575.0 318.7 576.5 318.2 576.9 318.0 578.0 317.5 579.5 316.5 579.5 316.5 581.0 315.2 581.3 315.0 582.5 314.1 583.2 313.5 584.0 313.0 585.4 312.0 585.5 312.0 587.0 311.0 587.8 310.5ZM315.5 335.6 317.0 335.3 318.5 335.1 320.0 335.2 321.5 335.5 323.0 336.0 323.0 336.0 324.5 336.7 326.0 337.4 326.2 337.5 327.5 338.2 328.9 339.0 329.0 339.0 330.5 339.9 331.6 340.5 332.0 340.7 333.5 341.5 333.8 341.7 333.5 342.0 332.0 343.5 330.5 345.0 329.0 346.5 327.5 348.0 326.9 348.6 326.0 348.3 325.0 348.0 324.5 347.9 323.0 347.5 321.5 347.2 320.0 347.0 318.5 346.9 317.0 347.0 315.5 347.1 314.0 347.4 312.5 347.8 312.3 347.8 311.0 346.5 309.5 345.0 309.5 343.5 308.0 342.0 308.0 340.5 308.0 339.0 308.0 338.6 309.5 337.9 310.5 337.5 311.0 337.3 312.5 336.6 314.0 336.1 314.2 336.0Z"/>
<path fill="#f9ff06" stroke="#f9ff06" stroke-width="0.6" fill-rule="evenodd" d="M413.0 176.9 414.5 176.8 416.0 176.9 416.6 177.0 417.5 177.1 419.0 177.5 420.5 178.0 421.8 178.5 422.0 178.6 423.5 179.3 425.0 180.0 425.1 180.0 426.5 180.7 428.0 181.5 428.1 181.5 429.5 182.4 430.5 183.0 431.0 183.5 432.2 184.5 432.5 184.9 433.4 186.0 434.0 187.0 434.3 187.5 434.9 189.0 435.3 190.5 435.5 192.0 435.4 193.5 435.2 195.0 434.9 196.5 434.5 198.0 434.0 199.5 434.0 199.5 433.5 201.0 433.1 202.5 432.7 204.0 432.5 205.3 432.5 205.5 432.5 205.9 432.6 207.0 433.0 208.5 434.0 210.0 434.0 210.0 435.4 211.5 435.5 211.5 437.0 212.5 438.1 213.0 438.5 213.2 440.0 213.4 441.5 213.4 442.9 213.0 443.0 213.0 444.5 212.1 445.2 211.5 446.0 210.5 446.4 210.0 447.3 208.5 447.5 208.2 448.5 207.0 449.0 206.4 450.5 206.3 451.7 207.0 452.0 207.2 453.5 208.4 453.6 208.5 455.0 209.7 455.3 210.0 456.5 210.9 457.3 211.5 458.0 211.9 459.5 212.9 459.7 213.0 461.0 213.7 462.5 214.5 462.5 214.5 464.0 214.8 465.5 214.6 466.4 214.5 467.0 214.4 468.5 214.3 470.0 214.3 471.5 214.3 473.0 214.3 474.5 214.3 476.0 214.3 477.5 214.3 479.0 214.4 479.6 214.5 480.5 214.6 482.0 214.8 483.5 215.1 485.0 215.4 486.5 215.8 488.0 215.9 488.6 216.0 489.5 216.1 491.0 216.3 492.5 216.6 494.0 216.9 495.5 217.3 496.1 217.5 497.0 217.8 498.5 218.3 500.0 218.9 500.2 219.0 501.5 219.6 503.0 220.4 503.2 220.5 504.5 221.1 506.0 221.9 506.2 222.0 507.5 222.6 509.0 223.4 510.5 223.4 512.0 222.9 513.5 222.3 514.4 222.0 515.0 221.8 516.5 221.3 518.0 220.8 519.1 220.5 519.5 220.4 521.0 220.0 521.0 220.5 522.5 222.0 523.6 223.1 522.5 223.3 521.5 223.5 521.0 223.6 519.5 224.0 518.0 224.5 516.7 225.0 516.5 225.1 515.0 225.8 513.7 226.5 513.5 226.6 512.0 227.2 510.5 227.2 509.4 226.5 509.0 226.3 507.5 225.4 506.7 225.0 506.0 224.7 504.5 223.9 503.7 223.5 503.0 223.2 501.5 222.4 500.7 222.0 500.0 221.7 498.5 221.0 497.2 220.5 497.0 220.4 495.5 219.9 494.0 219.5 492.5 219.1 491.9 219.0 491.0 218.8 489.5 218.6 488.0 218.4 486.5 218.3 485.0 218.0 483.5 217.6 482.9 217.5 482.0 217.3 480.5 217.1 479.0 216.9 477.5 216.8 476.0 216.8 474.5 216.8 473.0 216.8 471.5 216.8 470.0 216.8 468.5 216.8 467.0 216.9 465.5 217.1 464.0 217.3 463.1 217.5 462.5 217.6 461.0 218.0 459.5 218.2 458.0 218.1 456.5 217.9 455.0 217.6 454.3 217.5 453.5 217.4 452.0 217.4 450.5 217.4 449.9 217.5 449.0 217.6 447.5 217.7 446.0 217.9 444.5 218.1 443.0 218.2 441.5 218.2 440.0 218.1 438.5 217.8 437.7 217.5 437.0 217.3 435.5 216.6 434.2 216.0 434.0 215.9 432.5 215.0 431.7 214.5 431.0 214.0 429.5 213.0 429.5 213.0 428.0 211.9 427.5 211.5 426.5 210.6 425.8 210.0 425.0 209.0 424.6 208.5 424.0 207.0 423.9 205.5 424.3 204.0 424.8 202.5 425.0 202.0 425.4 201.0 425.9 199.5 426.3 198.0 426.5 196.7 426.5 196.5 426.6 195.0 426.6 193.5 426.5 192.1 426.5 192.0 426.2 190.5 425.8 189.0 425.2 187.5 425.0 187.2 424.2 186.0 423.5 185.4 422.4 184.5 422.0 184.2 420.5 183.4 419.4 183.0 419.0 182.9 417.5 182.6 416.0 182.6 414.6 183.0 414.5 183.0 413.8 184.5 413.8 186.0 413.9 187.5 414.0 189.0 413.8 190.5 413.4 192.0 413.0 192.8 412.5 193.5 411.5 194.5 410.6 195.0 410.0 195.3 408.5 195.7 407.0 195.9 405.5 195.8 404.0 195.6 402.5 195.3 401.2 195.0 401.0 194.9 399.5 194.6 398.0 194.2 396.5 194.0 395.0 193.8 393.5 193.8 392.0 193.9 390.5 194.3 389.0 194.8 388.6 195.0 387.5 195.4 386.0 196.0 384.5 196.4 383.9 196.5 383.0 196.7 381.5 196.9 380.0 197.1 378.5 197.3 377.0 197.4 375.5 197.4 374.0 197.4 372.5 197.3 371.0 197.2 369.5 197.1 368.0 197.0 366.5 196.9 365.0 196.9 363.5 196.9 362.0 196.9 360.5 197.1 359.0 197.5 357.8 198.0 357.5 198.1 356.0 199.1 355.5 199.5 354.5 200.2 353.5 201.0 353.0 201.3 351.5 202.2 350.7 202.5 350.0 202.7 348.5 203.1 347.0 203.3 345.5 203.6 344.0 203.9 343.6 204.0 342.5 204.3 341.0 204.8 339.5 205.5 339.4 205.5 338.0 206.1 336.5 206.8 336.1 207.0 335.0 207.5 333.5 208.2 332.9 208.5 332.0 208.9 330.5 209.7 329.9 210.0 329.0 210.5 327.5 211.4 327.3 211.5 326.0 212.4 325.3 213.0 324.5 213.8 323.8 214.5 323.0 215.5 322.6 216.0 321.7 217.5 321.5 217.8 320.9 219.0 320.1 220.5 320.0 220.8 319.4 222.0 318.8 223.5 318.5 224.1 318.1 225.0 317.5 226.5 317.0 227.5 316.8 228.0 316.1 229.5 315.5 230.8 315.4 231.0 314.7 232.5 314.0 233.8 313.9 234.0 313.0 235.5 312.5 236.3 312.0 237.0 311.0 238.5 311.0 238.5 309.9 240.0 309.5 240.5 308.8 241.5 308.0 242.6 307.7 243.0 306.6 244.5 306.5 244.7 305.6 246.0 305.0 246.8 304.5 247.5 303.5 248.7 303.2 249.0 302.0 250.2 301.6 250.5 300.5 251.2 299.0 251.8 298.4 252.0 297.5 252.3 296.0 252.7 294.5 253.2 293.5 253.5 293.0 253.7 291.5 254.2 290.0 254.7 289.0 255.0 288.5 255.2 287.0 255.6 285.5 256.0 284.0 256.3 283.0 256.5 282.5 256.6 281.0 256.8 279.5 257.0 278.0 257.1 276.5 257.3 275.0 257.4 273.5 257.7 272.3 258.0 272.0 258.1 270.5 258.6 269.0 259.3 268.7 259.5 267.5 260.0 266.0 260.9 265.8 261.0 264.5 261.7 263.2 262.5 263.0 262.6 261.5 263.4 260.3 264.0 260.0 264.2 258.5 264.8 257.2 265.5 257.0 265.6 255.5 266.4 254.5 267.0 254.0 267.3 252.5 268.4 252.3 268.5 251.0 269.6 250.4 270.0 249.5 270.6 248.0 271.3 247.7 271.5 246.5 272.2 245.6 273.0 245.0 273.7 244.6 274.5 244.0 276.0 243.7 277.5 243.5 279.0 243.5 279.0 243.4 280.5 243.4 282.0 243.5 283.5 243.5 283.5 243.6 285.0 243.7 286.5 243.8 288.0 243.8 289.5 243.9 291.0 243.9 292.5 243.8 294.0 243.7 295.5 243.5 297.0 243.5 297.1 243.3 298.5 242.9 300.0 242.5 301.5 242.0 302.9 242.0 303.0 241.4 304.5 240.8 306.0 240.5 306.7 240.1 307.5 239.5 309.0 239.0 310.5 239.0 310.5 238.6 312.0 238.4 313.5 238.3 315.0 238.4 316.5 238.6 318.0 239.0 319.5 239.0 319.6 239.5 321.0 240.1 322.5 240.5 323.2 240.9 324.0 241.8 325.5 242.0 325.9 242.7 327.0 243.5 328.4 243.5 328.5 244.3 330.0 245.0 331.3 245.1 331.5 245.9 333.0 246.5 334.2 246.6 334.5 247.4 336.0 248.0 337.0 248.0 337.5 248.0 339.0 246.5 340.5 245.0 342.0 243.5 343.5 242.3 344.7 242.0 344.0 241.8 343.5 241.1 342.0 240.5 340.6 240.5 340.5 239.9 339.0 239.3 337.5 239.0 336.7 238.7 336.0 238.1 334.5 237.5 333.1 237.5 333.0 236.6 331.5 236.0 330.7 235.5 330.0 234.5 328.8 234.3 328.5 233.1 327.0 233.0 326.9 232.0 325.5 231.5 324.7 231.1 324.0 230.4 322.5 230.0 321.1 230.0 321.0 229.8 319.5 229.7 318.0 229.9 316.5 230.0 315.8 230.1 315.0 230.5 313.5 230.9 312.0 231.4 310.5 231.5 310.3 232.1 309.0 232.9 307.5 233.0 307.3 233.8 306.0 234.5 304.7 234.6 304.5 235.4 303.0 236.0 301.7 236.1 301.5 236.7 300.0 237.1 298.5 237.5 297.0 237.5 296.7 237.7 295.5 237.8 294.0 237.9 292.5 237.8 291.0 237.8 289.5 237.7 288.0 237.5 286.5 237.5 286.4 237.3 285.0 237.1 283.5 236.9 282.0 236.6 280.5 236.4 279.0 236.2 277.5 236.0 276.0 236.0 275.4 235.9 274.5 235.9 273.0 236.0 272.0 236.0 271.5 236.3 270.0 236.6 268.5 237.1 267.0 237.5 265.9 237.6 265.5 238.3 264.0 238.8 262.5 239.0 262.0 239.4 261.0 240.2 259.5 240.5 258.9 241.3 258.0 242.0 257.1 242.6 256.5 243.5 255.6 244.3 255.0 245.0 254.5 246.5 253.7 246.9 253.5 248.0 253.0 249.5 252.5 251.0 252.1 251.2 252.0 252.5 251.6 254.0 251.1 255.3 250.5 255.5 250.4 257.0 249.7 258.4 249.0 258.5 249.0 260.0 248.4 261.5 248.1 263.0 247.8 264.5 247.8 266.0 247.8 267.5 247.9 269.0 248.1 270.5 248.5 271.9 249.0 272.0 249.0 273.5 249.7 275.0 250.2 276.1 250.5 276.5 250.6 278.0 250.9 279.5 251.1 281.0 251.1 282.5 251.0 284.0 250.8 285.3 250.5 285.5 250.4 287.0 250.0 288.5 249.5 289.9 249.0 290.0 249.0 291.5 248.3 293.0 247.6 293.1 247.5 294.5 246.6 295.4 246.0 296.0 245.5 296.9 244.5 297.5 243.7 297.9 243.0 298.8 241.5 299.0 241.2 299.9 240.0 300.5 239.3 301.3 238.5 302.0 237.9 302.9 237.0 303.5 236.5 304.5 235.5 305.0 234.9 305.8 234.0 306.5 233.1 306.9 232.5 307.9 231.0 308.0 230.8 308.7 229.5 309.4 228.0 309.5 227.6 309.9 226.5 310.4 225.0 310.8 223.5 311.0 222.5 311.1 222.0 311.4 220.5 311.5 219.0 311.7 217.5 311.8 216.0 311.9 214.5 312.1 213.0 312.3 211.5 312.5 210.9 312.8 210.0 313.6 208.5 314.0 207.9 314.7 207.0 315.5 206.3 316.4 205.5 317.0 205.1 318.5 204.1 318.7 204.0 320.0 203.3 321.5 202.5 321.6 202.5 323.0 201.8 324.5 201.1 324.8 201.0 326.0 200.5 327.5 199.8 328.0 199.5 329.0 199.0 330.5 198.3 331.0 198.0 332.0 197.5 333.5 196.7 333.8 196.5 335.0 195.9 336.5 195.0 336.6 195.0 338.0 194.3 339.5 193.7 340.6 193.5 341.0 193.4 342.5 193.4 343.2 193.5 344.0 193.6 345.5 193.8 347.0 193.9 348.5 193.9 350.0 193.7 351.3 193.5 351.5 193.5 353.0 193.3 354.5 193.0 356.0 192.8 357.5 192.6 359.0 192.5 360.5 192.3 362.0 192.2 363.5 192.1 365.0 192.1 366.5 192.1 368.0 192.2 369.5 192.3 371.0 192.4 372.5 192.5 374.0 192.6 375.5 192.7 377.0 192.7 378.5 192.6 380.0 192.3 381.1 192.0 381.5 191.9 383.0 191.2 384.1 190.5 384.5 190.2 386.0 189.2 386.3 189.0 387.5 188.3 388.9 187.5 389.0 187.5 390.5 187.0 392.0 186.8 393.5 186.8 395.0 186.8 396.5 186.9 398.0 187.0 399.5 186.9 401.0 186.8 402.5 186.5 403.5 186.0 404.0 185.7 405.1 184.5 405.5 183.8 405.9 183.0 406.6 181.5 407.0 180.9 407.5 180.0 408.5 178.8 408.8 178.5 410.0 177.7 411.5 177.2 412.5 177.0ZM560.0 220.1 561.5 220.2 563.0 220.3 564.5 220.5 564.8 220.5 566.0 220.6 567.5 220.7 569.0 220.9 570.5 221.0 572.0 221.2 573.5 221.4 575.0 221.5 576.5 221.7 576.8 221.7 576.5 222.0 575.0 223.5 573.5 223.5 572.0 223.5 570.5 223.5 569.0 225.0 567.5 226.5 566.1 227.9 566.0 227.9 565.9 227.9 564.5 226.5 563.0 225.0 561.5 223.5 560.0 222.0 558.5 220.5 558.5 219.9ZM422.0 304.2 423.5 303.7 425.0 303.8 425.6 304.5 426.5 305.1 427.4 306.0 428.0 306.5 429.0 307.5 429.5 307.9 430.6 309.0 431.0 309.4 432.4 310.5 432.5 310.6 434.0 312.0 434.0 312.0 435.5 313.5 435.5 313.5 436.8 315.0 437.0 315.2 438.1 316.5 438.5 317.0 439.3 318.0 440.0 319.0 440.4 319.5 441.5 320.8 441.7 321.0 443.0 322.2 443.5 322.5 444.5 323.0 446.0 323.6 447.4 324.0 447.5 324.0 449.0 324.3 450.5 324.4 452.0 324.4 453.5 324.4 455.0 324.5 456.5 324.6 458.0 324.8 459.5 325.3 459.9 325.5 461.0 326.2 462.1 327.0 462.5 327.3 464.0 328.4 464.2 328.5 465.5 329.3 466.7 330.0 467.0 330.1 468.5 330.8 470.0 331.3 470.8 331.5 471.3 331.7 470.0 333.0 468.5 333.0 467.0 333.0 465.5 333.0 464.0 333.0 463.9 333.0 462.5 332.2 461.1 331.5 461.0 331.4 459.5 330.7 458.0 330.1 457.4 330.0 456.5 329.8 455.0 329.7 453.5 329.7 452.0 329.8 450.5 329.8 449.0 329.9 447.5 329.9 446.0 329.9 444.5 329.8 443.0 329.5 441.5 329.2 440.0 328.6 439.9 328.5 438.5 327.6 437.9 327.0 437.0 325.9 436.8 325.5 436.1 324.0 435.6 322.5 435.5 322.2 435.1 321.0 434.4 319.5 434.0 318.7 433.5 318.0 432.5 316.7 432.3 316.5 431.0 315.4 430.3 315.0 429.5 314.5 428.0 314.0 426.5 313.7 425.0 313.8 423.5 314.2 422.0 314.8 421.6 315.0 420.5 315.6 419.1 316.5 419.0 316.6 417.5 317.8 417.3 318.0 416.0 319.5 416.0 319.5 415.1 321.0 414.5 322.1 414.3 322.5 413.8 324.0 413.3 325.5 413.0 327.0 413.0 327.0 412.7 328.5 412.3 330.0 411.9 331.5 411.5 332.3 411.2 333.0 410.5 334.5 410.0 335.4 409.7 336.0 408.7 337.5 408.5 337.8 407.6 339.0 407.0 339.8 406.5 340.5 406.1 341.1 405.5 340.5 404.0 339.0 404.0 337.5 402.5 336.0 401.0 334.5 400.5 334.5 401.0 333.8 401.6 333.0 402.5 331.7 402.6 331.5 403.5 330.0 404.0 329.2 404.4 328.5 405.2 327.0 405.5 326.3 405.9 325.5 406.6 324.0 407.0 323.1 407.3 322.5 408.0 321.0 408.5 320.0 408.8 319.5 409.6 318.0 410.0 317.3 410.5 316.5 411.4 315.0 411.5 314.9 412.5 313.5 413.0 312.9 413.8 312.0 414.5 311.2 415.2 310.5 416.0 309.7 416.9 309.0 417.5 308.3 418.4 307.5 419.0 306.8 419.8 306.0 420.5 305.3 421.5 304.5ZM590.0 314.8 591.5 313.8 591.5 315.0 591.5 316.5 593.0 318.0 593.3 318.0 593.0 318.2 591.5 319.1 590.8 319.5 590.0 320.0 588.6 321.0 588.5 321.1 587.0 322.1 586.5 322.5 585.5 323.3 584.5 324.0 584.0 324.3 582.5 325.3 582.2 325.5 581.0 326.2 579.5 326.9 579.2 327.0 578.0 327.5 576.5 328.1 575.3 328.5 575.0 328.6 573.5 329.1 572.0 329.5 570.5 330.0 570.3 330.0 569.0 330.2 567.5 330.4 566.0 330.6 564.5 330.8 563.0 331.0 561.5 331.2 560.0 331.3 558.8 331.5 558.5 331.5 557.0 331.7 555.5 331.9 554.0 332.1 552.5 332.3 551.0 332.5 549.5 332.7 548.0 332.8 546.7 333.0 546.5 333.0 545.0 333.2 543.5 333.4 542.0 333.6 540.5 333.8 539.0 334.0 537.5 334.1 536.0 334.2 534.5 334.3 533.0 334.4 531.5 334.5 530.9 334.5 530.0 334.5 528.5 334.6 527.0 334.8 525.5 334.9 524.0 335.0 522.5 335.1 521.0 335.3 519.5 335.4 518.0 335.5 516.5 335.7 515.0 336.0 514.8 336.0 513.5 336.3 512.0 336.7 510.5 337.2 509.5 337.5 509.0 337.7 507.5 338.2 506.0 338.7 505.0 339.0 504.5 339.2 503.0 339.6 501.5 340.0 500.0 340.3 498.5 340.5 498.5 340.5 497.0 340.7 495.8 340.8 495.5 340.5 495.5 339.0 494.0 337.5 493.8 337.3 494.0 337.3 495.5 337.4 497.0 337.4 498.5 337.3 500.0 337.1 501.5 336.8 503.0 336.4 504.1 336.0 504.5 335.9 506.0 335.3 507.5 334.6 507.7 334.5 509.0 333.9 510.5 333.4 511.7 333.0 512.0 332.9 513.5 332.6 515.0 332.5 516.5 332.3 518.0 332.2 519.5 332.1 521.0 332.0 522.5 332.0 524.0 331.9 525.5 331.8 527.0 331.7 528.5 331.5 528.9 331.5 530.0 331.4 531.5 331.3 533.0 331.2 534.5 331.1 536.0 330.9 537.5 330.8 539.0 330.6 540.5 330.4 542.0 330.2 543.2 330.0 543.5 330.0 545.0 329.7 546.5 329.5 548.0 329.4 549.5 329.2 551.0 328.9 552.5 328.6 553.2 328.5 554.0 328.3 555.5 328.1 557.0 327.8 558.5 327.5 560.0 327.3 561.4 327.0 561.5 327.0 563.0 326.7 564.5 326.4 566.0 326.1 567.5 325.7 568.4 325.5 569.0 325.3 570.5 324.9 572.0 324.5 573.5 324.2 574.3 324.0 575.0 323.8 576.5 323.5 578.0 323.1 579.5 322.5 579.6 322.5 581.0 321.8 582.2 321.0 582.5 320.8 584.0 319.5 584.0 319.5 585.5 318.2 585.8 318.0 587.0 317.0 587.6 316.5 588.5 315.8 589.7 315.0ZM312.5 347.8 314.0 347.4 315.5 347.1 317.0 347.0 318.5 346.9 320.0 347.0 321.5 347.2 323.0 347.5 324.5 347.9 325.0 348.0 326.0 348.3 326.9 348.6 326.0 349.5 324.5 351.0 323.0 352.5 321.5 352.5 320.0 352.5 318.5 352.5 317.0 352.5 315.5 351.0 314.0 349.5 312.5 348.0 312.3 347.8Z"/>
<path fill="#ffd500" stroke="#ffd500" stroke-width="0.6" fill-rule="evenodd" d="M411.5 173.8 413.0 173.5 414.5 173.3 416.0 173.3 417.5 173.5 419.0 173.9 419.4 174.0 420.5 174.4 422.0 174.9 423.3 175.5 423.5 175.6 425.0 176.2 426.5 176.9 426.9 177.0 428.0 177.4 429.5 178.0 431.0 178.5 431.1 178.5 432.5 179.0 434.0 179.6 435.2 180.0 435.5 180.1 437.0 180.8 438.1 181.5 438.5 181.8 439.6 183.0 440.0 183.6 440.5 184.5 441.4 186.0 441.5 186.3 442.1 187.5 442.9 189.0 443.0 189.2 443.7 190.5 444.5 191.7 444.7 192.0 446.0 193.4 446.1 193.5 447.5 194.6 448.1 195.0 449.0 195.6 450.4 196.5 450.5 196.5 452.0 197.7 452.3 198.0 453.5 199.2 453.7 199.5 455.0 201.0 455.0 201.1 456.1 202.5 456.5 203.0 457.3 204.0 458.0 204.8 458.6 205.5 459.5 206.4 460.2 207.0 461.0 207.7 462.1 208.5 462.5 208.8 464.0 209.7 464.5 210.0 465.5 210.5 467.0 211.2 467.9 211.5 468.5 211.6 470.0 211.8 471.5 211.8 473.0 211.8 474.5 211.8 476.0 211.8 477.5 211.8 479.0 211.9 480.5 212.1 482.0 212.3 483.5 212.5 485.0 212.8 485.7 213.0 486.5 213.2 488.0 213.4 489.5 213.6 491.0 213.8 492.5 214.0 494.0 214.3 494.7 214.5 495.5 214.7 497.0 215.2 498.5 215.7 499.4 216.0 500.0 216.2 501.5 216.9 502.8 217.5 503.0 217.6 504.5 218.3 505.8 219.0 506.0 219.1 507.5 219.2 508.5 219.0 509.0 218.9 510.5 218.7 512.0 218.4 513.5 218.1 515.0 217.7 515.8 217.5 516.5 217.3 518.0 216.8 519.5 216.4 520.7 216.0 521.0 215.9 521.0 216.0 521.0 217.5 521.0 219.0 521.0 220.0 519.5 220.4 519.1 220.5 518.0 220.8 516.5 221.3 515.0 221.8 514.4 222.0 513.5 222.3 512.0 222.9 510.5 223.4 509.0 223.4 507.5 222.6 506.2 222.0 506.0 221.9 504.5 221.1 503.2 220.5 503.0 220.4 501.5 219.6 500.2 219.0 500.0 218.9 498.5 218.3 497.0 217.8 496.1 217.5 495.5 217.3 494.0 216.9 492.5 216.6 491.0 216.3 489.5 216.1 488.6 216.0 488.0 215.9 486.5 215.8 485.0 215.4 483.5 215.1 482.0 214.8 480.5 214.6 479.6 214.5 479.0 214.4 477.5 214.3 476.0 214.3 474.5 214.3 473.0 214.3 471.5 214.3 470.0 214.3 468.5 214.3 467.0 214.4 466.4 214.5 465.5 214.6 464.0 214.8 462.5 214.5 462.5 214.5 461.0 213.7 459.7 213.0 459.5 212.9 458.0 211.9 457.3 211.5 456.5 210.9 455.3 210.0 455.0 209.7 453.6 208.5 453.5 208.4 452.0 207.2 451.7 207.0 450.5 206.3 449.0 206.4 448.5 207.0 447.5 208.2 447.3 208.5 446.4 210.0 446.0 210.5 445.2 211.5 444.5 212.1 443.0 213.0 442.9 213.0 441.5 213.4 440.0 213.4 438.5 213.2 438.1 213.0 437.0 212.5 435.5 211.5 435.4 211.5 434.0 210.0 434.0 210.0 433.0 208.5 432.6 207.0 432.5 205.9 432.5 205.5 432.5 205.3 432.7 204.0 433.1 202.5 433.5 201.0 434.0 199.5 434.0 199.5 434.5 198.0 434.9 196.5 435.2 195.0 435.4 193.5 435.5 192.0 435.3 190.5 434.9 189.0 434.3 187.5 434.0 187.0 433.4 186.0 432.5 184.9 432.2 184.5 431.0 183.5 430.5 183.0 429.5 182.4 428.1 181.5 428.0 181.5 426.5 180.7 425.1 180.0 425.0 180.0 423.5 179.3 422.0 178.6 421.8 178.5 420.5 178.0 419.0 177.5 417.5 177.1 416.6 177.0 416.0 176.9 414.5 176.8 413.0 176.9 412.5 177.0 411.5 177.2 410.0 177.7 408.8 178.5 408.5 178.8 407.5 180.0 407.0 180.9 406.6 181.5 405.9 183.0 405.5 183.8 405.1 184.5 404.0 185.7 403.5 186.0 402.5 186.5 401.0 186.8 399.5 186.9 398.0 187.0 396.5 186.9 395.0 186.8 393.5 186.8 392.0 186.8 390.5 187.0 389.0 187.5 388.9 187.5 387.5 188.3 386.3 189.0 386.0 189.2 384.5 190.2 384.1 190.5 383.0 191.2 381.5 191.9 381.1 192.0 380.0 192.3 378.5 192.6 377.0 192.7 375.5 192.7 374.0 192.6 372.5 192.5 371.0 192.4 369.5 192.3 368.0 192.2 366.5 192.1 365.0 192.1 363.5 192.1 362.0 192.2 360.5 192.3 359.0 192.5 357.5 192.6 356.0 192.8 354.5 193.0 353.0 193.3 351.5 193.5 351.3 193.5 350.0 193.7 348.5 193.9 347.0 193.9 345.5 193.8 344.0 193.6 343.2 193.5 342.5 193.4 341.0 193.4 340.6 193.5 339.5 193.7 338.0 194.3 336.6 195.0 336.5 195.0 335.0 195.9 333.8 196.5 333.5 196.7 332.0 197.5 331.0 198.0 330.5 198.3 329.0 199.0 328.0 199.5 327.5 199.8 326.0 200.5 324.8 201.0 324.5 201.1 323.0 201.8 321.6 202.5 321.5 202.5 320.0 203.3 318.7 204.0 318.5 204.1 317.0 205.1 316.4 205.5 315.5 206.3 314.7 207.0 314.0 207.9 313.6 208.5 312.8 210.0 312.5 210.9 312.3 211.5 312.1 213.0 311.9 214.5 311.8 216.0 311.7 217.5 311.5 219.0 311.4 220.5 311.1 222.0 311.0 222.5 310.8 223.5 310.4 225.0 309.9 226.5 309.5 227.6 309.4 228.0 308.7 229.5 308.0 230.8 307.9 231.0 306.9 232.5 306.5 233.1 305.8 234.0 305.0 234.9 304.5 235.5 303.5 236.5 302.9 237.0 302.0 237.9 301.3 238.5 300.5 239.3 299.9 240.0 299.0 241.2 298.8 241.5 297.9 243.0 297.5 243.7 296.9 244.5 296.0 245.5 295.4 246.0 294.5 246.6 293.1 247.5 293.0 247.6 291.5 248.3 290.0 249.0 289.9 249.0 288.5 249.5 287.0 250.0 285.5 250.4 285.3 250.5 284.0 250.8 282.5 251.0 281.0 251.1 279.5 251.1 278.0 250.9 276.5 250.6 276.1 250.5 275.0 250.2 273.5 249.7 272.0 249.0 271.9 249.0 270.5 248.5 269.0 248.1 267.5 247.9 266.0 247.8 264.5 247.8 263.0 247.8 261.5 248.1 260.0 248.4 258.5 249.0 258.4 249.0 257.0 249.7 255.5 250.4 255.3 250.5 254.0 251.1 252.5 251.6 251.2 252.0 251.0 252.1 249.5 252.5 248.0 253.0 246.9 253.5 246.5 253.7 245.0 254.5 244.3 255.0 243.5 255.6 242.6 256.5 242.0 257.1 241.3 258.0 240.5 258.9 240.2 259.5 239.4 261.0 239.0 262.0 238.8 262.5 238.3 264.0 237.6 265.5 237.5 265.9 237.1 267.0 236.6 268.5 236.3 270.0 236.0 271.5 236.0 272.0 235.9 273.0 235.9 274.5 236.0 275.4 236.0 276.0 236.2 277.5 236.4 279.0 236.6 280.5 236.9 282.0 237.1 283.5 237.3 285.0 237.5 286.4 237.5 286.5 237.7 288.0 237.8 289.5 237.8 291.0 237.9 292.5 237.8 294.0 237.7 295.5 237.5 296.7 237.5 297.0 237.1 298.5 236.7 300.0 236.1 301.5 236.0 301.7 235.4 303.0 234.6 304.5 234.5 304.7 233.8 306.0 233.0 307.3 232.9 307.5 232.1 309.0 231.5 310.3 231.4 310.5 230.9 312.0 230.5 313.5 230.1 315.0 230.0 315.8 229.9 316.5 229.7 318.0 229.8 319.5 230.0 321.0 230.0 321.1 230.4 322.5 231.1 324.0 231.5 324.7 232.0 325.5 233.0 326.9 233.1 327.0 234.3 328.5 234.5 328.8 235.5 330.0 236.0 330.7 236.6 331.5 237.5 333.0 237.5 333.1 238.1 334.5 238.7 336.0 239.0 336.7 239.3 337.5 239.9 339.0 240.5 340.5 240.5 340.6 241.1 342.0 241.8 343.5 242.0 344.0 242.3 344.7 242.0 345.0 240.5 346.5 239.0 346.5 237.5 346.5 236.0 346.5 234.5 346.5 233.0 346.5 231.5 346.5 230.0 345.0 228.5 343.5 227.0 342.0 225.5 340.5 224.0 339.0 224.0 337.5 222.9 336.4 222.7 336.0 222.5 335.5 222.1 334.5 221.6 333.0 221.1 331.5 221.0 331.3 220.6 330.0 220.2 328.5 219.9 327.0 219.6 325.5 219.5 324.7 219.4 324.0 219.3 322.5 219.3 321.0 219.5 320.0 219.6 319.5 220.2 318.0 221.0 316.5 221.0 316.5 221.8 315.0 222.5 313.8 222.7 313.5 223.4 312.0 224.0 310.5 224.0 310.4 224.4 309.0 224.9 307.5 225.4 306.0 225.5 305.7 226.0 304.5 226.9 303.0 227.0 302.9 228.1 301.5 228.5 301.0 229.2 300.0 230.0 298.6 230.0 298.5 230.6 297.0 231.0 295.5 231.4 294.0 231.5 293.3 231.6 292.5 231.7 291.0 231.7 289.5 231.5 288.1 231.5 288.0 231.1 286.5 230.7 285.0 230.3 283.5 230.0 282.3 229.9 282.0 229.5 280.5 229.0 279.0 228.6 277.5 228.5 276.9 228.3 276.0 228.3 274.5 228.4 273.0 228.5 272.8 228.8 271.5 229.3 270.0 229.9 268.5 230.0 268.3 230.5 267.0 231.2 265.5 231.5 264.9 231.9 264.0 232.6 262.5 233.0 261.4 233.1 261.0 233.6 259.5 234.0 258.0 234.3 256.5 234.5 255.4 234.6 255.0 234.8 253.5 234.9 252.0 234.9 250.5 234.7 249.0 234.5 248.3 234.2 247.5 233.4 246.0 233.0 245.4 232.2 244.5 231.5 243.8 230.7 243.0 230.0 242.1 229.6 241.5 229.3 240.0 229.7 238.5 230.0 237.9 230.7 237.0 231.5 236.2 232.3 235.5 233.0 235.0 234.4 234.0 234.5 233.9 236.0 233.1 237.2 232.5 237.5 232.3 239.0 231.7 240.4 231.0 240.5 231.0 242.0 230.3 243.5 229.6 243.9 229.5 245.0 229.3 246.5 229.1 248.0 229.1 249.5 229.4 249.8 229.5 251.0 230.2 252.0 231.0 252.5 231.5 253.5 232.5 254.0 233.0 255.1 234.0 255.5 234.4 256.9 235.5 257.0 235.6 258.5 236.7 259.0 237.0 260.0 237.6 261.4 238.5 261.5 238.5 263.0 239.4 264.1 240.0 264.5 240.2 266.0 240.9 267.3 241.5 267.5 241.6 269.0 242.2 270.5 242.9 270.7 243.0 272.0 243.6 273.5 244.3 274.1 244.5 275.0 244.9 276.5 245.4 278.0 245.8 279.5 246.0 281.0 246.0 282.5 245.8 284.0 245.4 285.5 244.7 285.9 244.5 287.0 243.8 288.0 243.0 288.5 242.5 289.5 241.5 290.0 240.8 290.7 240.0 291.5 239.0 291.9 238.5 293.0 237.1 293.1 237.0 294.5 235.5 294.5 235.5 296.0 234.1 296.1 234.0 297.5 232.9 298.0 232.5 299.0 231.7 299.8 231.0 300.5 230.2 301.1 229.5 302.0 228.1 302.0 228.0 302.7 226.5 303.2 225.0 303.5 224.0 303.6 223.5 303.8 222.0 303.8 220.5 303.7 219.0 303.5 218.4 303.3 217.5 302.7 216.0 302.0 214.7 301.9 214.5 300.9 213.0 300.5 212.4 299.9 211.5 299.1 210.0 299.0 209.8 298.6 208.5 298.5 207.0 298.7 205.5 299.0 204.9 299.4 204.0 300.5 202.6 300.6 202.5 302.0 201.5 302.9 201.0 303.5 200.7 305.0 200.2 306.5 199.6 306.8 199.5 308.0 199.1 309.5 198.7 311.0 198.2 311.7 198.0 312.5 197.8 314.0 197.3 315.5 196.9 316.6 196.5 317.0 196.4 318.5 195.9 320.0 195.4 321.2 195.0 321.5 194.9 323.0 194.4 324.5 193.8 325.3 193.5 326.0 193.2 327.5 192.6 328.9 192.0 329.0 191.9 330.5 191.3 332.0 190.6 332.2 190.5 333.5 190.0 335.0 189.3 335.9 189.0 336.5 188.8 338.0 188.4 339.5 188.1 341.0 188.0 342.5 188.0 344.0 188.0 345.5 188.1 347.0 188.1 348.5 188.0 350.0 188.0 351.5 188.0 353.0 187.9 354.5 187.9 356.0 187.8 357.5 187.6 359.0 187.5 359.0 187.5 360.5 187.3 362.0 187.2 363.5 187.1 365.0 187.1 366.5 187.1 368.0 187.2 369.5 187.4 370.4 187.5 371.0 187.6 372.5 187.7 374.0 187.8 375.5 187.9 377.0 187.9 378.5 187.7 379.2 187.5 380.0 187.3 381.5 186.6 382.5 186.0 383.0 185.7 384.5 184.8 384.9 184.5 386.0 183.9 387.5 183.1 387.7 183.0 389.0 182.4 390.5 182.1 392.0 182.0 393.5 182.1 395.0 182.3 396.5 182.4 398.0 182.5 399.5 182.3 401.0 181.7 401.3 181.5 402.5 180.6 403.0 180.0 404.0 178.9 404.3 178.5 405.5 177.2 405.6 177.0 407.0 175.8 407.5 175.5 408.5 174.9 410.0 174.2 410.7 174.0ZM555.5 212.6 557.0 212.7 558.5 212.7 560.0 212.8 561.5 212.9 563.0 213.0 563.3 213.0 564.5 213.1 566.0 213.1 567.5 213.2 569.0 213.3 570.5 213.4 572.0 213.5 573.5 213.6 575.0 213.7 576.5 213.8 578.0 213.9 579.5 214.0 581.0 214.1 582.5 214.2 582.8 214.2 582.5 214.5 582.5 216.0 581.0 217.5 579.5 219.0 578.0 220.5 576.8 221.7 576.5 221.7 575.0 221.5 573.5 221.4 572.0 221.2 570.5 221.0 569.0 220.9 567.5 220.7 566.0 220.6 564.8 220.5 564.5 220.5 563.0 220.3 561.5 220.2 560.0 220.1 558.5 219.9 558.5 219.0 558.5 217.5 557.0 216.0 555.5 214.5 554.0 213.0 554.0 212.5ZM147.5 311.3 149.0 311.7 150.0 312.0 150.5 312.2 152.0 312.7 153.5 313.4 153.7 313.5 155.0 314.4 155.6 315.0 156.5 316.0 156.8 316.5 157.8 318.0 158.0 318.3 158.7 319.5 159.5 320.8 159.7 321.0 160.6 322.5 161.0 323.1 161.6 324.0 162.5 325.4 162.6 325.5 163.5 327.0 164.0 327.8 164.3 328.2 164.0 328.5 162.5 328.5 161.0 328.5 159.5 328.5 158.0 328.5 156.5 328.5 155.0 327.0 153.5 325.5 152.0 324.0 150.5 322.5 149.0 321.0 149.0 319.5 147.5 318.0 147.5 316.5 147.5 315.0 146.0 313.5 146.0 312.0 146.8 311.2ZM422.0 314.8 423.5 314.2 425.0 313.8 426.5 313.7 428.0 314.0 429.5 314.5 430.3 315.0 431.0 315.4 432.3 316.5 432.5 316.7 433.5 318.0 434.0 318.7 434.4 319.5 435.1 321.0 435.5 322.2 435.6 322.5 436.1 324.0 436.8 325.5 437.0 325.9 437.9 327.0 438.5 327.6 439.9 328.5 440.0 328.6 441.5 329.2 443.0 329.5 444.5 329.8 446.0 329.9 447.5 329.9 449.0 329.9 450.5 329.8 452.0 329.8 453.5 329.7 455.0 329.7 456.5 329.8 457.4 330.0 458.0 330.1 459.5 330.7 461.0 331.4 461.1 331.5 462.5 332.2 463.9 333.0 462.5 333.0 461.0 333.0 459.5 334.5 459.5 336.0 458.4 337.1 458.0 337.0 456.5 336.8 455.0 336.6 453.5 336.6 452.0 336.6 450.5 336.8 449.0 336.9 447.5 337.1 446.0 337.2 445.7 337.2 444.5 336.0 443.0 334.5 441.5 334.5 440.0 334.5 438.5 334.5 437.0 334.5 435.5 336.0 435.5 337.5 435.5 337.9 434.0 338.0 432.5 338.1 431.0 338.3 429.5 338.6 428.1 339.0 428.0 339.0 426.5 339.6 425.0 340.3 424.6 340.5 423.5 341.1 422.0 342.0 422.0 342.0 420.5 342.9 419.7 343.5 419.0 344.0 417.7 345.0 417.5 345.1 416.0 346.3 415.8 346.5 414.5 346.5 413.0 346.5 411.5 346.5 410.0 345.0 408.5 343.5 407.0 342.0 406.1 341.1 406.5 340.5 407.0 339.8 407.6 339.0 408.5 337.8 408.7 337.5 409.7 336.0 410.0 335.4 410.5 334.5 411.2 333.0 411.5 332.3 411.9 331.5 412.3 330.0 412.7 328.5 413.0 327.0 413.0 327.0 413.3 325.5 413.8 324.0 414.3 322.5 414.5 322.1 415.1 321.0 416.0 319.5 416.0 319.5 417.3 318.0 417.5 317.8 419.0 316.6 419.1 316.5 420.5 315.6 421.6 315.0ZM591.5 319.1 593.0 318.2 593.3 318.0 594.5 318.0 596.0 319.5 597.5 321.0 597.7 321.2 597.5 321.2 596.0 321.8 594.5 322.5 594.5 322.5 593.0 323.2 591.5 324.0 591.4 324.0 590.0 324.8 588.9 325.5 588.5 325.8 587.0 326.8 586.8 327.0 585.5 328.0 584.7 328.5 584.0 329.0 582.5 329.9 582.3 330.0 581.0 330.7 579.5 331.5 579.4 331.5 578.0 332.1 576.5 332.6 575.3 333.0 575.0 333.1 573.5 333.5 572.0 333.8 570.5 334.1 569.0 334.3 568.1 334.5 567.5 334.6 566.0 334.9 564.5 335.1 563.0 335.4 561.5 335.6 560.0 335.7 558.5 335.9 557.0 336.0 556.1 336.0 555.5 336.0 554.0 336.1 552.5 336.1 551.0 336.2 549.5 336.3 548.0 336.5 546.5 336.8 545.0 337.1 543.5 337.3 542.3 337.5 542.0 337.5 540.5 337.8 539.0 337.9 537.5 338.0 536.0 338.1 534.5 338.1 533.0 338.1 531.5 338.1 530.0 338.1 528.5 338.2 527.0 338.3 525.5 338.5 524.0 338.6 522.5 338.7 521.0 338.9 519.8 339.0 519.5 339.0 518.0 339.2 516.5 339.5 515.0 339.7 513.5 340.1 512.0 340.5 511.9 340.5 510.5 340.9 509.0 341.3 507.5 341.7 506.3 342.0 506.0 342.1 504.5 342.5 503.0 342.9 501.5 343.3 500.7 343.5 500.0 343.7 498.5 344.0 497.0 344.3 497.0 343.5 497.0 342.0 495.8 340.8 497.0 340.7 498.5 340.5 498.5 340.5 500.0 340.3 501.5 340.0 503.0 339.6 504.5 339.2 505.0 339.0 506.0 338.7 507.5 338.2 509.0 337.7 509.5 337.5 510.5 337.2 512.0 336.7 513.5 336.3 514.8 336.0 515.0 336.0 516.5 335.7 518.0 335.5 519.5 335.4 521.0 335.3 522.5 335.1 524.0 335.0 525.5 334.9 527.0 334.8 528.5 334.6 530.0 334.5 530.9 334.5 531.5 334.5 533.0 334.4 534.5 334.3 536.0 334.2 537.5 334.1 539.0 334.0 540.5 333.8 542.0 333.6 543.5 333.4 545.0 333.2 546.5 333.0 546.7 333.0 548.0 332.8 549.5 332.7 551.0 332.5 552.5 332.3 554.0 332.1 555.5 331.9 557.0 331.7 558.5 331.5 558.8 331.5 560.0 331.3 561.5 331.2 563.0 331.0 564.5 330.8 566.0 330.6 567.5 330.4 569.0 330.2 570.3 330.0 570.5 330.0 572.0 329.5 573.5 329.1 575.0 328.6 575.3 328.5 576.5 328.1 578.0 327.5 579.2 327.0 579.5 326.9 581.0 326.2 582.2 325.5 582.5 325.3 584.0 324.3 584.5 324.0 585.5 323.3 586.5 322.5 587.0 322.1 588.5 321.1 588.6 321.0 590.0 320.0 590.8 319.5Z"/>
<path fill="#ffa400" stroke="#ffa400" stroke-width="0.6" fill-rule="evenodd" d="M410.0 170.7 411.5 170.2 413.0 169.9 414.5 169.7 416.0 169.7 417.5 169.9 419.0 170.3 420.5 170.8 420.8 171.0 422.0 171.5 423.5 172.3 424.0 172.5 425.0 173.0 426.5 173.7 427.2 174.0 428.0 174.3 429.5 174.9 431.0 175.3 431.9 175.5 432.5 175.7 434.0 176.0 435.5 176.4 437.0 176.7 437.9 177.0 438.5 177.2 440.0 177.9 440.9 178.5 441.5 179.0 442.5 180.0 443.0 180.7 443.6 181.5 444.5 183.0 444.5 183.1 445.3 184.5 446.0 185.7 446.2 186.0 447.2 187.5 447.5 188.0 448.3 189.0 449.0 189.9 449.5 190.5 450.5 191.5 451.0 192.0 452.0 192.9 452.6 193.5 453.5 194.3 454.2 195.0 455.0 195.7 455.7 196.5 456.5 197.3 457.2 198.0 458.0 198.9 458.5 199.5 459.5 200.6 459.9 201.0 461.0 202.1 461.4 202.5 462.5 203.5 463.1 204.0 464.0 204.7 465.3 205.5 465.5 205.7 467.0 206.4 468.4 207.0 468.5 207.0 470.0 207.5 471.5 208.0 473.0 208.3 473.8 208.5 474.5 208.7 476.0 208.9 477.5 209.0 479.0 209.1 480.5 209.3 482.0 209.5 483.5 209.8 485.0 210.0 485.0 210.0 486.5 210.2 488.0 210.4 489.5 210.7 491.0 211.0 492.5 211.2 493.6 211.5 494.0 211.6 495.5 211.8 497.0 212.2 498.5 212.8 499.0 213.0 500.0 213.2 501.5 213.8 503.0 214.1 504.5 214.5 504.8 214.5 506.0 214.6 507.5 214.7 509.0 214.7 510.5 214.5 510.6 214.5 512.0 214.2 513.5 213.8 515.0 213.3 515.9 213.0 516.5 212.8 518.0 212.1 519.5 211.5 519.5 211.5 521.0 210.8 521.0 211.5 521.0 213.0 521.0 214.5 521.0 215.9 520.7 216.0 519.5 216.4 518.0 216.8 516.5 217.3 515.8 217.5 515.0 217.7 513.5 218.1 512.0 218.4 510.5 218.7 509.0 218.9 508.5 219.0 507.5 219.2 506.0 219.1 505.8 219.0 504.5 218.3 503.0 217.6 502.8 217.5 501.5 216.9 500.0 216.2 499.4 216.0 498.5 215.7 497.0 215.2 495.5 214.7 494.7 214.5 494.0 214.3 492.5 214.0 491.0 213.8 489.5 213.6 488.0 213.4 486.5 213.2 485.7 213.0 485.0 212.8 483.5 212.5 482.0 212.3 480.5 212.1 479.0 211.9 477.5 211.8 476.0 211.8 474.5 211.8 473.0 211.8 471.5 211.8 470.0 211.8 468.5 211.6 467.9 211.5 467.0 211.2 465.5 210.5 464.5 210.0 464.0 209.7 462.5 208.8 462.1 208.5 461.0 207.7 460.2 207.0 459.5 206.4 458.6 205.5 458.0 204.8 457.3 204.0 456.5 203.0 456.1 202.5 455.0 201.1 455.0 201.0 453.7 199.5 453.5 199.2 452.3 198.0 452.0 197.7 450.5 196.5 450.4 196.5 449.0 195.6 448.1 195.0 447.5 194.6 446.1 193.5 446.0 193.4 444.7 192.0 444.5 191.7 443.7 190.5 443.0 189.2 442.9 189.0 442.1 187.5 441.5 186.3 441.4 186.0 440.5 184.5 440.0 183.6 439.6 183.0 438.5 181.8 438.1 181.5 437.0 180.8 435.5 180.1 435.2 180.0 434.0 179.6 432.5 179.0 431.1 178.5 431.0 178.5 429.5 178.0 428.0 177.4 426.9 177.0 426.5 176.9 425.0 176.2 423.5 175.6 423.3 175.5 422.0 174.9 420.5 174.4 419.4 174.0 419.0 173.9 417.5 173.5 416.0 173.3 414.5 173.3 413.0 173.5 411.5 173.8 410.7 174.0 410.0 174.2 408.5 174.9 407.5 175.5 407.0 175.8 405.6 177.0 405.5 177.2 404.3 178.5 404.0 178.9 403.0 180.0 402.5 180.6 401.3 181.5 401.0 181.7 399.5 182.3 398.0 182.5 396.5 182.4 395.0 182.3 393.5 182.1 392.0 182.0 390.5 182.1 389.0 182.4 387.7 183.0 387.5 183.1 386.0 183.9 384.9 184.5 384.5 184.8 383.0 185.7 382.5 186.0 381.5 186.6 380.0 187.3 379.2 187.5 378.5 187.7 377.0 187.9 375.5 187.9 374.0 187.8 372.5 187.7 371.0 187.6 370.4 187.5 369.5 187.4 368.0 187.2 366.5 187.1 365.0 187.1 363.5 187.1 362.0 187.2 360.5 187.3 359.0 187.5 359.0 187.5 357.5 187.6 356.0 187.8 354.5 187.9 353.0 187.9 351.5 188.0 350.0 188.0 348.5 188.0 347.0 188.1 345.5 188.1 344.0 188.0 342.5 188.0 341.0 188.0 339.5 188.1 338.0 188.4 336.5 188.8 335.9 189.0 335.0 189.3 333.5 190.0 332.2 190.5 332.0 190.6 330.5 191.3 329.0 191.9 328.9 192.0 327.5 192.6 326.0 193.2 325.3 193.5 324.5 193.8 323.0 194.4 321.5 194.9 321.2 195.0 320.0 195.4 318.5 195.9 317.0 196.4 316.6 196.5 315.5 196.9 314.0 197.3 312.5 197.8 311.7 198.0 311.0 198.2 309.5 198.7 308.0 199.1 306.8 199.5 306.5 199.6 305.0 200.2 303.5 200.7 302.9 201.0 302.0 201.5 300.6 202.5 300.5 202.6 299.4 204.0 299.0 204.9 298.7 205.5 298.5 207.0 298.6 208.5 299.0 209.8 299.1 210.0 299.9 211.5 300.5 212.4 300.9 213.0 301.9 214.5 302.0 214.7 302.7 216.0 303.3 217.5 303.5 218.4 303.7 219.0 303.8 220.5 303.8 222.0 303.6 223.5 303.5 224.0 303.2 225.0 302.7 226.5 302.0 228.0 302.0 228.1 301.1 229.5 300.5 230.2 299.8 231.0 299.0 231.7 298.0 232.5 297.5 232.9 296.1 234.0 296.0 234.1 294.5 235.5 294.5 235.5 293.1 237.0 293.0 237.1 291.9 238.5 291.5 239.0 290.7 240.0 290.0 240.8 289.5 241.5 288.5 242.5 288.0 243.0 287.0 243.8 285.9 244.5 285.5 244.7 284.0 245.4 282.5 245.8 281.0 246.0 279.5 246.0 278.0 245.8 276.5 245.4 275.0 244.9 274.1 244.5 273.5 244.3 272.0 243.6 270.7 243.0 270.5 242.9 269.0 242.2 267.5 241.6 267.3 241.5 266.0 240.9 264.5 240.2 264.1 240.0 263.0 239.4 261.5 238.5 261.4 238.5 260.0 237.6 259.0 237.0 258.5 236.7 257.0 235.6 256.9 235.5 255.5 234.4 255.1 234.0 254.0 233.0 253.5 232.5 252.5 231.5 252.0 231.0 251.0 230.2 249.8 229.5 249.5 229.4 248.0 229.1 246.5 229.1 245.0 229.3 243.9 229.5 243.5 229.6 242.0 230.3 240.5 231.0 240.4 231.0 239.0 231.7 237.5 232.3 237.2 232.5 236.0 233.1 234.5 233.9 234.4 234.0 233.0 235.0 232.3 235.5 231.5 236.2 230.7 237.0 230.0 237.9 229.7 238.5 229.3 240.0 229.6 241.5 230.0 242.1 230.7 243.0 231.5 243.8 232.2 244.5 233.0 245.4 233.4 246.0 234.2 247.5 234.5 248.3 234.7 249.0 234.9 250.5 234.9 252.0 234.8 253.5 234.6 255.0 234.5 255.4 234.3 256.5 234.0 258.0 233.6 259.5 233.1 261.0 233.0 261.4 232.6 262.5 231.9 264.0 231.5 264.9 231.2 265.5 230.5 267.0 230.0 268.3 229.9 268.5 229.3 270.0 228.8 271.5 228.5 272.8 228.4 273.0 228.3 274.5 228.3 276.0 228.5 276.9 228.6 277.5 229.0 279.0 229.5 280.5 229.9 282.0 230.0 282.3 230.3 283.5 230.7 285.0 231.1 286.5 231.5 288.0 231.5 288.1 231.7 289.5 231.7 291.0 231.6 292.5 231.5 293.3 231.4 294.0 231.0 295.5 230.6 297.0 230.0 298.5 230.0 298.6 229.2 300.0 228.5 301.0 228.1 301.5 227.0 302.9 226.9 303.0 226.0 304.5 225.5 305.7 225.4 306.0 224.9 307.5 224.4 309.0 224.0 310.4 224.0 310.5 223.4 312.0 222.7 313.5 222.5 313.8 221.8 315.0 221.0 316.5 221.0 316.5 220.2 318.0 219.6 319.5 219.5 320.0 219.3 321.0 219.3 322.5 219.4 324.0 219.5 324.7 219.6 325.5 219.9 327.0 220.2 328.5 220.6 330.0 221.0 331.3 221.1 331.5 221.6 333.0 222.1 334.5 222.5 335.5 222.7 336.0 222.9 336.4 222.5 336.0 221.0 334.5 219.5 333.0 218.0 331.5 216.5 330.0 215.0 330.0 213.5 330.0 212.0 330.0 210.5 330.0 209.0 330.0 207.5 331.5 206.0 333.0 204.5 334.5 203.0 336.0 201.5 337.5 200.0 337.5 198.5 337.5 197.0 337.5 195.5 336.0 194.0 334.5 193.6 334.1 194.0 334.3 194.6 334.5 195.5 334.9 197.0 335.2 198.5 335.4 200.0 335.3 201.5 334.9 202.3 334.5 203.0 334.2 204.5 333.1 204.6 333.0 206.0 331.6 206.0 331.5 207.2 330.0 207.5 329.6 208.1 328.5 209.0 327.0 209.0 327.0 209.8 325.5 210.5 324.0 210.5 323.9 211.0 322.5 211.5 321.0 211.8 319.5 212.0 318.0 212.0 317.4 212.1 316.5 212.1 315.0 212.2 313.5 212.3 312.0 212.6 310.5 213.0 309.0 213.4 307.5 213.5 307.2 213.8 306.0 214.2 304.5 214.5 303.0 214.9 301.5 215.0 301.2 215.4 300.0 216.0 298.5 216.5 297.4 216.7 297.0 217.6 295.5 218.0 294.6 218.4 294.0 219.0 292.5 219.4 291.0 219.4 289.5 219.0 288.0 218.2 286.5 218.0 286.2 217.1 285.0 216.5 284.3 215.7 283.5 215.0 282.8 214.2 282.0 213.5 281.1 213.1 280.5 212.8 279.0 213.4 277.5 213.5 277.4 214.3 276.0 215.0 274.7 215.1 274.5 215.9 273.0 216.5 271.5 216.5 271.5 217.1 270.0 217.8 268.5 218.0 268.2 218.7 267.0 219.5 265.6 219.6 265.5 220.5 264.0 221.0 263.2 221.4 262.5 222.2 261.0 222.5 260.1 222.8 259.5 223.0 258.0 222.8 256.5 222.5 255.7 222.2 255.0 221.3 253.5 221.0 253.1 220.4 252.0 219.7 250.5 219.5 249.2 219.5 249.0 219.5 248.8 219.6 247.5 219.9 246.0 220.2 244.5 220.6 243.0 221.0 241.5 221.0 241.5 221.3 240.0 221.6 238.5 222.0 237.0 222.4 235.5 222.5 235.1 222.9 234.0 223.4 232.5 224.0 231.1 224.0 231.0 224.7 229.5 225.4 228.0 225.5 227.8 226.2 226.5 227.0 225.0 227.0 225.0 228.0 223.5 228.5 222.9 229.5 222.0 230.0 221.7 231.5 221.1 233.0 220.9 234.5 220.9 236.0 220.8 237.5 220.9 239.0 220.9 240.5 221.1 242.0 221.5 243.5 221.9 243.7 222.0 245.0 222.4 246.5 223.0 247.9 223.5 248.0 223.6 249.5 224.2 251.0 225.0 251.0 225.0 252.5 225.9 253.5 226.5 254.0 226.8 255.5 227.8 255.8 228.0 257.0 228.8 258.1 229.5 258.5 229.8 260.0 230.9 260.1 231.0 261.5 232.3 261.7 232.5 263.0 233.6 263.5 234.0 264.5 234.8 265.6 235.5 266.0 235.8 267.5 236.6 268.3 237.0 269.0 237.3 270.5 238.0 271.7 238.5 272.0 238.6 273.5 239.3 275.0 239.9 275.2 240.0 276.5 240.5 278.0 240.9 279.5 241.0 281.0 240.8 282.4 240.0 282.5 239.9 283.9 238.5 284.0 238.4 284.9 237.0 285.5 235.9 285.7 235.5 286.4 234.0 287.0 232.6 287.0 232.5 287.7 231.0 288.4 229.5 288.5 229.3 289.4 228.0 290.0 227.0 290.4 226.5 291.4 225.0 291.5 224.8 292.2 223.5 292.5 222.0 292.5 220.5 292.0 219.0 291.5 218.2 291.1 217.5 290.0 216.0 290.0 216.0 288.8 214.5 288.5 214.1 287.8 213.0 287.0 211.7 286.9 211.5 286.2 210.0 285.8 208.5 285.6 207.0 285.7 205.5 286.2 204.0 287.0 202.5 287.0 202.4 288.2 201.0 288.5 200.7 290.0 199.5 290.0 199.5 291.5 198.5 292.3 198.0 293.0 197.6 294.5 196.8 295.1 196.5 296.0 196.0 297.5 195.3 298.2 195.0 299.0 194.7 300.5 194.1 302.0 193.7 302.6 193.5 303.5 193.3 305.0 192.9 306.5 192.6 308.0 192.3 309.5 192.0 309.5 192.0 311.0 191.7 312.5 191.4 314.0 191.1 315.5 190.8 317.0 190.5 317.0 190.5 318.5 190.2 320.0 189.8 321.5 189.4 322.9 189.0 323.0 189.0 324.5 188.5 326.0 188.1 327.5 187.6 327.7 187.5 329.0 187.1 330.5 186.6 332.0 186.1 332.4 186.0 333.5 185.7 335.0 185.4 336.5 185.1 338.0 184.9 339.5 184.8 341.0 184.7 342.5 184.7 344.0 184.7 345.5 184.8 347.0 184.8 348.5 184.8 350.0 184.7 351.5 184.5 351.6 184.5 353.0 184.3 354.5 183.9 356.0 183.5 357.5 183.0 357.6 183.0 359.0 182.6 360.5 182.2 362.0 182.0 363.5 181.9 365.0 182.0 366.5 182.0 368.0 182.1 369.5 182.3 371.0 182.4 372.5 182.6 374.0 182.8 375.5 182.8 377.0 182.8 378.5 182.6 380.0 182.2 381.5 181.6 381.8 181.5 383.0 181.0 384.5 180.3 385.0 180.0 386.0 179.6 387.5 179.0 389.0 178.5 389.0 178.5 390.5 178.2 392.0 178.2 393.5 178.2 395.0 178.2 396.5 178.2 398.0 178.1 399.5 177.5 400.3 177.0 401.0 176.5 402.1 175.5 402.5 175.2 403.9 174.0 404.0 173.9 405.5 172.8 406.0 172.5 407.0 171.9 408.5 171.2 409.2 171.0ZM668.0 190.4 669.5 190.3 671.0 190.4 672.2 190.5 672.5 190.5 674.0 190.8 675.5 191.3 677.0 191.8 677.4 192.0 678.5 192.5 680.0 193.3 680.4 193.5 681.1 193.9 680.0 195.0 678.5 196.5 677.0 196.5 675.5 195.0 674.0 193.5 672.5 192.0 671.0 192.0 669.5 193.5 668.0 195.0 666.5 196.5 665.0 198.0 663.5 199.5 662.0 199.5 660.5 199.5 659.0 199.5 657.5 199.5 656.0 199.5 654.5 198.0 653.0 196.5 652.5 196.0 653.0 195.8 654.5 195.1 654.6 195.0 656.0 194.3 657.5 193.6 657.7 193.5 659.0 192.9 660.5 192.2 661.1 192.0 662.0 191.6 663.5 191.2 665.0 190.8 666.5 190.5 666.6 190.5ZM555.5 205.1 557.0 205.2 558.5 205.3 560.0 205.4 561.4 205.5 561.5 205.5 563.0 205.6 564.5 205.7 566.0 205.8 567.5 205.8 569.0 205.9 570.5 205.9 572.0 205.9 573.5 206.0 575.0 206.0 576.5 206.0 578.0 206.0 578.5 206.0 579.5 207.0 581.0 208.5 582.5 210.0 584.0 211.5 584.0 213.0 582.8 214.2 582.5 214.2 581.0 214.1 579.5 214.0 578.0 213.9 576.5 213.8 575.0 213.7 573.5 213.6 572.0 213.5 570.5 213.4 569.0 213.3 567.5 213.2 566.0 213.1 564.5 213.1 563.3 213.0 563.0 213.0 561.5 212.9 560.0 212.8 558.5 212.7 557.0 212.7 555.5 212.6 554.0 212.5 554.0 211.5 554.0 210.0 554.0 208.5 554.0 207.0 554.0 205.5 554.0 205.0ZM693.7 205.5 695.0 206.9 695.1 207.0 696.5 208.4 696.6 208.5 698.0 209.6 698.7 210.0 699.5 210.5 701.0 211.1 702.2 211.5 702.5 211.6 704.0 212.1 705.5 212.6 706.3 213.0 707.0 213.4 708.4 214.5 708.5 214.6 709.5 216.0 710.0 216.8 710.3 217.5 711.0 219.0 710.0 219.0 708.5 219.0 707.0 219.0 705.5 219.0 704.0 219.0 702.5 219.0 701.0 219.0 699.5 217.5 698.0 216.0 696.5 214.5 695.0 213.0 693.5 211.5 693.5 210.0 692.0 208.5 692.0 207.0 693.5 205.5 693.6 205.4ZM715.0 229.5 715.7 231.0 716.0 231.7 716.4 232.5 717.2 234.0 717.5 234.5 718.1 235.5 719.0 236.9 719.1 237.0 720.1 238.5 720.5 239.1 721.2 240.0 722.0 241.2 722.2 241.5 723.2 243.0 723.5 243.4 724.2 244.5 725.0 245.9 725.0 246.0 725.9 247.5 726.5 248.7 726.7 249.0 727.4 250.5 728.0 251.7 728.2 252.0 728.8 253.5 729.5 255.0 729.5 255.1 730.1 256.5 730.6 258.0 731.0 259.3 731.1 259.5 731.5 261.0 731.8 262.5 732.0 264.0 732.2 265.5 732.3 267.0 732.2 268.5 732.1 270.0 732.0 271.5 731.8 273.0 731.4 274.5 731.0 276.0 731.0 276.0 730.5 277.5 729.9 279.0 729.5 279.8 729.2 280.5 728.7 281.2 728.0 280.5 726.5 279.0 725.0 277.5 723.5 276.0 722.0 274.5 722.0 273.0 722.0 271.5 720.5 270.0 720.5 268.5 720.5 267.0 720.5 265.5 720.5 264.0 719.0 262.5 719.0 261.0 717.5 259.5 716.0 258.0 716.0 256.5 714.5 255.0 714.5 253.5 714.5 252.0 714.5 250.5 714.5 249.0 714.5 247.5 714.5 246.0 714.5 244.5 714.5 243.0 714.5 241.5 714.5 240.0 714.5 238.5 714.5 237.0 714.5 235.5 714.5 234.0 714.5 232.5 714.5 231.0 714.5 229.5 714.5 228.4ZM153.5 304.5 155.0 304.5 156.0 304.5 156.5 304.8 158.0 305.6 158.6 306.0 159.5 306.6 160.8 307.5 161.0 307.6 162.5 308.8 162.8 309.0 164.0 310.0 164.6 310.5 165.5 311.3 166.4 312.0 167.0 312.5 168.4 313.5 168.5 313.6 170.0 314.5 170.8 315.0 171.5 315.4 173.0 316.3 173.4 316.5 174.5 317.3 175.4 318.0 176.0 318.5 176.6 318.9 176.0 319.5 174.5 319.5 173.0 321.0 171.5 321.0 170.0 322.5 168.5 324.0 167.0 325.5 165.5 327.0 164.3 328.2 164.0 327.8 163.5 327.0 162.6 325.5 162.5 325.4 161.6 324.0 161.0 323.1 160.6 322.5 159.7 321.0 159.5 320.8 158.7 319.5 158.0 318.3 157.8 318.0 156.8 316.5 156.5 316.0 155.6 315.0 155.0 314.4 153.7 313.5 153.5 313.4 152.0 312.7 150.5 312.2 150.0 312.0 149.0 311.7 147.5 311.3 146.8 311.2 147.5 310.5 149.0 309.0 150.5 307.5 152.0 306.0ZM596.0 321.8 597.5 321.2 597.7 321.2 599.0 322.5 600.5 324.0 602.0 325.5 602.0 325.8 600.5 326.2 599.0 326.6 597.8 327.0 597.5 327.1 596.0 327.6 594.5 328.2 593.7 328.5 593.0 328.8 591.5 329.6 590.8 330.0 590.0 330.5 588.6 331.5 588.5 331.6 587.0 332.7 586.5 333.0 585.5 333.7 584.2 334.5 584.0 334.7 582.5 335.5 581.5 336.0 581.0 336.3 579.5 336.9 578.0 337.4 577.7 337.5 576.5 337.9 575.0 338.2 573.5 338.4 572.0 338.6 570.5 338.8 569.5 339.0 569.0 339.1 567.5 339.8 566.0 340.4 565.6 340.5 564.5 341.0 563.0 341.4 561.5 341.7 560.0 341.9 558.8 342.0 558.5 342.0 557.0 342.0 556.4 342.0 555.5 342.0 554.0 341.8 552.5 341.7 551.0 341.6 549.5 341.7 548.0 342.0 547.9 342.0 546.5 342.4 545.0 342.8 543.5 343.1 542.0 343.2 540.5 343.3 539.0 343.4 537.5 343.3 536.0 343.3 534.5 343.2 533.0 343.2 531.5 343.1 530.0 343.0 528.5 343.0 527.0 343.0 525.5 343.0 524.0 343.1 522.5 343.1 521.0 343.2 519.5 343.3 518.0 343.4 516.5 343.5 516.4 343.5 515.0 343.7 513.5 343.9 512.0 344.2 510.5 344.5 509.0 344.8 508.2 345.0 507.5 345.2 506.0 345.7 504.5 346.2 503.4 346.5 503.0 346.7 501.5 347.2 500.0 347.6 498.7 348.0 498.5 348.0 498.5 348.0 498.5 346.5 497.0 345.0 497.0 344.3 498.5 344.0 500.0 343.7 500.7 343.5 501.5 343.3 503.0 342.9 504.5 342.5 506.0 342.1 506.3 342.0 507.5 341.7 509.0 341.3 510.5 340.9 511.9 340.5 512.0 340.5 513.5 340.1 515.0 339.7 516.5 339.5 518.0 339.2 519.5 339.0 519.8 339.0 521.0 338.9 522.5 338.7 524.0 338.6 525.5 338.5 527.0 338.3 528.5 338.2 530.0 338.1 531.5 338.1 533.0 338.1 534.5 338.1 536.0 338.1 537.5 338.0 539.0 337.9 540.5 337.8 542.0 337.5 542.3 337.5 543.5 337.3 545.0 337.1 546.5 336.8 548.0 336.5 549.5 336.3 551.0 336.2 552.5 336.1 554.0 336.1 555.5 336.0 556.1 336.0 557.0 336.0 558.5 335.9 560.0 335.7 561.5 335.6 563.0 335.4 564.5 335.1 566.0 334.9 567.5 334.6 568.1 334.5 569.0 334.3 570.5 334.1 572.0 333.8 573.5 333.5 575.0 333.1 575.3 333.0 576.5 332.6 578.0 332.1 579.4 331.5 579.5 331.5 581.0 330.7 582.3 330.0 582.5 329.9 584.0 329.0 584.7 328.5 585.5 328.0 586.8 327.0 587.0 326.8 588.5 325.8 588.9 325.5 590.0 324.8 591.4 324.0 591.5 324.0 593.0 323.2 594.5 322.5 594.5 322.5ZM446.0 337.2 447.5 337.1 449.0 336.9 450.5 336.8 452.0 336.6 453.5 336.6 455.0 336.6 456.5 336.8 458.0 337.0 458.4 337.1 458.0 337.5 456.5 339.0 455.0 340.5 453.5 342.0 452.0 343.5 450.5 342.0 449.0 340.5 447.5 339.0 446.0 337.5 445.7 337.2ZM429.5 338.6 431.0 338.3 432.5 338.1 434.0 338.0 435.5 337.9 435.5 339.0 435.5 340.5 435.5 342.0 435.5 343.5 434.0 345.0 432.5 346.5 431.0 348.0 429.5 349.5 428.0 351.0 426.5 351.0 425.0 349.5 423.5 348.0 422.0 346.5 420.5 346.5 419.0 346.5 417.5 346.5 416.0 346.5 415.8 346.5 416.0 346.3 417.5 345.1 417.7 345.0 419.0 344.0 419.7 343.5 420.5 342.9 422.0 342.0 422.0 342.0 423.5 341.1 424.6 340.5 425.0 340.3 426.5 339.6 428.0 339.0 428.1 339.0Z"/>
<path fill="#ff7300" stroke="#ff7300" stroke-width="0.6" fill-rule="evenodd" d="M512.0 140.5 513.5 140.2 515.0 140.1 516.5 140.2 518.0 140.3 519.5 140.6 521.0 140.9 521.2 141.0 522.5 141.4 524.0 141.9 525.5 142.5 525.5 142.5 527.0 143.3 528.0 144.0 528.5 144.5 529.3 145.5 530.0 147.0 530.0 147.1 530.3 148.5 530.5 150.0 530.7 151.5 530.9 153.0 531.2 154.5 531.5 155.9 531.5 156.0 531.9 157.5 532.3 159.0 532.7 160.5 533.0 161.5 533.1 162.0 533.4 163.5 533.5 165.0 533.4 166.5 533.2 168.0 533.0 168.8 532.8 169.5 532.3 171.0 531.8 172.5 531.5 173.2 531.2 174.0 530.5 175.5 530.0 176.5 529.7 177.0 528.6 178.5 528.5 178.7 527.0 179.8 526.4 180.0 525.5 180.3 524.0 180.3 522.9 180.0 522.5 179.9 521.0 179.0 520.3 178.5 519.5 177.7 519.0 177.0 518.0 175.5 518.0 175.5 517.3 174.0 516.7 172.5 516.5 172.1 516.0 171.0 515.1 169.5 515.0 169.4 513.7 168.0 513.5 167.8 512.0 166.9 511.0 166.5 510.5 166.3 509.0 166.0 507.5 165.9 506.0 165.8 504.5 165.7 503.0 165.5 501.5 165.2 501.0 165.0 500.0 164.6 498.5 163.5 498.5 163.5 497.3 162.0 497.0 161.5 496.5 160.5 496.2 159.0 496.2 157.5 496.5 156.0 497.0 155.0 497.3 154.5 498.5 153.0 498.5 153.0 500.0 151.6 500.1 151.5 501.5 150.4 502.0 150.0 503.0 149.2 503.8 148.5 504.5 147.7 505.1 147.0 506.0 145.9 506.3 145.5 507.4 144.0 507.5 143.8 508.7 142.5 509.0 142.2 510.5 141.1 510.8 141.0ZM411.5 165.0 413.0 164.9 414.2 165.0 414.5 165.0 416.0 165.3 417.5 165.7 419.0 166.3 419.4 166.5 420.5 167.0 422.0 167.7 422.4 168.0 423.5 168.6 424.9 169.5 425.0 169.6 426.5 170.5 427.4 171.0 428.0 171.3 429.5 171.9 431.0 172.3 431.8 172.5 432.5 172.6 434.0 172.9 435.5 173.1 437.0 173.3 438.5 173.7 439.6 174.0 440.0 174.1 441.5 174.7 442.8 175.5 443.0 175.6 444.5 176.9 444.6 177.0 445.9 178.5 446.0 178.7 446.9 180.0 447.5 181.0 447.8 181.5 448.8 183.0 449.0 183.3 449.9 184.5 450.5 185.3 451.0 186.0 452.0 187.3 452.2 187.5 453.4 189.0 453.5 189.1 454.8 190.5 455.0 190.8 456.1 192.0 456.5 192.4 457.6 193.5 458.0 193.9 459.1 195.0 459.5 195.4 460.6 196.5 461.0 196.9 462.2 198.0 462.5 198.3 463.8 199.5 464.0 199.6 465.5 200.9 465.7 201.0 467.0 201.9 468.2 202.5 468.5 202.6 470.0 203.2 471.5 203.5 473.0 203.7 474.5 203.8 476.0 203.9 477.5 203.9 479.0 204.0 479.6 204.0 480.5 204.0 482.0 204.2 483.5 204.3 485.0 204.6 486.5 204.8 488.0 205.1 489.5 205.4 490.3 205.5 491.0 205.6 492.5 205.8 494.0 205.9 495.5 206.1 497.0 206.3 498.5 206.6 500.0 206.9 500.3 207.0 501.5 207.3 503.0 207.7 504.5 208.2 505.5 208.5 506.0 208.6 507.5 209.0 509.0 209.2 510.5 209.0 511.5 208.5 512.0 208.2 513.5 207.1 513.7 207.0 515.0 205.9 515.5 205.5 516.5 204.7 517.5 204.0 518.0 203.6 519.5 202.7 519.8 202.5 521.0 201.8 522.5 201.1 522.6 201.0 524.0 200.3 525.5 199.6 525.9 199.5 527.0 199.0 528.5 198.4 529.7 198.0 530.0 197.9 531.5 197.4 533.0 197.0 534.5 196.7 535.5 196.5 536.0 196.4 537.5 196.2 539.0 196.1 540.5 196.1 542.0 196.1 543.5 196.1 545.0 196.2 546.5 196.3 548.0 196.4 549.5 196.5 549.8 196.5 551.0 196.6 552.5 196.7 554.0 196.9 555.5 197.1 557.0 197.3 558.5 197.6 560.0 197.9 561.0 198.0 561.5 198.1 563.0 198.2 564.5 198.4 566.0 198.4 567.5 198.5 569.0 198.4 569.0 199.5 570.5 201.0 572.0 201.0 573.5 202.5 575.0 204.0 576.5 204.0 578.0 205.5 578.5 206.0 578.0 206.0 576.5 206.0 575.0 206.0 573.5 206.0 572.0 205.9 570.5 205.9 569.0 205.9 567.5 205.8 566.0 205.8 564.5 205.7 563.0 205.6 561.5 205.5 561.4 205.5 560.0 205.4 558.5 205.3 557.0 205.2 555.5 205.1 554.0 205.0 554.0 204.0 554.0 202.5 552.5 201.0 551.0 201.0 549.5 201.0 548.0 201.0 546.5 201.0 545.0 202.5 543.5 201.0 542.0 201.0 540.5 201.0 539.0 201.0 537.5 201.0 536.0 201.0 534.5 201.0 533.0 201.0 531.5 201.0 530.0 201.0 528.5 201.0 527.0 201.0 525.5 201.0 524.0 201.0 522.5 202.5 521.0 204.0 521.0 205.5 521.0 207.0 521.0 208.5 521.0 210.0 521.0 210.8 519.5 211.5 519.5 211.5 518.0 212.1 516.5 212.8 515.9 213.0 515.0 213.3 513.5 213.8 512.0 214.2 510.6 214.5 510.5 214.5 509.0 214.7 507.5 214.7 506.0 214.6 504.8 214.5 504.5 214.5 503.0 214.1 501.5 213.8 500.0 213.2 499.0 213.0 498.5 212.8 497.0 212.2 495.5 211.8 494.0 211.6 493.6 211.5 492.5 211.2 491.0 211.0 489.5 210.7 488.0 210.4 486.5 210.2 485.0 210.0 485.0 210.0 483.5 209.8 482.0 209.5 480.5 209.3 479.0 209.1 477.5 209.0 476.0 208.9 474.5 208.7 473.8 208.5 473.0 208.3 471.5 208.0 470.0 207.5 468.5 207.0 468.4 207.0 467.0 206.4 465.5 205.7 465.3 205.5 464.0 204.7 463.1 204.0 462.5 203.5 461.4 202.5 461.0 202.1 459.9 201.0 459.5 200.6 458.5 199.5 458.0 198.9 457.2 198.0 456.5 197.3 455.7 196.5 455.0 195.7 454.2 195.0 453.5 194.3 452.6 193.5 452.0 192.9 451.0 192.0 450.5 191.5 449.5 190.5 449.0 189.9 448.3 189.0 447.5 188.0 447.2 187.5 446.2 186.0 446.0 185.7 445.3 184.5 444.5 183.1 444.5 183.0 443.6 181.5 443.0 180.7 442.5 180.0 441.5 179.0 440.9 178.5 440.0 177.9 438.5 177.2 437.9 177.0 437.0 176.7 435.5 176.4 434.0 176.0 432.5 175.7 431.9 175.5 431.0 175.3 429.5 174.9 428.0 174.3 427.2 174.0 426.5 173.7 425.0 173.0 424.0 172.5 423.5 172.3 422.0 171.5 420.8 171.0 420.5 170.8 419.0 170.3 417.5 169.9 416.0 169.7 414.5 169.7 413.0 169.9 411.5 170.2 410.0 170.7 409.2 171.0 408.5 171.2 407.0 171.9 406.0 172.5 405.5 172.8 404.0 173.9 403.9 174.0 402.5 175.2 402.1 175.5 401.0 176.5 400.3 177.0 399.5 177.5 398.0 178.1 396.5 178.2 395.0 178.2 393.5 178.2 392.0 178.2 390.5 178.2 389.0 178.5 389.0 178.5 387.5 179.0 386.0 179.6 385.0 180.0 384.5 180.3 383.0 181.0 381.8 181.5 381.5 181.6 380.0 182.2 378.5 182.6 377.0 182.8 375.5 182.8 374.0 182.8 372.5 182.6 371.0 182.4 369.5 182.3 368.0 182.1 366.5 182.0 365.0 182.0 363.5 181.9 362.0 182.0 360.5 182.2 359.0 182.6 357.6 183.0 357.5 183.0 356.0 183.5 354.5 183.9 353.0 184.3 351.6 184.5 351.5 184.5 350.0 184.7 348.5 184.8 347.0 184.8 345.5 184.8 344.0 184.7 342.5 184.7 341.0 184.7 339.5 184.8 338.0 184.9 336.5 185.1 335.0 185.4 333.5 185.7 332.4 186.0 332.0 186.1 330.5 186.6 329.0 187.1 327.7 187.5 327.5 187.6 326.0 188.1 324.5 188.5 323.0 189.0 322.9 189.0 321.5 189.4 320.0 189.8 318.5 190.2 317.0 190.5 317.0 190.5 315.5 190.8 314.0 191.1 312.5 191.4 311.0 191.7 309.5 192.0 309.5 192.0 308.0 192.3 306.5 192.6 305.0 192.9 303.5 193.3 302.6 193.5 302.0 193.7 300.5 194.1 299.0 194.7 298.2 195.0 297.5 195.3 296.0 196.0 295.1 196.5 294.5 196.8 293.0 197.6 292.3 198.0 291.5 198.5 290.0 199.5 290.0 199.5 288.5 200.7 288.2 201.0 287.0 202.4 287.0 202.5 286.2 204.0 285.7 205.5 285.6 207.0 285.8 208.5 286.2 210.0 286.9 211.5 287.0 211.7 287.8 213.0 288.5 214.1 288.8 214.5 290.0 216.0 290.0 216.0 291.1 217.5 291.5 218.2 292.0 219.0 292.5 220.5 292.5 222.0 292.2 223.5 291.5 224.8 291.4 225.0 290.4 226.5 290.0 227.0 289.4 228.0 288.5 229.3 288.4 229.5 287.7 231.0 287.0 232.5 287.0 232.6 286.4 234.0 285.7 235.5 285.5 235.9 284.9 237.0 284.0 238.4 283.9 238.5 282.5 239.9 282.4 240.0 281.0 240.8 279.5 241.0 278.0 240.9 276.5 240.5 275.2 240.0 275.0 239.9 273.5 239.3 272.0 238.6 271.7 238.5 270.5 238.0 269.0 237.3 268.3 237.0 267.5 236.6 266.0 235.8 265.6 235.5 264.5 234.8 263.5 234.0 263.0 233.6 261.7 232.5 261.5 232.3 260.1 231.0 260.0 230.9 258.5 229.8 258.1 229.5 257.0 228.8 255.8 228.0 255.5 227.8 254.0 226.8 253.5 226.5 252.5 225.9 251.0 225.0 251.0 225.0 249.5 224.2 248.0 223.6 247.9 223.5 246.5 223.0 245.0 222.4 243.7 222.0 243.5 221.9 242.0 221.5 240.5 221.1 239.0 220.9 237.5 220.9 236.0 220.8 234.5 220.9 233.0 220.9 231.5 221.1 230.0 221.7 229.5 222.0 228.5 222.9 228.0 223.5 227.0 225.0 227.0 225.0 226.2 226.5 225.5 227.8 225.4 228.0 224.7 229.5 224.0 231.0 224.0 231.1 223.4 232.5 222.9 234.0 222.5 235.1 222.4 235.5 222.0 237.0 221.6 238.5 221.3 240.0 221.0 241.5 221.0 241.5 220.6 243.0 220.2 244.5 219.9 246.0 219.6 247.5 219.5 248.8 219.5 249.0 219.5 249.2 219.7 250.5 220.4 252.0 221.0 253.1 221.3 253.5 222.2 255.0 222.5 255.7 222.8 256.5 223.0 258.0 222.8 259.5 222.5 260.1 222.2 261.0 221.4 262.5 221.0 263.2 220.5 264.0 219.6 265.5 219.5 265.6 218.7 267.0 218.0 268.2 217.8 268.5 217.1 270.0 216.5 271.5 216.5 271.5 215.9 273.0 215.1 274.5 215.0 274.7 214.3 276.0 213.5 277.4 213.4 277.5 212.8 279.0 213.1 280.5 213.5 281.1 214.2 282.0 215.0 282.8 215.7 283.5 216.5 284.3 217.1 285.0 218.0 286.2 218.2 286.5 219.0 288.0 219.4 289.5 219.4 291.0 219.0 292.5 218.4 294.0 218.0 294.6 217.6 295.5 216.7 297.0 216.5 297.4 216.0 298.5 215.4 300.0 215.0 301.2 214.9 301.5 214.5 303.0 214.2 304.5 213.8 306.0 213.5 307.2 213.4 307.5 213.0 309.0 212.6 310.5 212.3 312.0 212.2 313.5 212.1 315.0 212.1 316.5 212.0 317.4 212.0 318.0 211.8 319.5 211.5 321.0 211.0 322.5 210.5 323.9 210.5 324.0 209.8 325.5 209.0 327.0 209.0 327.0 208.1 328.5 207.5 329.6 207.2 330.0 206.0 331.5 206.0 331.6 204.6 333.0 204.5 333.1 203.0 334.2 202.3 334.5 201.5 334.9 200.0 335.3 198.5 335.4 197.0 335.2 195.5 334.9 194.6 334.5 194.0 334.3 193.6 334.1 192.5 333.0 191.0 331.5 189.5 330.0 189.5 328.5 189.5 327.0 189.5 325.5 189.5 324.0 189.5 322.5 189.5 321.0 189.5 319.5 188.0 318.0 186.5 316.5 185.0 316.5 183.5 316.5 182.0 316.5 180.5 316.5 179.0 316.5 177.5 318.0 176.6 318.9 176.0 318.5 175.4 318.0 174.5 317.3 173.4 316.5 173.0 316.3 171.5 315.4 170.8 315.0 170.0 314.5 168.5 313.6 168.4 313.5 167.0 312.5 166.4 312.0 165.5 311.3 164.6 310.5 164.0 310.0 162.8 309.0 162.5 308.8 161.0 307.6 160.8 307.5 159.5 306.6 158.6 306.0 158.0 305.6 156.5 304.8 156.0 304.5 156.5 304.5 158.0 304.5 159.5 304.5 161.0 304.5 162.5 304.5 164.0 303.0 164.0 301.5 164.0 300.0 164.0 299.0 165.5 299.8 165.9 300.0 167.0 300.5 168.5 301.3 169.0 301.5 170.0 302.0 171.5 302.6 172.7 303.0 173.0 303.1 174.5 303.5 176.0 303.8 177.5 304.0 179.0 304.2 180.5 304.5 180.5 304.5 182.0 304.8 183.5 305.5 184.3 306.0 185.0 306.6 185.7 307.5 186.5 308.6 186.7 309.0 187.8 310.5 188.0 310.8 189.3 312.0 189.5 312.2 191.0 312.8 192.5 313.1 194.0 313.1 195.5 312.8 197.0 312.2 197.4 312.0 198.5 311.2 199.2 310.5 200.0 309.2 200.1 309.0 200.6 307.5 201.1 306.0 201.5 304.8 201.6 304.5 202.1 303.0 202.7 301.5 203.0 300.9 203.4 300.0 204.2 298.5 204.5 298.1 205.2 297.0 206.0 295.8 206.2 295.5 207.3 294.0 207.5 293.6 208.1 292.5 208.4 291.0 207.5 289.5 207.5 289.5 206.0 288.4 205.5 288.0 204.5 287.2 203.8 286.5 203.0 285.3 202.8 285.0 202.3 283.5 202.1 282.0 202.0 280.5 202.0 279.0 202.1 277.5 202.4 276.0 203.0 274.6 203.1 274.5 204.2 273.0 204.5 272.7 206.0 271.6 206.1 271.5 207.5 270.6 208.4 270.0 209.0 269.4 209.5 268.5 210.1 267.0 210.5 265.8 210.6 265.5 210.9 264.0 211.3 262.5 211.6 261.0 211.7 259.5 211.6 258.0 211.4 256.5 211.2 255.0 211.2 253.5 211.2 252.0 211.2 250.5 211.2 249.0 211.2 247.5 211.2 246.0 211.4 244.5 211.6 243.0 212.0 241.5 212.0 241.4 212.5 240.0 213.2 238.5 213.5 237.9 214.0 237.0 214.7 235.5 215.0 234.7 215.3 234.0 215.9 232.5 216.3 231.0 216.5 230.4 216.8 229.5 217.2 228.0 217.6 226.5 218.0 225.4 218.2 225.0 218.8 223.5 219.5 222.3 219.7 222.0 220.8 220.5 221.0 220.2 222.1 219.0 222.5 218.7 223.9 217.5 224.0 217.4 225.5 216.5 226.5 216.0 227.0 215.8 228.5 215.4 230.0 215.2 231.5 215.2 233.0 215.3 234.5 215.5 236.0 215.7 237.5 215.9 238.1 216.0 239.0 216.1 240.5 216.3 242.0 216.5 243.5 216.8 245.0 217.1 246.4 217.5 246.5 217.5 248.0 218.2 249.3 219.0 249.5 219.1 251.0 220.1 251.4 220.5 252.5 221.3 253.4 222.0 254.0 222.4 255.4 223.5 255.5 223.6 257.0 224.7 257.5 225.0 258.5 225.7 259.8 226.5 260.0 226.6 261.5 227.6 262.1 228.0 263.0 228.7 264.0 229.5 264.5 229.9 265.9 231.0 266.0 231.1 267.5 232.1 268.3 232.5 269.0 232.8 270.5 233.4 272.0 233.7 273.5 233.8 275.0 233.7 276.5 233.3 277.6 232.5 278.0 232.0 278.7 231.0 279.5 229.5 279.5 229.4 280.2 228.0 280.8 226.5 281.0 225.7 281.2 225.0 281.4 223.5 281.4 222.0 281.2 220.5 281.0 219.8 280.8 219.0 280.1 217.5 279.5 216.4 279.3 216.0 278.2 214.5 278.0 214.2 277.0 213.0 276.5 212.4 275.6 211.5 275.0 210.8 274.1 210.0 273.5 209.2 272.8 208.5 272.1 207.0 272.0 206.7 271.7 205.5 271.8 204.0 272.0 202.7 272.0 202.5 272.4 201.0 272.7 199.5 273.0 198.0 273.3 196.5 273.5 195.9 273.8 195.0 274.4 193.5 275.0 192.6 275.3 192.0 276.5 190.5 276.5 190.5 278.0 189.4 279.0 189.0 279.5 188.9 281.0 188.9 281.5 189.0 282.5 189.3 284.0 189.8 285.5 190.4 286.0 190.5 287.0 190.8 288.5 191.0 290.0 191.0 291.5 190.7 292.2 190.5 293.0 190.2 294.5 189.7 296.0 189.2 296.5 189.0 297.5 188.7 299.0 188.2 300.5 187.8 301.9 187.5 302.0 187.5 303.5 187.2 305.0 186.9 306.5 186.7 308.0 186.5 309.5 186.3 311.0 186.2 312.5 186.0 312.7 186.0 314.0 185.9 315.5 185.7 317.0 185.5 318.5 185.3 320.0 185.0 321.5 184.7 322.4 184.5 323.0 184.4 324.5 184.0 326.0 183.6 327.5 183.2 328.3 183.0 329.0 182.8 330.5 182.5 332.0 182.2 333.5 182.0 335.0 181.8 336.5 181.7 338.0 181.7 339.5 181.6 341.0 181.6 342.5 181.6 344.0 181.7 345.5 181.7 347.0 181.8 348.5 181.7 350.0 181.6 350.6 181.5 351.5 181.3 353.0 180.8 354.5 180.2 354.9 180.0 356.0 179.5 357.5 178.9 358.5 178.5 359.0 178.3 360.5 178.0 362.0 177.8 363.5 177.8 365.0 177.8 366.5 177.8 368.0 177.9 369.5 178.0 371.0 178.1 372.5 178.2 374.0 178.3 375.5 178.4 377.0 178.3 378.5 178.2 380.0 177.9 381.5 177.4 382.8 177.0 383.0 176.9 384.5 176.4 386.0 176.0 387.5 175.6 387.9 175.5 389.0 175.3 390.5 175.0 392.0 174.7 393.5 174.5 395.0 174.1 395.5 174.0 396.5 173.7 398.0 173.0 398.8 172.5 399.5 172.1 401.0 171.0 401.0 171.0 402.5 169.8 403.0 169.5 404.0 168.7 405.0 168.0 405.5 167.7 407.0 166.7 407.4 166.5 408.5 165.9 410.0 165.3 411.3 165.0ZM665.0 179.8 666.5 179.6 668.0 179.4 669.5 179.3 671.0 179.3 672.5 179.4 674.0 179.6 675.5 179.9 676.0 180.0 677.0 180.2 678.5 180.7 680.0 181.3 680.5 181.5 681.5 181.9 683.0 182.7 683.6 183.0 684.5 183.5 685.9 184.4 686.0 184.5 686.0 186.0 686.0 187.5 686.0 189.0 684.5 190.5 683.0 192.0 681.5 193.5 681.1 193.9 680.4 193.5 680.0 193.3 678.5 192.5 677.4 192.0 677.0 191.8 675.5 191.3 674.0 190.8 672.5 190.5 672.2 190.5 671.0 190.4 669.5 190.3 668.0 190.4 666.6 190.5 666.5 190.5 665.0 190.8 663.5 191.2 662.0 191.6 661.1 192.0 660.5 192.2 659.0 192.9 657.7 193.5 657.5 193.6 656.0 194.3 654.6 195.0 654.5 195.1 653.0 195.8 652.5 196.0 651.5 195.0 650.0 193.5 648.5 192.0 650.0 190.5 650.0 189.0 650.0 187.5 650.0 186.3 650.6 186.0 651.5 185.5 653.0 184.7 653.3 184.5 654.5 183.9 656.0 183.1 656.1 183.0 657.5 182.3 659.0 181.6 659.4 181.5 660.5 181.1 662.0 180.6 663.5 180.1 664.2 180.0ZM699.5 199.5 701.0 199.5 702.5 199.5 704.0 199.5 704.5 199.5 705.5 200.1 707.0 200.9 707.3 201.0 708.5 201.6 710.0 202.3 710.4 202.5 711.5 203.0 713.0 203.9 713.2 204.0 714.5 204.9 715.2 205.5 716.0 206.3 716.7 207.0 717.5 207.9 718.0 208.5 719.0 209.8 719.1 210.0 720.1 211.5 720.5 212.2 721.0 213.0 721.8 214.5 722.0 215.0 722.5 216.0 723.1 217.5 723.5 218.6 723.6 219.0 724.2 220.5 724.8 222.0 725.0 222.6 725.4 223.5 726.1 225.0 726.5 225.7 727.0 226.5 728.0 227.8 728.2 228.0 729.5 229.3 729.8 229.5 731.0 230.4 731.9 231.0 732.5 231.4 734.0 232.2 734.6 232.5 735.5 232.9 737.0 233.5 738.4 234.0 738.5 234.0 740.0 234.4 741.5 234.8 743.0 235.0 744.5 235.1 746.0 235.2 747.5 235.2 749.0 235.2 750.5 235.1 752.0 234.9 753.5 234.8 755.0 234.6 756.5 234.5 758.0 234.4 759.5 234.4 761.0 234.6 762.5 234.8 764.0 235.2 765.0 235.5 765.5 235.7 766.5 236.0 765.5 237.0 764.0 238.5 764.0 240.0 762.5 241.5 761.0 243.0 759.5 244.5 758.0 246.0 756.5 247.5 755.0 247.5 753.5 247.5 752.0 247.5 750.5 247.5 749.0 247.5 747.5 247.5 746.0 247.5 744.5 247.5 743.0 249.0 743.0 250.5 743.0 252.0 743.0 253.5 743.0 255.0 743.0 256.5 743.0 258.0 743.0 259.5 743.0 261.0 743.0 262.5 743.0 264.0 743.0 265.5 743.0 267.0 743.0 268.5 743.0 270.0 743.0 271.5 741.5 273.0 740.0 274.5 738.5 276.0 737.0 277.5 735.5 279.0 734.0 279.0 732.5 280.5 731.0 282.0 729.5 282.0 728.7 281.2 729.2 280.5 729.5 279.8 729.9 279.0 730.5 277.5 731.0 276.0 731.0 276.0 731.4 274.5 731.8 273.0 732.0 271.5 732.1 270.0 732.2 268.5 732.3 267.0 732.2 265.5 732.0 264.0 731.8 262.5 731.5 261.0 731.1 259.5 731.0 259.3 730.6 258.0 730.1 256.5 729.5 255.1 729.5 255.0 728.8 253.5 728.2 252.0 728.0 251.7 727.4 250.5 726.7 249.0 726.5 248.7 725.9 247.5 725.0 246.0 725.0 245.9 724.2 244.5 723.5 243.4 723.2 243.0 722.2 241.5 722.0 241.2 721.2 240.0 720.5 239.1 720.1 238.5 719.1 237.0 719.0 236.9 718.1 235.5 717.5 234.5 717.2 234.0 716.4 232.5 716.0 231.7 715.7 231.0 715.0 229.5 714.5 228.4 714.5 228.0 714.5 226.5 714.5 225.0 714.5 223.5 714.5 222.0 714.5 220.5 714.5 219.0 713.0 217.5 711.5 219.0 711.0 219.0 710.3 217.5 710.0 216.8 709.5 216.0 708.5 214.6 708.4 214.5 707.0 213.4 706.3 213.0 705.5 212.6 704.0 212.1 702.5 211.6 702.2 211.5 701.0 211.1 699.5 210.5 698.7 210.0 698.0 209.6 696.6 208.5 696.5 208.4 695.1 207.0 695.0 206.9 693.7 205.5 693.6 205.4 695.0 204.0 696.5 202.5 698.0 201.0ZM599.0 326.6 600.5 326.2 602.0 325.8 602.0 327.0 600.5 328.5 599.0 330.0 597.5 331.5 596.0 333.0 594.5 334.5 593.0 336.0 591.5 337.5 590.0 339.0 589.8 339.2 588.5 340.1 587.8 340.5 587.0 341.1 585.5 342.0 585.5 342.0 584.0 343.0 583.3 343.5 582.5 344.0 581.0 345.0 581.0 345.0 579.5 346.1 579.0 346.5 578.0 347.3 577.2 348.0 576.5 348.5 575.4 349.5 575.0 349.8 573.5 350.8 573.2 351.0 572.0 351.5 570.5 352.0 569.0 352.1 567.5 352.1 566.0 352.0 564.5 351.9 563.0 351.8 561.5 351.8 560.0 351.9 558.5 352.1 557.0 352.4 556.6 352.5 555.5 352.7 554.0 353.1 552.5 353.4 551.0 353.6 549.5 353.6 548.0 353.5 546.5 353.3 545.0 353.0 543.5 352.7 542.5 352.5 542.0 352.4 540.5 352.1 539.0 351.9 537.5 351.6 536.0 351.5 534.5 351.3 533.0 351.2 531.5 351.0 531.5 351.0 530.0 350.8 528.5 350.5 527.0 350.1 525.5 349.7 524.5 349.5 524.0 349.4 522.5 349.1 521.0 348.9 519.5 348.7 518.0 348.5 516.5 348.4 515.0 348.3 513.5 348.3 512.0 348.3 510.5 348.5 509.0 348.9 507.5 349.4 507.3 349.5 506.0 350.1 504.5 350.8 504.2 351.0 503.0 351.6 501.5 352.3 501.0 352.5 500.0 352.9 498.5 353.5 498.5 352.5 498.5 351.0 498.5 349.5 498.5 348.0 498.7 348.0 500.0 347.6 501.5 347.2 503.0 346.7 503.4 346.5 504.5 346.2 506.0 345.7 507.5 345.2 508.2 345.0 509.0 344.8 510.5 344.5 512.0 344.2 513.5 343.9 515.0 343.7 516.4 343.5 516.5 343.5 518.0 343.4 519.5 343.3 521.0 343.2 522.5 343.1 524.0 343.1 525.5 343.0 527.0 343.0 528.5 343.0 530.0 343.0 531.5 343.1 533.0 343.2 534.5 343.2 536.0 343.3 537.5 343.3 539.0 343.4 540.5 343.3 542.0 343.2 543.5 343.1 545.0 342.8 546.5 342.4 547.9 342.0 548.0 342.0 549.5 341.7 551.0 341.6 552.5 341.7 554.0 341.8 555.5 342.0 556.4 342.0 557.0 342.0 558.5 342.0 558.8 342.0 560.0 341.9 561.5 341.7 563.0 341.4 564.5 341.0 565.6 340.5 566.0 340.4 567.5 339.8 569.0 339.1 569.5 339.0 570.5 338.8 572.0 338.6 573.5 338.4 575.0 338.2 576.5 337.9 577.7 337.5 578.0 337.4 579.5 336.9 581.0 336.3 581.5 336.0 582.5 335.5 584.0 334.7 584.2 334.5 585.5 333.7 586.5 333.0 587.0 332.7 588.5 331.6 588.6 331.5 590.0 330.5 590.8 330.0 591.5 329.6 593.0 328.8 593.7 328.5 594.5 328.2 596.0 327.6 597.5 327.1 597.8 327.0Z"/>
<path fill="#ff4300" stroke="#ff4300" stroke-width="0.6" fill-rule="evenodd" d="M501.5 125.7 502.9 126.0 503.0 126.0 504.5 126.4 506.0 126.9 507.5 127.5 507.5 127.5 509.0 128.1 510.5 128.7 511.2 129.0 512.0 129.3 513.5 129.7 515.0 130.1 516.5 130.3 518.0 130.4 519.5 130.5 520.7 130.5 521.0 130.5 522.5 130.5 524.0 130.6 525.5 130.7 527.0 130.9 528.5 131.2 530.0 131.7 530.7 132.0 531.5 132.3 533.0 133.0 533.8 133.5 534.5 133.9 536.0 134.8 536.3 135.0 537.5 135.9 538.3 136.5 539.0 137.1 539.9 138.0 540.5 139.0 540.8 139.5 541.3 141.0 541.5 142.5 541.4 144.0 541.1 145.5 540.8 147.0 540.5 148.3 540.5 148.5 540.3 150.0 540.2 151.5 540.2 153.0 540.3 154.5 540.5 155.8 540.5 156.0 540.7 157.5 540.9 159.0 541.1 160.5 541.2 162.0 541.2 163.5 541.2 165.0 541.2 166.5 541.0 168.0 540.8 169.5 540.5 171.0 540.5 171.0 540.1 172.5 539.7 174.0 539.2 175.5 539.0 176.3 538.8 177.0 538.7 178.5 538.9 180.0 539.0 180.2 539.6 181.5 540.5 182.5 540.9 183.0 542.0 183.9 542.9 184.5 543.5 184.9 545.0 185.8 545.4 186.0 546.5 186.6 548.0 187.3 548.5 187.5 549.5 187.9 551.0 188.4 552.5 188.8 553.1 189.0 554.0 189.2 555.5 189.5 557.0 189.9 558.5 190.2 560.0 190.5 560.4 190.5 561.5 190.6 563.0 190.8 564.5 190.7 566.0 190.6 566.9 190.5 567.5 190.4 569.0 190.1 570.5 189.7 570.5 190.5 569.0 192.0 567.5 193.5 569.0 195.0 569.0 196.5 569.0 198.0 569.0 198.4 567.5 198.5 566.0 198.4 564.5 198.4 563.0 198.2 561.5 198.1 561.0 198.0 560.0 197.9 558.5 197.6 557.0 197.3 555.5 197.1 554.0 196.9 552.5 196.7 551.0 196.6 549.8 196.5 549.5 196.5 548.0 196.4 546.5 196.3 545.0 196.2 543.5 196.1 542.0 196.1 540.5 196.1 539.0 196.1 537.5 196.2 536.0 196.4 535.5 196.5 534.5 196.7 533.0 197.0 531.5 197.4 530.0 197.9 529.7 198.0 528.5 198.4 527.0 199.0 525.9 199.5 525.5 199.6 524.0 200.3 522.6 201.0 522.5 201.1 521.0 201.8 519.8 202.5 519.5 202.7 518.0 203.6 517.5 204.0 516.5 204.7 515.5 205.5 515.0 205.9 513.7 207.0 513.5 207.1 512.0 208.2 511.5 208.5 510.5 209.0 509.0 209.2 507.5 209.0 506.0 208.6 505.5 208.5 504.5 208.2 503.0 207.7 501.5 207.3 500.3 207.0 500.0 206.9 498.5 206.6 497.0 206.3 495.5 206.1 494.0 205.9 492.5 205.8 491.0 205.6 490.3 205.5 489.5 205.4 488.0 205.1 486.5 204.8 485.0 204.6 483.5 204.3 482.0 204.2 480.5 204.0 479.6 204.0 479.0 204.0 477.5 203.9 476.0 203.9 474.5 203.8 473.0 203.7 471.5 203.5 470.0 203.2 468.5 202.6 468.2 202.5 467.0 201.9 465.7 201.0 465.5 200.9 464.0 199.6 463.8 199.5 462.5 198.3 462.2 198.0 461.0 196.9 460.6 196.5 459.5 195.4 459.1 195.0 458.0 193.9 457.6 193.5 456.5 192.4 456.1 192.0 455.0 190.8 454.8 190.5 453.5 189.1 453.4 189.0 452.2 187.5 452.0 187.3 451.0 186.0 450.5 185.3 449.9 184.5 449.0 183.3 448.8 183.0 447.8 181.5 447.5 181.0 446.9 180.0 446.0 178.7 445.9 178.5 444.6 177.0 444.5 176.9 443.0 175.6 442.8 175.5 441.5 174.7 440.0 174.1 439.6 174.0 438.5 173.7 437.0 173.3 435.5 173.1 434.0 172.9 432.5 172.6 431.8 172.5 431.0 172.3 429.5 171.9 428.0 171.3 427.4 171.0 426.5 170.5 425.0 169.6 424.9 169.5 423.5 168.6 422.4 168.0 422.0 167.7 420.5 167.0 419.4 166.5 419.0 166.3 417.5 165.7 416.0 165.3 414.5 165.0 414.2 165.0 413.0 164.9 411.5 165.0 411.3 165.0 410.0 165.3 408.5 165.9 407.4 166.5 407.0 166.7 405.5 167.7 405.0 168.0 404.0 168.7 403.0 169.5 402.5 169.8 401.0 171.0 401.0 171.0 399.5 172.1 398.8 172.5 398.0 173.0 396.5 173.7 395.5 174.0 395.0 174.1 393.5 174.5 392.0 174.7 390.5 175.0 389.0 175.3 387.9 175.5 387.5 175.6 386.0 176.0 384.5 176.4 383.0 176.9 382.8 177.0 381.5 177.4 380.0 177.9 378.5 178.2 377.0 178.3 375.5 178.4 374.0 178.3 372.5 178.2 371.0 178.1 369.5 178.0 368.0 177.9 366.5 177.8 365.0 177.8 363.5 177.8 362.0 177.8 360.5 178.0 359.0 178.3 358.5 178.5 357.5 178.9 356.0 179.5 354.9 180.0 354.5 180.2 353.0 180.8 351.5 181.3 350.6 181.5 350.0 181.6 348.5 181.7 347.0 181.8 345.5 181.7 344.0 181.7 342.5 181.6 341.0 181.6 339.5 181.6 338.0 181.7 336.5 181.7 335.0 181.8 333.5 182.0 332.0 182.2 330.5 182.5 329.0 182.8 328.3 183.0 327.5 183.2 326.0 183.6 324.5 184.0 323.0 184.4 322.4 184.5 321.5 184.7 320.0 185.0 318.5 185.3 317.0 185.5 315.5 185.7 314.0 185.9 312.7 186.0 312.5 186.0 311.0 186.2 309.5 186.3 308.0 186.5 306.5 186.7 305.0 186.9 303.5 187.2 302.0 187.5 301.9 187.5 300.5 187.8 299.0 188.2 297.5 188.7 296.5 189.0 296.0 189.2 294.5 189.7 293.0 190.2 292.2 190.5 291.5 190.7 290.0 191.0 288.5 191.0 287.0 190.8 286.0 190.5 285.5 190.4 284.0 189.8 282.5 189.3 281.5 189.0 281.0 188.9 279.5 188.9 279.0 189.0 278.0 189.4 276.5 190.5 276.5 190.5 275.3 192.0 275.0 192.6 274.4 193.5 273.8 195.0 273.5 195.9 273.3 196.5 273.0 198.0 272.7 199.5 272.4 201.0 272.0 202.5 272.0 202.7 271.8 204.0 271.7 205.5 272.0 206.7 272.1 207.0 272.8 208.5 273.5 209.2 274.1 210.0 275.0 210.8 275.6 211.5 276.5 212.4 277.0 213.0 278.0 214.2 278.2 214.5 279.3 216.0 279.5 216.4 280.1 217.5 280.8 219.0 281.0 219.8 281.2 220.5 281.4 222.0 281.4 223.5 281.2 225.0 281.0 225.7 280.8 226.5 280.2 228.0 279.5 229.4 279.5 229.5 278.7 231.0 278.0 232.0 277.6 232.5 276.5 233.3 275.0 233.7 273.5 233.8 272.0 233.7 270.5 233.4 269.0 232.8 268.3 232.5 267.5 232.1 266.0 231.1 265.9 231.0 264.5 229.9 264.0 229.5 263.0 228.7 262.1 228.0 261.5 227.6 260.0 226.6 259.8 226.5 258.5 225.7 257.5 225.0 257.0 224.7 255.5 223.6 255.4 223.5 254.0 222.4 253.4 222.0 252.5 221.3 251.4 220.5 251.0 220.1 249.5 219.1 249.3 219.0 248.0 218.2 246.5 217.5 246.4 217.5 245.0 217.1 243.5 216.8 242.0 216.5 240.5 216.3 239.0 216.1 238.1 216.0 237.5 215.9 236.0 215.7 234.5 215.5 233.0 215.3 231.5 215.2 230.0 215.2 228.5 215.4 227.0 215.8 226.5 216.0 225.5 216.5 224.0 217.4 223.9 217.5 222.5 218.7 222.1 219.0 221.0 220.2 220.8 220.5 219.7 222.0 219.5 222.3 218.8 223.5 218.2 225.0 218.0 225.4 217.6 226.5 217.2 228.0 216.8 229.5 216.5 230.4 216.3 231.0 215.9 232.5 215.3 234.0 215.0 234.7 214.7 235.5 214.0 237.0 213.5 237.9 213.2 238.5 212.5 240.0 212.0 241.4 212.0 241.5 211.6 243.0 211.4 244.5 211.2 246.0 211.2 247.5 211.2 249.0 211.2 250.5 211.2 252.0 211.2 253.5 211.2 255.0 211.4 256.5 211.6 258.0 211.7 259.5 211.6 261.0 211.3 262.5 210.9 264.0 210.6 265.5 210.5 265.8 210.1 267.0 209.5 268.5 209.0 269.4 208.4 270.0 207.5 270.6 206.1 271.5 206.0 271.6 204.5 272.7 204.2 273.0 203.1 274.5 203.0 274.6 202.4 276.0 202.1 277.5 202.0 279.0 202.0 280.5 202.1 282.0 202.3 283.5 202.8 285.0 203.0 285.3 203.8 286.5 204.5 287.2 205.5 288.0 206.0 288.4 207.5 289.5 207.5 289.5 208.4 291.0 208.1 292.5 207.5 293.6 207.3 294.0 206.2 295.5 206.0 295.8 205.2 297.0 204.5 298.1 204.2 298.5 203.4 300.0 203.0 300.9 202.7 301.5 202.1 303.0 201.6 304.5 201.5 304.8 201.1 306.0 200.6 307.5 200.1 309.0 200.0 309.2 199.2 310.5 198.5 311.2 197.4 312.0 197.0 312.2 195.5 312.8 194.0 313.1 192.5 313.1 191.0 312.8 189.5 312.2 189.3 312.0 188.0 310.8 187.8 310.5 186.7 309.0 186.5 308.6 185.7 307.5 185.0 306.6 184.3 306.0 183.5 305.5 182.0 304.8 180.5 304.5 180.5 304.5 179.0 304.2 177.5 304.0 176.0 303.8 174.5 303.5 173.0 303.1 172.7 303.0 171.5 302.6 170.0 302.0 169.0 301.5 168.5 301.3 167.0 300.5 165.9 300.0 165.5 299.8 164.0 299.0 164.0 298.5 164.0 297.0 164.0 295.5 164.0 294.0 164.0 292.5 164.0 291.0 164.0 289.5 162.5 288.0 161.0 288.0 159.5 288.0 158.0 288.0 156.5 286.5 155.0 285.0 153.5 283.5 152.0 282.0 151.7 281.7 152.0 281.8 152.5 282.0 153.5 282.4 155.0 283.1 155.9 283.5 156.5 283.7 158.0 284.4 159.4 285.0 159.5 285.1 161.0 285.7 162.5 286.2 163.5 286.5 164.0 286.7 165.5 287.0 167.0 287.1 168.5 287.0 170.0 286.5 170.1 286.5 171.5 285.6 172.1 285.0 173.0 284.0 173.4 283.5 174.4 282.0 174.5 281.9 175.3 280.5 176.0 279.3 176.2 279.0 177.0 277.5 177.5 276.5 177.8 276.0 178.5 274.5 179.0 273.2 179.1 273.0 179.6 271.5 180.1 270.0 180.5 268.5 180.5 268.4 180.9 267.0 181.3 265.5 181.8 264.0 182.0 263.6 182.4 262.5 183.1 261.0 183.5 260.3 183.9 259.5 185.0 258.0 185.0 258.0 186.5 256.6 186.6 256.5 188.0 255.6 189.1 255.0 189.5 254.8 191.0 254.1 192.3 253.5 192.5 253.4 194.0 252.6 194.9 252.0 195.5 251.6 197.0 250.5 197.0 250.5 198.5 249.2 198.7 249.0 200.0 247.8 200.3 247.5 201.5 246.1 201.6 246.0 202.6 244.5 203.0 243.8 203.4 243.0 204.1 241.5 204.5 240.4 204.7 240.0 205.2 238.5 205.7 237.0 206.0 236.1 206.2 235.5 206.7 234.0 207.3 232.5 207.5 231.9 207.9 231.0 208.3 229.5 208.4 228.0 208.4 226.5 208.5 225.0 208.6 223.5 209.0 222.0 209.0 222.0 209.7 220.5 210.5 219.7 211.2 219.0 212.0 218.4 213.2 217.5 213.5 217.3 215.0 216.1 215.1 216.0 216.5 214.9 216.9 214.5 218.0 213.6 218.8 213.0 219.5 212.4 220.8 211.5 221.0 211.3 222.5 210.4 223.4 210.0 224.0 209.7 225.5 209.1 227.0 208.8 228.5 208.7 230.0 208.8 231.5 209.0 233.0 209.4 234.4 210.0 234.5 210.0 236.0 210.6 237.5 211.2 238.5 211.5 239.0 211.6 240.5 211.8 242.0 211.6 242.7 211.5 243.5 211.3 245.0 210.7 246.4 210.0 246.5 209.9 248.0 208.9 248.7 208.5 249.5 207.9 251.0 207.0 251.0 207.0 252.2 205.5 252.5 204.8 252.7 204.0 252.9 202.5 253.0 201.0 253.1 199.5 253.1 198.0 253.0 196.5 253.1 195.0 253.2 193.5 253.3 192.0 253.5 190.5 253.7 189.0 253.8 187.5 254.0 186.4 254.1 186.0 254.4 184.5 255.0 183.0 255.5 182.1 255.9 181.5 257.0 180.2 257.2 180.0 258.5 180.0 260.0 180.0 261.5 180.0 263.0 180.0 264.5 180.0 266.0 180.0 267.5 180.0 269.0 180.0 270.5 180.0 272.0 180.0 273.5 178.5 273.5 177.0 273.7 176.8 275.0 176.9 275.5 177.0 276.5 177.1 278.0 177.4 279.5 177.7 281.0 178.1 282.4 178.5 282.5 178.5 284.0 179.0 285.5 179.5 287.0 179.9 287.2 180.0 288.5 180.4 290.0 180.7 291.5 181.0 293.0 181.1 294.5 181.1 296.0 181.1 297.5 181.0 299.0 180.9 300.5 180.9 302.0 180.8 303.5 180.7 305.0 180.6 306.5 180.6 308.0 180.5 309.5 180.5 311.0 180.5 312.5 180.5 314.0 180.4 315.5 180.4 317.0 180.4 318.5 180.3 320.0 180.1 320.7 180.0 321.5 179.9 323.0 179.6 324.5 179.3 326.0 179.0 327.5 178.8 329.0 178.6 329.5 178.5 330.5 178.4 332.0 178.2 333.5 178.1 335.0 178.1 336.5 178.1 338.0 178.1 339.5 178.1 341.0 178.2 342.5 178.2 344.0 178.2 345.5 178.2 347.0 178.2 348.5 178.2 350.0 177.9 351.5 177.4 352.5 177.0 353.0 176.8 354.5 176.1 356.0 175.5 356.0 175.5 357.5 175.0 359.0 174.6 360.5 174.3 362.0 174.1 363.5 174.1 365.0 174.1 366.5 174.1 368.0 174.2 369.5 174.3 371.0 174.4 372.5 174.4 374.0 174.4 375.5 174.3 377.0 174.2 378.3 174.0 378.5 174.0 380.0 173.7 381.5 173.4 383.0 173.1 384.5 172.7 385.5 172.5 386.0 172.4 387.5 172.1 389.0 171.8 390.5 171.4 391.7 171.0 392.0 170.9 393.5 170.2 394.8 169.5 395.0 169.4 396.5 168.3 396.9 168.0 398.0 167.0 398.6 166.5 399.5 165.6 400.0 165.0 401.0 163.9 401.4 163.5 402.5 162.1 402.6 162.0 404.0 160.5 404.0 160.5 405.5 159.1 405.6 159.0 407.0 158.1 408.5 157.6 409.3 157.5 410.0 157.4 410.6 157.5 411.5 157.6 413.0 158.1 414.5 158.7 415.1 159.0 416.0 159.4 417.5 160.2 418.0 160.5 419.0 161.1 420.5 162.0 420.6 162.0 422.0 162.9 422.9 163.5 423.5 163.9 425.0 165.0 425.0 165.0 426.5 166.1 427.1 166.5 428.0 167.2 429.3 168.0 429.5 168.1 431.0 168.7 432.5 169.0 434.0 169.2 435.5 169.4 436.6 169.5 437.0 169.5 438.5 169.7 440.0 170.0 441.5 170.3 443.0 170.8 443.5 171.0 444.5 171.4 446.0 172.2 446.5 172.5 447.5 173.2 448.4 174.0 449.0 174.6 449.8 175.5 450.5 176.4 451.0 177.0 451.9 178.5 452.0 178.6 453.1 180.0 453.5 180.5 454.3 181.5 455.0 182.4 455.4 183.0 456.4 184.5 456.5 184.7 457.3 186.0 458.0 187.1 458.2 187.5 459.2 189.0 459.5 189.4 460.5 190.5 461.0 191.0 462.2 192.0 462.5 192.2 464.0 193.4 464.1 193.5 465.5 194.5 466.2 195.0 467.0 195.6 468.5 196.5 468.5 196.5 470.0 197.1 471.5 197.4 473.0 197.1 474.5 196.6 474.7 196.5 476.0 195.7 477.0 195.0 477.5 194.6 479.0 193.5 479.0 193.5 480.5 192.6 481.8 192.0 482.0 191.9 483.5 191.2 484.7 190.5 485.0 190.3 486.2 189.0 486.5 188.4 486.9 187.5 487.3 186.0 487.6 184.5 487.7 183.0 487.7 181.5 487.5 180.0 487.3 178.5 486.9 177.0 486.5 175.8 486.4 175.5 485.8 174.0 485.1 172.5 485.0 172.3 484.3 171.0 483.5 169.5 483.5 169.5 482.7 168.0 482.0 166.8 481.9 166.5 481.1 165.0 480.5 163.9 480.3 163.5 479.6 162.0 479.0 160.6 478.9 160.5 478.3 159.0 477.7 157.5 477.5 157.1 477.1 156.0 476.5 154.5 476.0 153.0 476.0 153.0 475.5 151.5 475.1 150.0 474.8 148.5 474.6 147.0 474.5 146.4 474.4 145.5 474.4 144.0 474.4 142.5 474.5 141.2 474.5 141.0 474.8 139.5 475.2 138.0 475.7 136.5 476.0 135.8 476.4 135.0 477.3 133.5 477.5 133.2 478.5 132.0 479.0 131.4 479.9 130.5 480.5 130.0 481.8 129.0 482.0 128.8 483.5 127.9 484.4 127.5 485.0 127.2 486.5 126.6 488.0 126.2 488.8 126.0 489.5 126.0 491.0 126.0 492.5 126.0 494.0 126.0 495.5 126.0 497.0 126.0 498.5 126.0 500.0 126.0 500.4 125.6ZM510.8 141.0 510.5 141.1 509.0 142.2 508.7 142.5 507.5 143.8 507.4 144.0 506.3 145.5 506.0 145.9 505.1 147.0 504.5 147.7 503.8 148.5 503.0 149.2 502.0 150.0 501.5 150.4 500.1 151.5 500.0 151.6 498.5 153.0 498.5 153.0 497.3 154.5 497.0 155.0 496.5 156.0 496.2 157.5 496.2 159.0 496.5 160.5 497.0 161.5 497.3 162.0 498.5 163.5 498.5 163.5 500.0 164.6 501.0 165.0 501.5 165.2 503.0 165.5 504.5 165.7 506.0 165.8 507.5 165.9 509.0 166.0 510.5 166.3 511.0 166.5 512.0 166.9 513.5 167.8 513.7 168.0 515.0 169.4 515.1 169.5 516.0 171.0 516.5 172.1 516.7 172.5 517.3 174.0 518.0 175.5 518.0 175.5 519.0 177.0 519.5 177.7 520.3 178.5 521.0 179.0 522.5 179.9 522.9 180.0 524.0 180.3 525.5 180.3 526.4 180.0 527.0 179.8 528.5 178.7 528.6 178.5 529.7 177.0 530.0 176.5 530.5 175.5 531.2 174.0 531.5 173.2 531.8 172.5 532.3 171.0 532.8 169.5 533.0 168.8 533.2 168.0 533.4 166.5 533.5 165.0 533.4 163.5 533.1 162.0 533.0 161.5 532.7 160.5 532.3 159.0 531.9 157.5 531.5 156.0 531.5 155.9 531.2 154.5 530.9 153.0 530.7 151.5 530.5 150.0 530.3 148.5 530.0 147.1 530.0 147.0 529.3 145.5 528.5 144.5 528.0 144.0 527.0 143.3 525.5 142.5 525.5 142.5 524.0 141.9 522.5 141.4 521.2 141.0 521.0 140.9 519.5 140.6 518.0 140.3 516.5 140.2 515.0 140.1 513.5 140.2 512.0 140.5ZM256.9 210.0 255.5 211.1 255.3 211.5 254.9 213.0 255.0 214.5 255.3 216.0 255.5 216.5 255.9 217.5 256.7 219.0 257.0 219.4 257.8 220.5 258.5 221.2 259.5 222.0 260.0 222.3 261.5 223.1 262.2 223.5 263.0 223.9 264.5 224.7 265.2 225.0 266.0 225.4 267.5 226.2 268.2 226.5 269.0 226.8 270.5 227.0 271.6 226.5 272.0 226.2 272.9 225.0 273.4 223.5 273.5 222.0 273.2 220.5 272.5 219.0 272.0 218.3 271.4 217.5 270.5 216.6 269.8 216.0 269.0 215.4 267.9 214.5 267.5 214.2 266.0 213.1 265.8 213.0 264.5 212.1 263.5 211.5 263.0 211.2 261.5 210.4 260.2 210.0 260.0 209.9 258.5 209.8 257.0 210.0ZM660.5 172.1 661.3 171.8 662.0 172.5 663.5 172.5 665.0 174.0 666.5 175.5 668.0 175.5 669.5 177.0 671.0 177.0 672.5 177.0 674.0 177.0 675.5 177.0 677.0 177.0 678.5 177.0 680.0 178.5 681.5 180.0 683.0 181.5 684.5 183.0 685.9 184.4 684.5 183.5 683.6 183.0 683.0 182.7 681.5 181.9 680.5 181.5 680.0 181.3 678.5 180.7 677.0 180.2 676.0 180.0 675.5 179.9 674.0 179.6 672.5 179.4 671.0 179.3 669.5 179.3 668.0 179.4 666.5 179.6 665.0 179.8 664.2 180.0 663.5 180.1 662.0 180.6 660.5 181.1 659.4 181.5 659.0 181.6 657.5 182.3 656.1 183.0 656.0 183.1 654.5 183.9 653.3 184.5 653.0 184.7 651.5 185.5 650.6 186.0 650.0 186.3 650.0 186.0 650.0 184.5 648.5 183.0 647.0 181.5 645.5 180.0 644.4 180.0 645.5 179.6 647.0 178.9 647.7 178.5 648.5 178.1 650.0 177.3 650.4 177.0 651.5 176.4 653.0 175.5 653.0 175.5 654.5 174.7 656.0 174.0 656.0 174.0 657.5 173.3 659.0 172.6 659.4 172.5ZM710.6 195.0 711.5 195.7 712.5 196.5 713.0 196.9 714.5 198.0 714.5 198.0 716.0 199.0 716.8 199.5 717.5 200.0 719.0 200.9 719.1 201.0 720.5 201.9 721.4 202.5 722.0 203.0 723.4 204.0 723.5 204.1 725.0 205.2 725.3 205.5 726.5 206.5 727.1 207.0 728.0 207.8 728.8 208.5 729.5 209.2 730.4 210.0 731.0 210.6 732.1 211.5 732.5 211.9 733.7 213.0 734.0 213.2 735.5 214.4 735.7 214.5 737.0 215.4 738.3 216.0 738.5 216.1 740.0 216.7 741.5 217.1 742.8 217.3 743.0 217.5 744.2 217.5 744.5 217.5 746.0 217.6 747.5 217.6 749.0 217.6 750.5 217.5 750.6 217.5 752.0 217.4 753.5 217.3 755.0 217.2 756.1 217.1 756.5 217.5 758.0 219.0 759.5 219.0 761.0 219.0 762.5 219.0 764.0 219.0 765.5 219.0 767.0 220.5 768.5 222.0 770.0 223.5 771.5 225.0 773.0 226.5 773.0 228.0 773.0 229.5 771.5 231.0 770.0 232.5 768.5 234.0 767.0 235.5 766.5 236.0 765.5 235.7 765.0 235.5 764.0 235.2 762.5 234.8 761.0 234.6 759.5 234.4 758.0 234.4 756.5 234.5 755.0 234.6 753.5 234.8 752.0 234.9 750.5 235.1 749.0 235.2 747.5 235.2 746.0 235.2 744.5 235.1 743.0 235.0 741.5 234.8 740.0 234.4 738.5 234.0 738.4 234.0 737.0 233.5 735.5 232.9 734.6 232.5 734.0 232.2 732.5 231.4 731.9 231.0 731.0 230.4 729.8 229.5 729.5 229.3 728.2 228.0 728.0 227.8 727.0 226.5 726.5 225.7 726.1 225.0 725.4 223.5 725.0 222.6 724.8 222.0 724.2 220.5 723.6 219.0 723.5 218.6 723.1 217.5 722.5 216.0 722.0 215.0 721.8 214.5 721.0 213.0 720.5 212.2 720.1 211.5 719.1 210.0 719.0 209.8 718.0 208.5 717.5 207.9 716.7 207.0 716.0 206.3 715.2 205.5 714.5 204.9 713.2 204.0 713.0 203.9 711.5 203.0 710.4 202.5 710.0 202.3 708.5 201.6 707.3 201.0 707.0 200.9 705.5 200.1 704.5 199.5 705.5 199.5 707.0 199.5 708.5 198.0 710.0 196.5 710.0 195.0 710.0 194.5ZM588.5 340.1 589.8 339.2 588.5 340.5 587.0 342.0 587.0 343.5 585.5 345.0 584.0 346.5 582.5 348.0 582.5 349.5 582.5 351.0 582.5 352.5 584.0 354.0 585.4 355.4 585.3 355.5 584.0 356.1 582.5 356.6 581.2 357.0 581.0 357.0 579.5 357.4 578.0 357.5 576.5 357.6 575.0 357.6 573.5 357.5 572.0 357.5 570.5 357.5 569.0 357.6 567.5 357.8 566.0 358.0 564.5 358.3 563.3 358.5 563.0 358.6 561.5 358.8 560.0 359.0 558.5 359.2 557.0 359.3 555.5 359.5 554.0 359.6 552.5 359.7 551.0 359.9 549.5 360.0 549.0 360.0 548.0 360.0 546.5 360.1 545.0 360.1 543.5 360.2 542.0 360.3 540.5 360.5 539.0 360.6 537.5 360.8 536.0 361.0 534.5 361.1 533.0 361.2 532.7 361.2 531.5 360.0 530.0 358.5 528.5 358.5 527.0 357.0 525.5 357.0 524.0 357.0 522.5 357.0 521.0 358.5 520.3 359.2 519.5 359.0 518.0 358.7 517.0 358.5 516.5 358.4 515.0 358.3 513.5 358.5 513.4 358.5 512.0 358.9 510.5 359.6 509.5 360.0 509.0 360.2 507.5 360.6 506.0 361.1 504.9 361.5 504.5 361.6 503.0 362.2 501.5 362.6 500.3 363.0 500.0 363.1 498.5 363.5 497.8 363.7 498.5 363.0 498.5 361.5 498.5 360.0 498.5 358.5 498.5 357.0 498.5 355.5 498.5 354.0 498.5 353.5 500.0 352.9 501.0 352.5 501.5 352.3 503.0 351.6 504.2 351.0 504.5 350.8 506.0 350.1 507.3 349.5 507.5 349.4 509.0 348.9 510.5 348.5 512.0 348.3 513.5 348.3 515.0 348.3 516.5 348.4 518.0 348.5 519.5 348.7 521.0 348.9 522.5 349.1 524.0 349.4 524.5 349.5 525.5 349.7 527.0 350.1 528.5 350.5 530.0 350.8 531.5 351.0 531.5 351.0 533.0 351.2 534.5 351.3 536.0 351.5 537.5 351.6 539.0 351.9 540.5 352.1 542.0 352.4 542.5 352.5 543.5 352.7 545.0 353.0 546.5 353.3 548.0 353.5 549.5 353.6 551.0 353.6 552.5 353.4 554.0 353.1 555.5 352.7 556.6 352.5 557.0 352.4 558.5 352.1 560.0 351.9 561.5 351.8 563.0 351.8 564.5 351.9 566.0 352.0 567.5 352.1 569.0 352.1 570.5 352.0 572.0 351.5 573.2 351.0 573.5 350.8 575.0 349.8 575.4 349.5 576.5 348.5 577.2 348.0 578.0 347.3 579.0 346.5 579.5 346.1 581.0 345.0 581.0 345.0 582.5 344.0 583.3 343.5 584.0 343.0 585.5 342.0 585.5 342.0 587.0 341.1 587.8 340.5Z"/>
<path fill="#ff1200" stroke="#ff1200" stroke-width="0.6" fill-rule="evenodd" d="M532.8 103.3 533.0 103.5 534.5 105.0 536.0 106.5 537.5 108.0 539.0 108.0 540.5 108.0 542.0 109.5 543.5 111.0 545.0 112.5 546.5 114.0 548.0 114.0 549.5 114.0 551.0 114.0 552.5 114.0 554.0 114.0 555.5 114.0 557.0 114.0 558.5 115.5 560.0 117.0 561.5 118.5 563.0 120.0 564.5 121.5 564.5 123.0 564.5 124.5 566.0 126.0 566.0 127.5 566.0 129.0 566.0 130.5 567.5 132.0 569.0 133.5 570.5 135.0 572.0 135.0 573.5 135.0 575.0 135.0 576.5 135.0 578.0 135.0 579.5 135.0 581.0 133.5 582.5 132.0 583.9 130.6 584.0 130.8 585.1 132.0 585.5 132.4 586.7 133.5 587.0 133.8 588.5 135.0 588.6 135.0 590.0 136.0 590.9 136.5 591.5 136.8 593.0 137.6 593.9 138.0 594.5 138.3 596.0 138.9 597.5 139.4 597.7 139.5 599.0 139.9 600.5 140.4 602.0 140.9 602.4 141.0 603.5 141.3 605.0 141.8 606.5 142.3 607.0 142.5 608.0 142.9 609.5 143.6 610.2 144.0 611.0 144.5 612.5 145.5 612.5 145.5 613.7 147.0 614.0 147.4 614.5 148.5 615.2 150.0 615.5 150.6 615.9 151.5 616.5 153.0 617.0 154.1 617.2 154.5 617.9 156.0 618.1 156.4 617.0 157.5 615.5 159.0 614.0 160.5 612.5 162.0 611.0 162.0 609.5 162.0 608.0 162.0 606.5 162.0 605.0 163.5 603.5 163.5 602.0 163.5 600.5 163.5 599.0 162.0 597.5 162.0 596.0 160.5 594.5 160.5 593.0 160.5 591.5 160.5 590.0 160.5 588.5 160.5 587.0 160.5 585.5 160.5 584.0 160.5 582.5 162.0 581.0 163.5 579.5 165.0 578.0 165.0 576.5 165.0 575.0 165.0 573.5 166.5 573.5 168.0 573.5 169.5 573.5 171.0 573.5 172.5 573.5 174.0 573.5 175.5 573.5 177.0 573.5 178.5 573.5 180.0 573.5 181.5 573.5 183.0 573.5 184.5 573.5 186.0 572.0 187.5 570.5 189.0 570.5 189.7 569.0 190.1 567.5 190.4 566.9 190.5 566.0 190.6 564.5 190.7 563.0 190.8 561.5 190.6 560.4 190.5 560.0 190.5 558.5 190.2 557.0 189.9 555.5 189.5 554.0 189.2 553.1 189.0 552.5 188.8 551.0 188.4 549.5 187.9 548.5 187.5 548.0 187.3 546.5 186.6 545.4 186.0 545.0 185.8 543.5 184.9 542.9 184.5 542.0 183.9 540.9 183.0 540.5 182.5 539.6 181.5 539.0 180.2 538.9 180.0 538.7 178.5 538.8 177.0 539.0 176.3 539.2 175.5 539.7 174.0 540.1 172.5 540.5 171.0 540.5 171.0 540.8 169.5 541.0 168.0 541.2 166.5 541.2 165.0 541.2 163.5 541.2 162.0 541.1 160.5 540.9 159.0 540.7 157.5 540.5 156.0 540.5 155.8 540.3 154.5 540.2 153.0 540.2 151.5 540.3 150.0 540.5 148.5 540.5 148.3 540.8 147.0 541.1 145.5 541.4 144.0 541.5 142.5 541.3 141.0 540.8 139.5 540.5 139.0 539.9 138.0 539.0 137.1 538.3 136.5 537.5 135.9 536.3 135.0 536.0 134.8 534.5 133.9 533.8 133.5 533.0 133.0 531.5 132.3 530.7 132.0 530.0 131.7 528.5 131.2 527.0 130.9 525.5 130.7 524.0 130.6 522.5 130.5 521.0 130.5 520.7 130.5 519.5 130.5 518.0 130.4 516.5 130.3 515.0 130.1 513.5 129.7 512.0 129.3 511.2 129.0 510.5 128.7 509.0 128.1 507.5 127.5 507.5 127.5 506.0 126.9 504.5 126.4 503.0 126.0 502.9 126.0 501.5 125.7 500.4 125.6 501.5 124.5 501.5 123.0 501.5 121.5 501.5 120.0 501.5 118.5 501.5 117.0 501.5 115.5 503.0 114.0 504.5 112.5 506.0 111.0 507.5 109.5 508.9 108.1 509.0 108.1 510.5 108.6 512.0 109.0 513.5 109.3 515.0 109.4 516.5 109.2 518.0 108.8 519.5 108.3 520.1 108.0 521.0 108.0 521.6 107.4 522.5 107.0 523.5 106.5 524.0 106.3 525.5 105.6 527.0 105.1 527.2 105.0 528.5 104.5 530.0 104.1 531.5 103.6 532.1 103.5ZM467.0 118.5 468.5 118.5 470.0 120.0 471.5 121.5 473.0 121.5 474.5 121.5 476.0 121.5 477.5 121.5 479.0 121.5 480.5 123.0 482.0 124.5 483.5 126.0 485.0 126.0 486.5 126.0 488.0 126.0 488.8 126.0 488.0 126.2 486.5 126.6 485.0 127.2 484.4 127.5 483.5 127.9 482.0 128.8 481.8 129.0 480.5 130.0 479.9 130.5 479.0 131.4 478.5 132.0 477.5 133.2 477.3 133.5 476.4 135.0 476.0 135.8 475.7 136.5 475.2 138.0 474.8 139.5 474.5 141.0 474.5 141.2 474.4 142.5 474.4 144.0 474.4 145.5 474.5 146.4 474.6 147.0 474.8 148.5 475.1 150.0 475.5 151.5 476.0 153.0 476.0 153.0 476.5 154.5 477.1 156.0 477.5 157.1 477.7 157.5 478.3 159.0 478.9 160.5 479.0 160.6 479.6 162.0 480.3 163.5 480.5 163.9 481.1 165.0 481.9 166.5 482.0 166.8 482.7 168.0 483.5 169.5 483.5 169.5 484.3 171.0 485.0 172.3 485.1 172.5 485.8 174.0 486.4 175.5 486.5 175.8 486.9 177.0 487.3 178.5 487.5 180.0 487.7 181.5 487.7 183.0 487.6 184.5 487.3 186.0 486.9 187.5 486.5 188.4 486.2 189.0 485.0 190.3 484.7 190.5 483.5 191.2 482.0 191.9 481.8 192.0 480.5 192.6 479.0 193.5 479.0 193.5 477.5 194.6 477.0 195.0 476.0 195.7 474.7 196.5 474.5 196.6 473.0 197.1 471.5 197.4 470.0 197.1 468.5 196.5 468.5 196.5 467.0 195.6 466.2 195.0 465.5 194.5 464.1 193.5 464.0 193.4 462.5 192.2 462.2 192.0 461.0 191.0 460.5 190.5 459.5 189.4 459.2 189.0 458.2 187.5 458.0 187.1 457.3 186.0 456.5 184.7 456.4 184.5 455.4 183.0 455.0 182.4 454.3 181.5 453.5 180.5 453.1 180.0 452.0 178.6 451.9 178.5 451.0 177.0 450.5 176.4 449.8 175.5 449.0 174.6 448.4 174.0 447.5 173.2 446.5 172.5 446.0 172.2 444.5 171.4 443.5 171.0 443.0 170.8 441.5 170.3 440.0 170.0 438.5 169.7 437.0 169.5 436.6 169.5 435.5 169.4 434.0 169.2 432.5 169.0 431.0 168.7 429.5 168.1 429.3 168.0 428.0 167.2 427.1 166.5 426.5 166.1 425.0 165.0 425.0 165.0 423.5 163.9 422.9 163.5 422.0 162.9 420.6 162.0 420.5 162.0 419.0 161.1 418.0 160.5 417.5 160.2 416.0 159.4 415.1 159.0 414.5 158.7 413.0 158.1 411.5 157.6 410.6 157.5 410.0 157.4 409.3 157.5 408.5 157.6 407.0 158.1 405.6 159.0 405.5 159.1 404.0 160.5 404.0 160.5 402.6 162.0 402.5 162.1 401.4 163.5 401.0 163.9 400.0 165.0 399.5 165.6 398.6 166.5 398.0 167.0 396.9 168.0 396.5 168.3 395.0 169.4 394.8 169.5 393.5 170.2 392.0 170.9 391.7 171.0 390.5 171.4 389.0 171.8 387.5 172.1 386.0 172.4 385.5 172.5 384.5 172.7 383.0 173.1 381.5 173.4 380.0 173.7 378.5 174.0 378.3 174.0 377.0 174.2 375.5 174.3 374.0 174.4 372.5 174.4 371.0 174.4 369.5 174.3 368.0 174.2 366.5 174.1 365.0 174.1 363.5 174.1 362.0 174.1 360.5 174.3 359.0 174.6 357.5 175.0 356.0 175.5 356.0 175.5 354.5 176.1 353.0 176.8 352.5 177.0 351.5 177.4 350.0 177.9 348.5 178.2 347.0 178.2 345.5 178.2 344.0 178.2 342.5 178.2 341.0 178.2 339.5 178.1 338.0 178.1 336.5 178.1 335.0 178.1 333.5 178.1 332.0 178.2 330.5 178.4 329.5 178.5 329.0 178.6 327.5 178.8 326.0 179.0 324.5 179.3 323.0 179.6 321.5 179.9 320.7 180.0 320.0 180.1 318.5 180.3 317.0 180.4 315.5 180.4 314.0 180.4 312.5 180.5 311.0 180.5 309.5 180.5 308.0 180.5 306.5 180.6 305.0 180.6 303.5 180.7 302.0 180.8 300.5 180.9 299.0 180.9 297.5 181.0 296.0 181.1 294.5 181.1 293.0 181.1 291.5 181.0 290.0 180.7 288.5 180.4 287.2 180.0 287.0 179.9 285.5 179.5 284.0 179.0 282.5 178.5 282.4 178.5 281.0 178.1 279.5 177.7 278.0 177.4 276.5 177.1 275.5 177.0 275.0 176.9 273.7 176.8 275.0 175.5 276.5 174.0 278.0 172.5 279.5 171.0 281.0 169.5 282.5 169.5 284.0 168.0 284.3 167.7 285.0 168.0 285.5 168.2 287.0 168.8 288.5 169.3 289.0 169.5 290.0 169.9 291.5 170.4 293.0 170.8 293.5 171.0 294.5 171.3 296.0 171.7 297.5 172.0 299.0 172.3 300.0 172.5 300.5 172.6 302.0 172.8 303.5 173.0 305.0 173.2 306.5 173.4 308.0 173.6 309.5 173.7 311.0 173.9 312.5 174.0 312.6 174.0 314.0 174.1 315.5 174.2 317.0 174.2 318.5 174.2 320.0 174.2 321.5 174.1 323.0 174.1 323.8 174.0 324.5 173.9 326.0 173.8 327.5 173.7 329.0 173.7 330.5 173.6 332.0 173.6 333.5 173.5 335.0 173.6 336.5 173.6 338.0 173.6 339.5 173.7 341.0 173.7 342.5 173.7 344.0 173.7 345.5 173.6 347.0 173.4 348.5 173.1 350.0 172.8 350.9 172.5 351.5 172.3 353.0 171.9 354.5 171.4 356.0 171.0 356.1 171.0 357.5 170.7 359.0 170.4 360.5 170.2 362.0 170.1 363.5 170.1 365.0 170.2 366.5 170.2 368.0 170.3 369.5 170.4 371.0 170.4 372.5 170.3 374.0 170.2 375.5 170.0 377.0 169.7 378.4 169.5 378.5 169.5 380.0 169.2 381.5 168.9 383.0 168.5 384.5 168.2 385.3 168.0 386.0 167.8 387.5 167.3 389.0 166.7 389.4 166.5 390.5 165.7 391.4 165.0 392.0 164.5 392.9 163.5 393.5 162.8 394.1 162.0 395.0 160.7 395.1 160.5 396.0 159.0 396.5 158.0 396.8 157.5 397.6 156.0 398.0 155.2 398.4 154.5 399.3 153.0 399.5 152.7 400.4 151.5 401.0 150.8 401.8 150.0 402.5 149.5 404.0 148.6 404.5 148.5 405.5 148.2 407.0 148.0 408.5 148.2 409.5 148.5 410.0 148.6 411.5 149.3 412.8 150.0 413.0 150.1 414.5 151.1 415.1 151.5 416.0 152.1 417.3 153.0 417.5 153.1 419.0 154.1 419.7 154.5 420.5 155.0 422.0 155.9 422.2 156.0 423.5 156.8 424.6 157.5 425.0 157.7 426.5 158.7 426.9 159.0 428.0 159.7 429.2 160.5 429.5 160.7 431.0 161.6 431.9 162.0 432.5 162.3 434.0 162.7 435.5 163.0 437.0 163.2 438.5 163.4 439.9 163.5 440.0 163.5 441.5 163.6 443.0 163.8 444.5 164.0 446.0 164.2 447.5 164.4 449.0 164.6 450.5 164.7 452.0 164.7 453.5 164.6 455.0 164.2 456.5 163.7 456.9 163.5 458.0 162.9 459.2 162.0 459.5 161.7 460.5 160.5 461.0 159.8 461.4 159.0 462.0 157.5 462.4 156.0 462.5 155.4 462.6 154.5 462.8 153.0 462.9 151.5 462.9 150.0 462.9 148.5 463.0 147.0 463.1 145.5 463.2 144.0 463.4 142.5 463.6 141.0 463.8 139.5 464.0 138.4 464.1 138.0 464.3 136.5 464.5 135.0 464.6 133.5 464.7 132.0 464.8 130.5 464.9 129.0 465.0 127.5 465.2 126.0 465.4 124.5 465.5 123.6 465.6 123.0 465.9 121.5 466.2 120.0 466.7 118.5ZM654.5 164.2 654.5 165.0 654.5 166.5 656.0 168.0 657.5 168.0 659.0 169.5 660.5 171.0 661.3 171.8 660.5 172.1 659.4 172.5 659.0 172.6 657.5 173.3 656.0 174.0 656.0 174.0 654.5 174.7 653.0 175.5 653.0 175.5 651.5 176.4 650.4 177.0 650.0 177.3 648.5 178.1 647.7 178.5 647.0 178.9 645.5 179.6 644.4 180.0 644.0 180.0 642.5 180.0 641.0 180.0 639.5 178.5 638.0 177.0 636.5 175.5 635.0 174.0 633.5 172.5 633.5 171.0 633.5 170.3 635.0 170.8 635.6 171.0 636.5 171.2 638.0 171.5 639.5 171.7 641.0 171.8 642.5 171.7 644.0 171.4 645.3 171.0 645.5 170.9 647.0 170.0 647.7 169.5 648.5 168.9 649.6 168.0 650.0 167.6 651.4 166.5 651.5 166.4 653.0 165.3 653.4 165.0ZM240.5 177.0 242.0 178.5 243.5 180.0 245.0 180.0 246.5 180.0 248.0 180.0 249.5 180.0 251.0 180.0 252.5 180.0 254.0 180.0 255.5 180.0 257.0 180.0 257.2 180.0 257.0 180.2 255.9 181.5 255.5 182.1 255.0 183.0 254.4 184.5 254.1 186.0 254.0 186.4 253.8 187.5 253.7 189.0 253.5 190.5 253.3 192.0 253.2 193.5 253.1 195.0 253.0 196.5 253.1 198.0 253.1 199.5 253.0 201.0 252.9 202.5 252.7 204.0 252.5 204.8 252.2 205.5 251.0 207.0 251.0 207.0 249.5 207.9 248.7 208.5 248.0 208.9 246.5 209.9 246.4 210.0 245.0 210.7 243.5 211.3 242.7 211.5 242.0 211.6 240.5 211.8 239.0 211.6 238.5 211.5 237.5 211.2 236.0 210.6 234.5 210.0 234.4 210.0 233.0 209.4 231.5 209.0 230.0 208.8 228.5 208.7 227.0 208.8 225.5 209.1 224.0 209.7 223.4 210.0 222.5 210.4 221.0 211.3 220.8 211.5 219.5 212.4 218.8 213.0 218.0 213.6 216.9 214.5 216.5 214.9 215.1 216.0 215.0 216.1 213.5 217.3 213.2 217.5 212.0 218.4 211.2 219.0 210.5 219.7 209.7 220.5 209.0 222.0 209.0 222.0 208.6 223.5 208.5 225.0 208.4 226.5 208.4 228.0 208.3 229.5 207.9 231.0 207.5 231.9 207.3 232.5 206.7 234.0 206.2 235.5 206.0 236.1 205.7 237.0 205.2 238.5 204.7 240.0 204.5 240.4 204.1 241.5 203.4 243.0 203.0 243.8 202.6 244.5 201.6 246.0 201.5 246.1 200.3 247.5 200.0 247.8 198.7 249.0 198.5 249.2 197.0 250.5 197.0 250.5 195.5 251.6 194.9 252.0 194.0 252.6 192.5 253.4 192.3 253.5 191.0 254.1 189.5 254.8 189.1 255.0 188.0 255.6 186.6 256.5 186.5 256.6 185.0 258.0 185.0 258.0 183.9 259.5 183.5 260.3 183.1 261.0 182.4 262.5 182.0 263.6 181.8 264.0 181.3 265.5 180.9 267.0 180.5 268.4 180.5 268.5 180.1 270.0 179.6 271.5 179.1 273.0 179.0 273.2 178.5 274.5 177.8 276.0 177.5 276.5 177.0 277.5 176.2 279.0 176.0 279.3 175.3 280.5 174.5 281.9 174.4 282.0 173.4 283.5 173.0 284.0 172.1 285.0 171.5 285.6 170.1 286.5 170.0 286.5 168.5 287.0 167.0 287.1 165.5 287.0 164.0 286.7 163.5 286.5 162.5 286.2 161.0 285.7 159.5 285.1 159.4 285.0 158.0 284.4 156.5 283.7 155.9 283.5 155.0 283.1 153.5 282.4 152.5 282.0 152.0 281.8 151.7 281.7 150.5 280.5 150.5 279.0 152.0 277.5 153.5 276.0 155.0 274.5 155.0 273.0 155.0 271.5 155.0 270.0 155.0 268.5 155.0 267.0 155.0 266.4 156.5 266.3 158.0 266.1 159.5 265.7 160.2 265.5 161.0 265.2 162.5 264.6 163.4 264.0 164.0 263.6 165.0 262.5 165.5 261.9 166.0 261.0 166.7 259.5 167.0 258.8 167.4 258.0 168.3 256.5 168.5 256.3 169.8 255.0 170.0 254.8 171.5 253.9 172.2 253.5 173.0 253.2 174.5 252.7 176.0 252.2 176.7 252.0 177.5 251.8 179.0 251.3 180.5 250.9 182.0 250.5 182.0 250.5 183.5 250.1 185.0 249.7 186.5 249.3 187.5 249.0 188.0 248.8 189.5 248.1 190.5 247.5 191.0 247.2 192.5 246.1 192.6 246.0 194.0 244.9 194.4 244.5 195.5 243.6 196.1 243.0 197.0 242.0 197.4 241.5 198.5 240.0 198.5 240.0 199.3 238.5 199.8 237.0 200.0 235.5 199.9 234.0 199.5 232.5 199.0 231.0 198.5 229.5 198.5 229.5 198.2 228.0 198.0 226.5 197.8 225.0 197.6 223.5 197.4 222.0 197.2 220.5 197.0 219.6 196.9 219.0 196.5 217.5 196.1 216.0 195.8 214.5 195.7 213.0 195.7 211.5 196.0 210.0 196.7 208.5 197.0 207.9 197.9 207.0 198.5 206.4 200.0 205.5 200.2 205.5 201.5 205.1 203.0 204.9 204.5 205.0 206.0 205.1 207.5 205.1 209.0 204.7 210.0 204.0 210.5 204.0 212.0 204.0 213.5 204.0 215.0 204.0 216.5 204.0 218.0 204.0 219.5 204.0 221.0 204.0 222.5 204.0 224.0 204.0 225.5 204.0 227.0 204.0 228.5 204.0 230.0 204.0 231.5 204.0 233.0 202.5 233.0 201.0 233.0 199.5 233.0 198.0 233.0 196.5 233.0 195.0 233.0 193.5 233.0 192.0 233.0 190.5 233.0 189.0 233.0 187.5 233.0 186.0 233.0 184.5 234.5 183.0 236.0 181.5 237.5 180.0 239.0 178.5ZM714.6 189.0 716.0 190.5 716.0 190.5 717.5 192.0 717.5 192.0 719.0 193.2 719.4 193.5 720.5 194.1 722.0 194.9 722.1 195.0 723.5 195.6 725.0 196.3 725.4 196.5 726.5 197.0 728.0 197.6 728.9 198.0 729.5 198.3 730.0 198.5 731.0 199.5 732.5 201.0 734.0 202.5 734.0 204.0 734.0 205.5 734.0 207.0 734.0 208.5 734.0 210.0 734.0 211.5 735.5 213.0 737.0 213.0 738.5 214.5 740.0 216.0 741.5 216.0 742.8 217.3 741.5 217.1 740.0 216.7 738.5 216.1 738.3 216.0 737.0 215.4 735.7 214.5 735.5 214.4 734.0 213.2 733.7 213.0 732.5 211.9 732.1 211.5 731.0 210.6 730.4 210.0 729.5 209.2 728.8 208.5 728.0 207.8 727.1 207.0 726.5 206.5 725.3 205.5 725.0 205.2 723.5 204.1 723.4 204.0 722.0 203.0 721.4 202.5 720.5 201.9 719.1 201.0 719.0 200.9 717.5 200.0 716.8 199.5 716.0 199.0 714.5 198.0 714.5 198.0 713.0 196.9 712.5 196.5 711.5 195.7 710.6 195.0 710.0 194.5 710.0 193.5 711.5 192.0 713.0 190.5 714.5 189.0 714.6 188.9ZM257.0 210.0 258.5 209.8 260.0 209.9 260.2 210.0 261.5 210.4 263.0 211.2 263.5 211.5 264.5 212.1 265.8 213.0 266.0 213.1 267.5 214.2 267.9 214.5 269.0 215.4 269.8 216.0 270.5 216.6 271.4 217.5 272.0 218.3 272.5 219.0 273.2 220.5 273.5 222.0 273.4 223.5 272.9 225.0 272.0 226.2 271.6 226.5 270.5 227.0 269.0 226.8 268.2 226.5 267.5 226.2 266.0 225.4 265.2 225.0 264.5 224.7 263.0 223.9 262.2 223.5 261.5 223.1 260.0 222.3 259.5 222.0 258.5 221.2 257.8 220.5 257.0 219.4 256.7 219.0 255.9 217.5 255.5 216.5 255.3 216.0 255.0 214.5 254.9 213.0 255.3 211.5 255.5 211.1 256.9 210.0ZM747.5 214.5 749.0 214.5 750.5 214.5 752.0 214.5 753.5 216.0 755.0 216.0 756.1 217.1 755.0 217.2 753.5 217.3 752.0 217.4 750.6 217.5 750.5 217.5 749.0 217.6 747.5 217.6 746.0 217.6 744.5 217.5 744.2 217.5 744.5 217.5 746.0 216.0ZM585.4 355.4 585.5 355.5 585.5 357.0 587.0 358.5 588.5 360.0 590.0 361.5 590.0 363.0 590.0 364.5 590.0 366.0 590.0 367.5 590.0 369.0 588.5 370.5 587.0 372.0 585.5 373.5 584.0 375.0 582.5 376.5 581.0 378.0 579.5 379.5 578.0 381.0 576.5 382.5 575.0 384.0 573.5 385.5 572.0 385.5 570.5 385.5 569.0 385.5 567.5 385.5 566.0 385.5 564.5 385.5 563.0 385.5 561.5 385.5 560.0 387.0 558.5 387.0 557.0 387.0 555.5 387.0 554.0 388.5 552.5 390.0 551.0 391.5 549.5 393.0 548.0 394.5 546.5 394.5 545.0 394.5 543.5 393.0 542.0 391.5 540.5 390.0 539.0 388.5 537.5 387.0 537.5 385.5 536.0 384.0 536.0 382.5 536.0 381.0 534.5 379.5 534.5 378.0 534.5 376.5 534.5 375.0 533.0 373.5 533.0 372.0 533.0 370.5 534.5 369.0 534.5 367.5 536.0 366.0 534.5 364.5 534.5 363.0 533.0 361.5 532.7 361.2 533.0 361.2 534.5 361.1 536.0 361.0 537.5 360.8 539.0 360.6 540.5 360.5 542.0 360.3 543.5 360.2 545.0 360.1 546.5 360.1 548.0 360.0 549.0 360.0 549.5 360.0 551.0 359.9 552.5 359.7 554.0 359.6 555.5 359.5 557.0 359.3 558.5 359.2 560.0 359.0 561.5 358.8 563.0 358.6 563.3 358.5 564.5 358.3 566.0 358.0 567.5 357.8 569.0 357.6 570.5 357.5 572.0 357.5 573.5 357.5 575.0 357.6 576.5 357.6 578.0 357.5 579.5 357.4 581.0 357.0 581.2 357.0 582.5 356.6 584.0 356.1 585.3 355.5ZM546.7 367.5 546.5 367.7 545.4 369.0 545.0 370.5 545.0 370.5 545.0 370.5 545.3 372.0 546.4 373.5 546.5 373.6 548.0 374.7 548.5 375.0 549.5 375.5 551.0 376.0 552.5 376.2 554.0 376.1 555.5 375.7 556.6 375.0 557.0 374.6 557.8 373.5 558.2 372.0 558.2 370.5 557.6 369.0 557.0 368.4 555.9 367.5 555.5 367.3 554.0 366.7 552.5 366.3 551.0 366.2 549.5 366.4 548.0 366.8ZM513.5 358.5 515.0 358.3 516.5 358.4 517.0 358.5 518.0 358.7 519.5 359.0 520.3 359.2 519.5 360.0 519.5 361.5 519.5 363.0 518.0 364.5 516.5 366.0 515.0 367.5 513.5 369.0 512.0 370.5 510.5 372.0 509.0 373.5 507.5 375.0 506.0 376.5 504.5 378.0 503.0 379.5 501.5 381.0 500.0 381.0 498.5 379.5 497.0 378.0 495.5 376.5 494.0 375.0 492.5 373.5 492.5 372.0 492.5 370.5 494.0 369.0 495.5 367.5 495.5 366.0 497.0 364.5 497.8 363.7 498.5 363.5 500.0 363.1 500.3 363.0 501.5 362.6 503.0 362.2 504.5 361.6 504.9 361.5 506.0 361.1 507.5 360.6 509.0 360.2 509.5 360.0 510.5 359.6 512.0 358.9 513.4 358.5Z"/>
<path fill="#e10000" stroke="#e10000" stroke-width="0.6" fill-rule="evenodd" d="M396.5 84.9 398.0 84.4 399.5 84.8 400.2 85.5 401.0 86.7 401.1 87.0 401.6 88.5 401.7 90.0 401.6 91.5 401.0 92.7 400.7 93.0 399.5 93.7 398.0 93.7 396.5 93.1 396.4 93.0 395.2 91.5 395.0 91.0 394.8 90.0 394.8 88.5 395.0 87.4 395.1 87.0 396.0 85.5ZM420.5 85.2 421.9 84.0 422.0 84.0 423.5 85.5 425.0 85.5 426.5 85.5 428.0 85.5 429.5 87.0 431.0 88.5 432.5 90.0 434.0 91.5 435.5 93.0 434.0 94.5 432.5 96.0 431.0 97.5 429.5 99.0 428.0 100.5 426.5 102.0 425.0 103.5 423.5 103.5 422.0 105.0 420.5 105.0 419.0 105.0 417.5 105.0 416.0 105.0 414.5 105.0 413.0 105.0 411.5 105.0 410.0 105.0 408.5 106.5 408.5 108.0 408.5 109.5 408.5 111.0 410.0 112.5 411.5 112.5 413.0 112.5 414.5 112.5 416.0 112.5 417.5 114.0 419.0 115.5 420.5 115.5 422.0 117.0 423.5 117.0 425.0 117.0 426.5 117.0 428.0 118.5 429.5 120.0 431.0 121.5 432.5 121.5 434.0 121.5 435.5 121.5 437.0 121.5 438.5 121.5 440.0 121.5 441.5 121.5 443.0 121.5 444.5 121.5 446.0 121.5 447.5 121.5 449.0 121.5 450.5 121.5 452.0 121.5 453.5 121.5 455.0 121.5 456.5 121.5 458.0 121.5 459.5 121.5 461.0 120.0 462.5 118.5 464.0 118.5 465.5 118.5 466.7 118.5 466.2 120.0 465.9 121.5 465.6 123.0 465.5 123.6 465.4 124.5 465.2 126.0 465.0 127.5 464.9 129.0 464.8 130.5 464.7 132.0 464.6 133.5 464.5 135.0 464.3 136.5 464.1 138.0 464.0 138.4 463.8 139.5 463.6 141.0 463.4 142.5 463.2 144.0 463.1 145.5 463.0 147.0 462.9 148.5 462.9 150.0 462.9 151.5 462.8 153.0 462.6 154.5 462.5 155.4 462.4 156.0 462.0 157.5 461.4 159.0 461.0 159.8 460.5 160.5 459.5 161.7 459.2 162.0 458.0 162.9 456.9 163.5 456.5 163.7 455.0 164.2 453.5 164.6 452.0 164.7 450.5 164.7 449.0 164.6 447.5 164.4 446.0 164.2 444.5 164.0 443.0 163.8 441.5 163.6 440.0 163.5 439.9 163.5 438.5 163.4 437.0 163.2 435.5 163.0 434.0 162.7 432.5 162.3 431.9 162.0 431.0 161.6 429.5 160.7 429.2 160.5 428.0 159.7 426.9 159.0 426.5 158.7 425.0 157.7 424.6 157.5 423.5 156.8 422.2 156.0 422.0 155.9 420.5 155.0 419.7 154.5 419.0 154.1 417.5 153.1 417.3 153.0 416.0 152.1 415.1 151.5 414.5 151.1 413.0 150.1 412.8 150.0 411.5 149.3 410.0 148.6 409.5 148.5 408.5 148.2 407.0 148.0 405.5 148.2 404.5 148.5 404.0 148.6 402.5 149.5 401.8 150.0 401.0 150.8 400.4 151.5 399.5 152.7 399.3 153.0 398.4 154.5 398.0 155.2 397.6 156.0 396.8 157.5 396.5 158.0 396.0 159.0 395.1 160.5 395.0 160.7 394.1 162.0 393.5 162.8 392.9 163.5 392.0 164.5 391.4 165.0 390.5 165.7 389.4 166.5 389.0 166.7 387.5 167.3 386.0 167.8 385.3 168.0 384.5 168.2 383.0 168.5 381.5 168.9 380.0 169.2 378.5 169.5 378.4 169.5 377.0 169.7 375.5 170.0 374.0 170.2 372.5 170.3 371.0 170.4 369.5 170.4 368.0 170.3 366.5 170.2 365.0 170.2 363.5 170.1 362.0 170.1 360.5 170.2 359.0 170.4 357.5 170.7 356.1 171.0 356.0 171.0 354.5 171.4 353.0 171.9 351.5 172.3 350.9 172.5 350.0 172.8 348.5 173.1 347.0 173.4 345.5 173.6 344.0 173.7 342.5 173.7 341.0 173.7 339.5 173.7 338.0 173.6 336.5 173.6 335.0 173.6 333.5 173.5 332.0 173.6 330.5 173.6 329.0 173.7 327.5 173.7 326.0 173.8 324.5 173.9 323.8 174.0 323.0 174.1 321.5 174.1 320.0 174.2 318.5 174.2 317.0 174.2 315.5 174.2 314.0 174.1 312.6 174.0 312.5 174.0 311.0 173.9 309.5 173.7 308.0 173.6 306.5 173.4 305.0 173.2 303.5 173.0 302.0 172.8 300.5 172.6 300.0 172.5 299.0 172.3 297.5 172.0 296.0 171.7 294.5 171.3 293.5 171.0 293.0 170.8 291.5 170.4 290.0 169.9 289.0 169.5 288.5 169.3 287.0 168.8 285.5 168.2 285.0 168.0 284.3 167.7 285.5 166.5 287.0 165.0 288.5 163.5 290.0 163.5 291.5 163.5 293.0 163.5 294.5 165.0 296.0 166.5 297.5 168.0 299.0 169.5 300.5 171.0 302.0 172.5 303.5 172.5 305.0 172.5 306.5 172.5 308.0 172.5 309.5 172.5 311.0 172.5 312.5 172.5 314.0 172.5 315.5 172.5 317.0 172.5 318.5 172.5 320.0 172.5 321.5 172.5 323.0 172.5 324.5 172.5 326.0 172.5 327.5 172.5 329.0 172.5 330.5 172.5 332.0 172.5 333.5 172.5 335.0 172.5 336.5 171.0 338.0 169.5 339.5 168.0 341.0 168.0 341.2 167.8 342.5 167.7 344.0 167.6 345.5 167.4 347.0 167.2 348.5 166.9 350.0 166.7 350.9 166.5 351.5 166.4 353.0 166.1 354.5 165.8 356.0 165.6 357.5 165.4 359.0 165.3 360.5 165.2 362.0 165.1 363.5 165.1 365.0 165.1 366.5 165.1 368.0 165.1 369.5 165.1 370.6 165.0 371.0 165.0 372.5 164.8 374.0 164.5 375.5 164.1 377.0 163.7 377.8 163.5 378.5 163.2 380.0 162.7 381.5 162.0 381.5 162.0 383.0 161.1 383.9 160.5 384.5 159.9 385.5 159.0 386.0 158.3 386.6 157.5 387.5 157.5 389.0 156.0 389.0 154.5 389.0 153.0 389.0 152.0 389.2 151.5 389.6 150.0 389.9 148.5 390.3 147.0 390.5 145.9 390.6 145.5 390.9 144.0 391.1 142.5 391.4 141.0 391.6 139.5 391.8 138.0 391.9 136.5 392.0 135.7 392.1 135.0 392.2 133.5 392.4 132.0 392.6 130.5 392.9 129.0 393.3 127.5 393.5 126.6 393.7 126.0 394.2 124.5 394.8 123.0 395.0 122.6 395.6 121.5 396.4 120.0 396.5 119.8 397.3 118.5 398.0 117.5 398.3 117.0 399.5 115.5 399.5 115.5 400.7 114.0 401.0 113.6 402.0 112.5 402.5 111.9 403.3 111.0 404.0 110.1 404.5 109.5 405.5 108.2 405.6 108.0 406.7 106.5 407.0 105.9 407.5 105.0 408.3 103.5 408.5 103.0 408.9 102.0 409.5 100.5 410.0 99.3 410.1 99.0 410.7 97.5 411.4 96.0 411.5 95.8 412.1 94.5 413.0 93.0 413.0 93.0 414.1 91.5 414.5 91.0 415.4 90.0 416.0 89.4 416.9 88.5 417.5 87.9 418.5 87.0 419.0 86.5 420.2 85.5ZM530.0 100.5 531.5 102.0 532.8 103.3 532.1 103.5 531.5 103.6 530.0 104.1 528.5 104.5 527.2 105.0 527.0 105.1 525.5 105.6 524.0 106.3 523.5 106.5 522.5 107.0 521.6 107.4 522.5 106.5 524.0 105.0 525.5 103.5 527.0 102.0 528.5 102.0ZM509.0 108.0 510.5 108.0 512.0 108.0 513.5 108.0 515.0 108.0 516.5 108.0 518.0 108.0 519.5 108.0 520.1 108.0 519.5 108.3 518.0 108.8 516.5 109.2 515.0 109.4 513.5 109.3 512.0 109.0 510.5 108.6 509.0 108.1 508.9 108.1ZM584.0 130.5 585.5 130.5 587.0 130.5 588.5 130.5 590.0 130.5 591.5 130.5 593.0 130.5 594.5 130.5 596.0 130.5 597.5 130.5 599.0 130.5 600.5 130.5 602.0 130.5 603.5 130.5 605.0 130.5 606.5 130.5 608.0 130.5 609.5 130.5 611.0 130.5 612.5 130.5 614.0 130.5 615.5 130.5 617.0 130.5 618.5 130.5 618.7 130.5 619.8 132.0 620.0 132.3 620.8 133.5 621.5 134.6 621.7 135.0 622.7 136.5 623.0 137.1 623.6 138.0 624.4 139.5 624.5 139.6 625.4 141.0 626.0 141.9 626.5 142.5 627.5 143.6 628.0 144.0 629.0 144.7 630.5 145.4 631.2 145.5 632.0 145.7 633.5 145.7 635.0 145.6 636.1 145.5 636.5 145.5 638.0 145.3 639.5 145.3 641.0 145.4 642.3 145.5 642.5 145.5 644.0 145.7 645.5 145.9 647.0 146.1 648.5 146.3 650.0 146.4 651.5 146.5 652.5 146.5 653.0 147.0 654.5 148.5 656.0 150.0 656.0 151.5 654.5 153.0 654.5 154.5 654.5 156.0 654.5 157.5 654.5 159.0 654.5 160.5 654.5 162.0 654.5 163.5 654.5 164.2 653.4 165.0 653.0 165.3 651.5 166.4 651.4 166.5 650.0 167.6 649.6 168.0 648.5 168.9 647.7 169.5 647.0 170.0 645.5 170.9 645.3 171.0 644.0 171.4 642.5 171.7 641.0 171.8 639.5 171.7 638.0 171.5 636.5 171.2 635.6 171.0 635.0 170.8 633.5 170.3 633.5 169.5 633.5 168.0 633.5 166.5 633.5 165.0 633.5 163.5 633.5 162.0 633.5 160.5 633.5 159.0 633.5 157.5 632.0 156.0 630.5 156.0 629.0 156.0 627.5 156.0 626.0 156.0 624.5 156.0 623.0 156.0 621.5 156.0 620.0 156.0 618.5 156.0 618.1 156.4 617.9 156.0 617.2 154.5 617.0 154.1 616.5 153.0 615.9 151.5 615.5 150.6 615.2 150.0 614.5 148.5 614.0 147.4 613.7 147.0 612.5 145.5 612.5 145.5 611.0 144.5 610.2 144.0 609.5 143.6 608.0 142.9 607.0 142.5 606.5 142.3 605.0 141.8 603.5 141.3 602.4 141.0 602.0 140.9 600.5 140.4 599.0 139.9 597.7 139.5 597.5 139.4 596.0 138.9 594.5 138.3 593.9 138.0 593.0 137.6 591.5 136.8 590.9 136.5 590.0 136.0 588.6 135.0 588.5 135.0 587.0 133.8 586.7 133.5 585.5 132.4 585.1 132.0 584.0 130.8 583.9 130.6ZM717.5 186.0 719.0 186.0 720.5 187.5 722.0 189.0 723.5 190.5 725.0 192.0 726.5 193.5 726.5 195.0 728.0 196.5 729.5 198.0 730.0 198.5 729.5 198.3 728.9 198.0 728.0 197.6 726.5 197.0 725.4 196.5 725.0 196.3 723.5 195.6 722.1 195.0 722.0 194.9 720.5 194.1 719.4 193.5 719.0 193.2 717.5 192.0 717.5 192.0 716.0 190.5 716.0 190.5 714.6 189.0 714.6 188.9 716.0 187.5ZM197.0 196.5 198.5 198.0 200.0 199.5 201.5 201.0 203.0 202.5 204.5 204.0 206.0 204.0 207.5 204.0 209.0 204.0 210.0 204.0 209.0 204.7 207.5 205.1 206.0 205.1 204.5 205.0 203.0 204.9 201.5 205.1 200.2 205.5 200.0 205.5 198.5 206.4 197.9 207.0 197.0 207.9 196.7 208.5 196.0 210.0 195.7 211.5 195.7 213.0 195.8 214.5 196.1 216.0 196.5 217.5 196.9 219.0 197.0 219.6 197.2 220.5 197.4 222.0 197.6 223.5 197.8 225.0 198.0 226.5 198.2 228.0 198.5 229.5 198.5 229.5 199.0 231.0 199.5 232.5 199.9 234.0 200.0 235.5 199.8 237.0 199.3 238.5 198.5 240.0 198.5 240.0 197.4 241.5 197.0 242.0 196.1 243.0 195.5 243.6 194.4 244.5 194.0 244.9 192.6 246.0 192.5 246.1 191.0 247.2 190.5 247.5 189.5 248.1 188.0 248.8 187.5 249.0 186.5 249.3 185.0 249.7 183.5 250.1 182.0 250.5 182.0 250.5 180.5 250.9 179.0 251.3 177.5 251.8 176.7 252.0 176.0 252.2 174.5 252.7 173.0 253.2 172.2 253.5 171.5 253.9 170.0 254.8 169.8 255.0 168.5 256.3 168.3 256.5 167.4 258.0 167.0 258.8 166.7 259.5 166.0 261.0 165.5 261.9 165.0 262.5 164.0 263.6 163.4 264.0 162.5 264.6 161.0 265.2 160.2 265.5 159.5 265.7 158.0 266.1 156.5 266.3 155.0 266.4 155.0 265.5 155.0 264.0 153.5 262.5 152.0 261.0 150.5 259.5 149.0 258.0 147.5 256.5 147.5 255.0 147.5 253.5 147.5 252.0 147.5 250.5 147.5 249.0 148.3 248.2 149.0 248.3 150.5 248.3 152.0 248.3 153.5 248.1 155.0 247.8 156.0 247.5 156.5 247.3 158.0 246.7 159.5 246.0 159.6 246.0 161.0 245.3 162.5 244.6 162.7 244.5 164.0 244.0 165.5 243.5 167.0 243.0 167.2 243.0 168.5 242.7 170.0 242.5 171.5 242.4 173.0 242.3 174.5 242.3 176.0 242.2 177.5 242.2 179.0 242.2 180.5 242.0 182.0 241.7 182.7 241.5 183.5 241.3 185.0 240.7 186.5 240.1 186.6 240.0 188.0 239.4 189.5 238.8 190.6 238.5 191.0 238.4 192.5 237.9 194.0 237.1 194.1 237.0 195.1 235.5 195.1 234.0 194.5 232.5 194.0 231.7 193.5 231.0 192.6 229.5 192.5 229.3 191.6 228.0 191.0 227.1 190.6 226.5 189.6 225.0 189.5 224.8 189.5 223.5 189.5 222.0 189.5 220.5 189.5 219.0 189.5 217.5 189.5 216.0 189.5 214.5 189.5 213.0 189.5 211.5 189.5 210.0 189.5 208.5 189.5 207.0 189.5 205.5 189.5 204.0 191.0 202.5 192.5 201.0 194.0 199.5 195.5 198.0ZM548.0 366.8 549.5 366.4 551.0 366.2 552.5 366.3 554.0 366.7 555.5 367.3 555.9 367.5 557.0 368.4 557.6 369.0 558.2 370.5 558.2 372.0 557.8 373.5 557.0 374.6 556.6 375.0 555.5 375.7 554.0 376.1 552.5 376.2 551.0 376.0 549.5 375.5 548.5 375.0 548.0 374.7 546.5 373.6 546.4 373.5 545.3 372.0 545.0 370.5 545.0 370.5 545.0 370.5 545.4 369.0 546.5 367.7 546.7 367.5Z"/>
<path fill="#b00000" stroke="#b00000" stroke-width="0.6" fill-rule="evenodd" d="M363.5 76.5 365.0 76.5 366.5 76.5 368.0 76.5 369.5 76.5 371.0 76.5 372.5 76.5 374.0 76.5 375.5 76.5 377.0 76.5 378.5 76.5 380.0 76.5 381.5 76.5 383.0 76.5 384.5 76.5 386.0 76.5 387.5 76.5 389.0 76.5 390.5 76.5 392.0 76.5 393.5 76.5 395.0 76.5 396.5 76.5 398.0 76.5 399.5 76.5 401.0 76.5 402.5 76.5 404.0 76.5 405.5 76.5 407.0 78.0 408.5 79.5 410.0 81.0 411.5 81.0 413.0 81.0 414.5 81.0 416.0 82.5 417.5 84.0 419.0 84.0 420.5 84.0 421.9 84.0 420.5 85.2 420.2 85.5 419.0 86.5 418.5 87.0 417.5 87.9 416.9 88.5 416.0 89.4 415.4 90.0 414.5 91.0 414.1 91.5 413.0 93.0 413.0 93.0 412.1 94.5 411.5 95.8 411.4 96.0 410.7 97.5 410.1 99.0 410.0 99.3 409.5 100.5 408.9 102.0 408.5 103.0 408.3 103.5 407.5 105.0 407.0 105.9 406.7 106.5 405.6 108.0 405.5 108.2 404.5 109.5 404.0 110.1 403.3 111.0 402.5 111.9 402.0 112.5 401.0 113.6 400.7 114.0 399.5 115.5 399.5 115.5 398.3 117.0 398.0 117.5 397.3 118.5 396.5 119.8 396.4 120.0 395.6 121.5 395.0 122.6 394.8 123.0 394.2 124.5 393.7 126.0 393.5 126.6 393.3 127.5 392.9 129.0 392.6 130.5 392.4 132.0 392.2 133.5 392.1 135.0 392.0 135.7 391.9 136.5 391.8 138.0 391.6 139.5 391.4 141.0 391.1 142.5 390.9 144.0 390.6 145.5 390.5 145.9 390.3 147.0 389.9 148.5 389.6 150.0 389.2 151.5 389.0 152.0 389.0 151.5 389.0 150.0 389.0 148.5 389.0 147.0 389.0 145.5 389.0 144.0 389.0 142.5 389.0 141.0 389.0 139.5 389.0 138.0 389.0 136.5 389.0 135.0 389.0 133.5 389.0 132.0 389.0 130.5 389.0 129.0 389.0 127.5 389.0 126.0 389.0 124.5 389.0 123.0 389.0 121.5 389.0 120.0 389.0 118.5 389.0 117.0 389.0 115.5 389.0 114.0 389.0 112.5 389.0 111.0 389.0 109.5 389.0 108.0 389.0 106.5 389.0 105.0 389.0 103.5 389.0 102.0 389.0 100.5 387.5 99.0 386.0 99.0 384.5 97.5 383.0 97.5 381.5 96.0 380.0 96.0 378.5 96.0 377.0 96.0 375.5 96.0 374.0 96.0 372.5 96.0 371.0 96.0 369.5 94.5 368.0 94.5 366.5 93.0 365.0 93.0 363.5 91.5 362.0 90.0 360.5 88.5 359.0 87.0 357.5 85.5 356.0 84.0 357.5 82.5 359.0 81.0 360.5 79.5 362.0 78.0ZM396.0 85.5 395.1 87.0 395.0 87.4 394.8 88.5 394.8 90.0 395.0 91.0 395.2 91.5 396.4 93.0 396.5 93.1 398.0 93.7 399.5 93.7 400.7 93.0 401.0 92.7 401.6 91.5 401.7 90.0 401.6 88.5 401.1 87.0 401.0 86.7 400.2 85.5 399.5 84.8 398.0 84.4 396.5 84.9ZM620.0 130.5 621.5 130.5 623.0 130.5 624.5 130.5 626.0 130.5 627.5 130.5 629.0 130.5 630.5 130.5 632.0 130.5 633.5 132.0 635.0 133.5 636.5 133.5 638.0 135.0 639.5 136.5 641.0 138.0 642.5 139.5 644.0 141.0 645.5 142.5 647.0 142.5 648.5 142.5 650.0 144.0 651.5 145.5 652.5 146.5 651.5 146.5 650.0 146.4 648.5 146.3 647.0 146.1 645.5 145.9 644.0 145.7 642.5 145.5 642.3 145.5 641.0 145.4 639.5 145.3 638.0 145.3 636.5 145.5 636.1 145.5 635.0 145.6 633.5 145.7 632.0 145.7 631.2 145.5 630.5 145.4 629.0 144.7 628.0 144.0 627.5 143.6 626.5 142.5 626.0 141.9 625.4 141.0 624.5 139.6 624.4 139.5 623.6 138.0 623.0 137.1 622.7 136.5 621.7 135.0 621.5 134.6 620.8 133.5 620.0 132.3 619.8 132.0 618.7 130.5ZM357.5 150.0 359.0 151.5 360.5 153.0 362.0 154.5 363.5 156.0 365.0 157.5 366.5 157.5 368.0 157.5 369.5 157.5 371.0 157.5 372.5 157.5 374.0 157.5 375.5 157.5 377.0 157.5 378.5 157.5 380.0 157.5 381.5 157.5 383.0 157.5 384.5 157.5 386.0 157.5 386.6 157.5 386.0 158.3 385.5 159.0 384.5 159.9 383.9 160.5 383.0 161.1 381.5 162.0 381.5 162.0 380.0 162.7 378.5 163.2 377.8 163.5 377.0 163.7 375.5 164.1 374.0 164.5 372.5 164.8 371.0 165.0 370.6 165.0 369.5 165.1 368.0 165.1 366.5 165.1 365.0 165.1 363.5 165.1 362.0 165.1 360.5 165.2 359.0 165.3 357.5 165.4 356.0 165.6 354.5 165.8 353.0 166.1 351.5 166.4 350.9 166.5 350.0 166.7 348.5 166.9 347.0 167.2 345.5 167.4 344.0 167.6 342.5 167.7 341.2 167.8 342.5 166.5 344.0 165.0 345.5 163.5 347.0 163.5 348.5 163.5 350.0 162.0 350.0 160.5 350.0 159.0 350.0 157.5 351.5 156.0 353.0 154.5 354.5 153.0 356.0 151.5ZM189.6 225.0 190.6 226.5 191.0 227.1 191.6 228.0 192.5 229.3 192.6 229.5 193.5 231.0 194.0 231.7 194.5 232.5 195.1 234.0 195.1 235.5 194.1 237.0 194.0 237.1 192.5 237.9 191.0 238.4 190.6 238.5 189.5 238.8 188.0 239.4 186.6 240.0 186.5 240.1 185.0 240.7 183.5 241.3 182.7 241.5 182.0 241.7 180.5 242.0 179.0 242.2 177.5 242.2 176.0 242.2 174.5 242.3 173.0 242.3 171.5 242.4 170.0 242.5 168.5 242.7 167.2 243.0 167.0 243.0 165.5 243.5 164.0 244.0 162.7 244.5 162.5 244.6 161.0 245.3 159.6 246.0 159.5 246.0 158.0 246.7 156.5 247.3 156.0 247.5 155.0 247.8 153.5 248.1 152.0 248.3 150.5 248.3 149.0 248.3 148.3 248.2 149.0 247.5 150.5 246.0 152.0 244.5 153.5 243.0 155.0 241.5 156.5 241.5 158.0 241.5 159.5 241.5 161.0 241.5 162.5 241.5 164.0 240.0 165.5 240.0 167.0 240.0 168.5 240.0 170.0 240.0 171.5 240.0 173.0 238.5 173.0 237.0 173.0 235.5 173.0 234.0 174.5 232.5 176.0 231.0 177.5 229.5 179.0 228.0 180.5 226.5 182.0 226.5 183.5 226.5 185.0 226.5 186.5 226.5 188.0 226.5 189.5 225.0 189.5 224.8Z"/>
</g>
<path d="M683 193 L699.5 207" stroke="#ff8300" stroke-width="1.6" fill="none"/>
<path d="M648.5 201.5 L644 206 L641 210 L637 215.5" stroke="#ffca00" stroke-width="1.6" fill="none" stroke-dasharray="3 1.5"/>
<rect x="175.5" y="352.3" width="5.5" height="2.2" fill="#ff8300"/>
<g stroke="#262626" stroke-width="1" fill="none" shape-rendering="crispEdges">
<rect x="125.5" y="37.5" width="655" height="393"/>
<path d="M219.07 430.50 V423.50 M219.07 37.50 V44.50"/>
<path d="M312.64 430.50 V423.50 M312.64 37.50 V44.50"/>
<path d="M406.21 430.50 V423.50 M406.21 37.50 V44.50"/>
<path d="M499.79 430.50 V423.50 M499.79 37.50 V44.50"/>
<path d="M593.36 430.50 V423.50 M593.36 37.50 V44.50"/>
<path d="M686.93 430.50 V423.50 M686.93 37.50 V44.50"/>
<path d="M125.50 86.62 H132.50 M780.50 86.62 H773.50"/>
<path d="M125.50 135.75 H132.50 M780.50 135.75 H773.50"/>
<path d="M125.50 184.88 H132.50 M780.50 184.88 H773.50"/>
<path d="M125.50 234.00 H132.50 M780.50 234.00 H773.50"/>
<path d="M125.50 283.12 H132.50 M780.50 283.12 H773.50"/>
<path d="M125.50 332.25 H132.50 M780.50 332.25 H773.50"/>
<path d="M125.50 381.38 H132.50 M780.50 381.38 H773.50"/>
</g>
<g font-family="Liberation Sans, Arial, sans-serif" font-size="20.8" fill="#262626">
<text x="125.00" y="460" text-anchor="middle" transform="matrix(1 0 0 1.065 0 -29.900)">-64.8</text>
<text x="218.57" y="460" text-anchor="middle" transform="matrix(1 0 0 1.065 0 -29.900)">-64.78</text>
<text x="312.14" y="460" text-anchor="middle" transform="matrix(1 0 0 1.065 0 -29.900)">-64.76</text>
<text x="405.71" y="460" text-anchor="middle" transform="matrix(1 0 0 1.065 0 -29.900)">-64.74</text>
<text x="499.29" y="460" text-anchor="middle" transform="matrix(1 0 0 1.065 0 -29.900)">-64.72</text>
<text x="592.86" y="460" text-anchor="middle" transform="matrix(1 0 0 1.065 0 -29.900)">-64.7</text>
<text x="686.43" y="460" text-anchor="middle" transform="matrix(1 0 0 1.065 0 -29.900)">-64.68</text>
<text x="780.00" y="460" text-anchor="middle" transform="matrix(1 0 0 1.065 0 -29.900)">-64.66</text>
<text x="117" y="45.00" text-anchor="end" transform="matrix(1 0 0 1.065 0 -2.925)">18.38</text>
<text x="117" y="94.12" text-anchor="end" transform="matrix(1 0 0 1.065 0 -6.118)">18.37</text>
<text x="117" y="143.25" text-anchor="end" transform="matrix(1 0 0 1.065 0 -9.311)">18.36</text>
<text x="117" y="192.38" text-anchor="end" transform="matrix(1 0 0 1.065 0 -12.504)">18.35</text>
<text x="117" y="241.50" text-anchor="end" transform="matrix(1 0 0 1.065 0 -15.697)">18.34</text>
<text x="117" y="290.62" text-anchor="end" transform="matrix(1 0 0 1.065 0 -18.891)">18.33</text>
<text x="117" y="339.75" text-anchor="end" transform="matrix(1 0 0 1.065 0 -22.084)">18.32</text>
<text x="117" y="388.88" text-anchor="end" transform="matrix(1 0 0 1.065 0 -25.277)">18.31</text>
<text x="117" y="438.00" text-anchor="end" transform="matrix(1 0 0 1.065 0 -28.470)">18.3</text>
</g>
<text x="452.5" y="491" text-anchor="middle" font-family="Liberation Sans, Arial, sans-serif" font-size="22.9" fill="#262626" transform="matrix(1 0 0 1.09 0 -44.190)">Longitude</text>
<text transform="translate(51.7 234.2) rotate(-90)" text-anchor="middle" font-family="Liberation Sans, Arial, sans-serif" font-size="22.9" fill="#262626">Latitude</text>
<text x="452.5" y="28" text-anchor="middle" font-family="Liberation Sans, Arial, sans-serif" font-weight="bold" font-size="22.9" fill="#000" transform="matrix(1 0 0 1.1 0 -2.8)">NET RADIATION (MJ/m2/day) 30-Nov-2025</text>
<rect x="126" y="514" width="654" height="34" fill="url(#jet)"/>
<rect x="126.5" y="514.5" width="653" height="33" fill="none" stroke="#262626" stroke-width="1" shape-rendering="crispEdges"/>
<g stroke="#262626" stroke-width="1" shape-rendering="crispEdges">
<path d="M169.50 547.50 V541.00"/>
<path d="M283.50 547.50 V541.00"/>
<path d="M396.50 547.50 V541.00"/>
<path d="M509.50 547.50 V541.00"/>
<path d="M623.50 547.50 V541.00"/>
<path d="M736.50 547.50 V541.00"/>
</g>
<g font-family="Liberation Sans, Arial, sans-serif" font-size="18.75" fill="#262626" text-anchor="middle">
<text x="169.20" y="575" transform="matrix(1 0 0 1.065 0 -37.375)">8.5</text>
<text x="283.20" y="575" transform="matrix(1 0 0 1.065 0 -37.375)">9</text>
<text x="396.20" y="575" transform="matrix(1 0 0 1.065 0 -37.375)">9.5</text>
<text x="509.20" y="575" transform="matrix(1 0 0 1.065 0 -37.375)">10</text>
<text x="623.20" y="575" transform="matrix(1 0 0 1.065 0 -37.375)">10.5</text>
<text x="736.20" y="575" transform="matrix(1 0 0 1.065 0 -37.375)">11</text>
</g>
</svg>
</body></html>
